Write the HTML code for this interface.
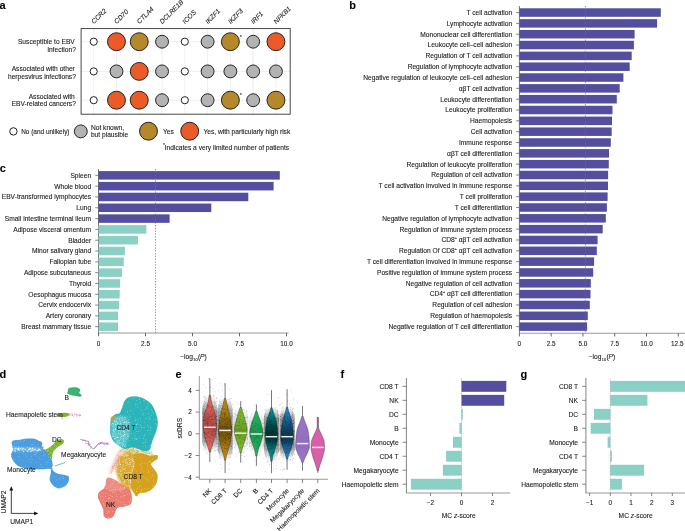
<!DOCTYPE html>
<html><head><meta charset="utf-8"><style>
html,body{margin:0;padding:0;background:#fff;width:685px;height:531px;overflow:hidden}
svg{display:block;will-change:transform;font-family:"Liberation Sans", sans-serif;fill:#1a1a1a}
text{stroke:#1a1a1a;stroke-width:0.1px}
</style></head><body>
<svg width="685" height="531" viewBox="0 0 685 531">
<g fill="#1a1a1a">
<text x="-0.6" y="9.2" font-size="11" font-weight="bold" fill="#000">a</text>
<text x="349.3" y="9.0" font-size="11" font-weight="bold" fill="#000">b</text>
<text x="-0.3" y="172.0" font-size="11" font-weight="bold" fill="#000">c</text>
<text x="-0.6" y="378.0" font-size="11" font-weight="bold" fill="#000">d</text>
<text x="175.6" y="378.1" font-size="11" font-weight="bold" fill="#000">e</text>
<text x="340.6" y="378.0" font-size="11" font-weight="bold" fill="#000">f</text>
<text x="520.6" y="377.6" font-size="11" font-weight="bold" fill="#000">g</text>
<line x1="93.70" y1="28.6" x2="93.70" y2="114.2" stroke="#e4e4e4" stroke-width="0.6"/>
<line x1="116.48" y1="28.6" x2="116.48" y2="114.2" stroke="#e4e4e4" stroke-width="0.6"/>
<line x1="139.26" y1="28.6" x2="139.26" y2="114.2" stroke="#e4e4e4" stroke-width="0.6"/>
<line x1="162.04" y1="28.6" x2="162.04" y2="114.2" stroke="#e4e4e4" stroke-width="0.6"/>
<line x1="184.82" y1="28.6" x2="184.82" y2="114.2" stroke="#e4e4e4" stroke-width="0.6"/>
<line x1="207.60" y1="28.6" x2="207.60" y2="114.2" stroke="#e4e4e4" stroke-width="0.6"/>
<line x1="230.38" y1="28.6" x2="230.38" y2="114.2" stroke="#e4e4e4" stroke-width="0.6"/>
<line x1="253.16" y1="28.6" x2="253.16" y2="114.2" stroke="#e4e4e4" stroke-width="0.6"/>
<line x1="275.94" y1="28.6" x2="275.94" y2="114.2" stroke="#e4e4e4" stroke-width="0.6"/>
<line x1="81" y1="41.7" x2="290.2" y2="41.7" stroke="#e4e4e4" stroke-width="0.6"/>
<line x1="81" y1="71.4" x2="290.2" y2="71.4" stroke="#e4e4e4" stroke-width="0.6"/>
<line x1="81" y1="100.2" x2="290.2" y2="100.2" stroke="#e4e4e4" stroke-width="0.6"/>
<rect x="81.1" y="28.6" width="209.1" height="85.6" fill="none" stroke="#333" stroke-width="0.9"/>
<text transform="translate(94.00,24.2) rotate(-45)" font-size="6.65" font-style="italic">CCR2</text>
<text transform="translate(116.78,24.2) rotate(-45)" font-size="6.65" font-style="italic">CD70</text>
<text transform="translate(139.56,24.2) rotate(-45)" font-size="6.65" font-style="italic">CTLA4</text>
<text transform="translate(162.34,24.2) rotate(-45)" font-size="6.65" font-style="italic">DCLRE1B</text>
<text transform="translate(185.12,24.2) rotate(-45)" font-size="6.65" font-style="italic">ICOS</text>
<text transform="translate(207.90,24.2) rotate(-45)" font-size="6.65" font-style="italic">IKZF1</text>
<text transform="translate(230.68,24.2) rotate(-45)" font-size="6.65" font-style="italic">IKZF3</text>
<text transform="translate(253.46,24.2) rotate(-45)" font-size="6.65" font-style="italic">IRF1</text>
<text transform="translate(276.24,24.2) rotate(-45)" font-size="6.65" font-style="italic">NFKB1</text>
<circle cx="93.70" cy="41.70" r="3.6" fill="#fff" stroke="#222" stroke-width="1.0"/>
<circle cx="116.48" cy="41.70" r="8.95" fill="#ea5b28" stroke="#222" stroke-width="1.0"/>
<circle cx="139.26" cy="41.70" r="8.95" fill="#b5892b" stroke="#222" stroke-width="1.0"/>
<circle cx="162.04" cy="41.70" r="6.45" fill="#b3b3b3" stroke="#222" stroke-width="1.0"/>
<circle cx="184.82" cy="41.70" r="3.6" fill="#fff" stroke="#222" stroke-width="1.0"/>
<circle cx="207.60" cy="41.70" r="6.45" fill="#b3b3b3" stroke="#222" stroke-width="1.0"/>
<circle cx="230.38" cy="41.70" r="8.95" fill="#b5892b" stroke="#222" stroke-width="1.0"/>
<circle cx="253.16" cy="41.70" r="6.45" fill="#b3b3b3" stroke="#222" stroke-width="1.0"/>
<circle cx="275.94" cy="41.70" r="8.95" fill="#ea5b28" stroke="#222" stroke-width="1.0"/>
<circle cx="93.70" cy="71.40" r="3.6" fill="#fff" stroke="#222" stroke-width="1.0"/>
<circle cx="116.48" cy="71.40" r="6.45" fill="#b3b3b3" stroke="#222" stroke-width="1.0"/>
<circle cx="139.26" cy="71.40" r="8.95" fill="#ea5b28" stroke="#222" stroke-width="1.0"/>
<circle cx="162.04" cy="71.40" r="6.45" fill="#b3b3b3" stroke="#222" stroke-width="1.0"/>
<circle cx="184.82" cy="71.40" r="3.6" fill="#fff" stroke="#222" stroke-width="1.0"/>
<circle cx="207.60" cy="71.40" r="6.45" fill="#b3b3b3" stroke="#222" stroke-width="1.0"/>
<circle cx="230.38" cy="71.40" r="6.45" fill="#b3b3b3" stroke="#222" stroke-width="1.0"/>
<circle cx="253.16" cy="71.40" r="6.45" fill="#b3b3b3" stroke="#222" stroke-width="1.0"/>
<circle cx="275.94" cy="71.40" r="6.45" fill="#b3b3b3" stroke="#222" stroke-width="1.0"/>
<circle cx="93.70" cy="100.20" r="3.6" fill="#fff" stroke="#222" stroke-width="1.0"/>
<circle cx="116.48" cy="100.20" r="8.95" fill="#ea5b28" stroke="#222" stroke-width="1.0"/>
<circle cx="139.26" cy="100.20" r="8.95" fill="#ea5b28" stroke="#222" stroke-width="1.0"/>
<circle cx="162.04" cy="100.20" r="6.45" fill="#b3b3b3" stroke="#222" stroke-width="1.0"/>
<circle cx="184.82" cy="100.20" r="3.6" fill="#fff" stroke="#222" stroke-width="1.0"/>
<circle cx="207.60" cy="100.20" r="6.45" fill="#b3b3b3" stroke="#222" stroke-width="1.0"/>
<circle cx="230.38" cy="100.20" r="8.95" fill="#b5892b" stroke="#222" stroke-width="1.0"/>
<circle cx="253.16" cy="100.20" r="6.45" fill="#b3b3b3" stroke="#222" stroke-width="1.0"/>
<circle cx="275.94" cy="100.20" r="8.95" fill="#b5892b" stroke="#222" stroke-width="1.0"/>
<text x="239.98" y="38.50" text-anchor="start" font-size="4.5" >*</text>
<text x="239.98" y="97.00" text-anchor="start" font-size="4.5" >*</text>
<text x="74.80" y="44.30" text-anchor="end" font-size="6.65" >Susceptible to EBV</text>
<text x="75.90" y="51.90" text-anchor="end" font-size="6.65" >infection?</text>
<text x="74.80" y="71.40" text-anchor="end" font-size="6.65" >Associated with other</text>
<text x="75.90" y="79.00" text-anchor="end" font-size="6.65" >herpesvirus infections?</text>
<text x="74.80" y="98.60" text-anchor="end" font-size="6.65" >Associated with</text>
<text x="75.90" y="106.10" text-anchor="end" font-size="6.65" >EBV-related cancers?</text>
<circle cx="13.4" cy="131.4" r="3.7" fill="#fff" stroke="#222" stroke-width="1.0"/>
<text x="21.20" y="133.70" text-anchor="start" font-size="6.45" >No (and unlikely)</text>
<circle cx="80.8" cy="131.4" r="6.45" fill="#b3b3b3" stroke="#222" stroke-width="1.0"/>
<text x="90.90" y="129.90" text-anchor="start" font-size="6.65" >Not known,</text>
<text x="90.90" y="137.40" text-anchor="start" font-size="6.65" >but plausible</text>
<circle cx="148.5" cy="131.2" r="8.95" fill="#b5892b" stroke="#222" stroke-width="1.0"/>
<text x="163.00" y="133.60" text-anchor="start" font-size="6.65" >Yes</text>
<circle cx="189.7" cy="131.2" r="8.95" fill="#ea5b28" stroke="#222" stroke-width="1.0"/>
<text x="203.40" y="133.60" text-anchor="start" font-size="6.65" >Yes, with particularly high risk</text>
<text x="163.00" y="147.00" text-anchor="start" font-size="4.5" >*</text>
<text x="164.70" y="149.60" text-anchor="start" font-size="6.65" >Indicates a very limited number of patients</text>
<line x1="519.40" y1="6.0" x2="519.40" y2="333.2" stroke="#666" stroke-width="0.9"/>
<rect x="519.40" y="8.30" width="141.40" height="8.5" fill="#534f9e"/>
<line x1="516.10" y1="12.55" x2="519.40" y2="12.55" stroke="#555" stroke-width="0.7"/>
<text x="512.10" y="14.90" text-anchor="end" font-size="6.65" >T cell activation</text>
<rect x="519.40" y="19.13" width="137.70" height="8.5" fill="#534f9e"/>
<line x1="516.10" y1="23.38" x2="519.40" y2="23.38" stroke="#555" stroke-width="0.7"/>
<text x="512.10" y="25.73" text-anchor="end" font-size="6.65" >Lymphocyte activation</text>
<rect x="519.40" y="29.96" width="115.20" height="8.5" fill="#534f9e"/>
<line x1="516.10" y1="34.21" x2="519.40" y2="34.21" stroke="#555" stroke-width="0.7"/>
<text x="512.10" y="36.56" text-anchor="end" font-size="6.65" >Mononuclear cell differentiation</text>
<rect x="519.40" y="40.79" width="114.50" height="8.5" fill="#534f9e"/>
<line x1="516.10" y1="45.04" x2="519.40" y2="45.04" stroke="#555" stroke-width="0.7"/>
<text x="512.10" y="47.39" text-anchor="end" font-size="6.65" >Leukocyte cell–cell adhesion</text>
<rect x="519.40" y="51.62" width="112.30" height="8.5" fill="#534f9e"/>
<line x1="516.10" y1="55.87" x2="519.40" y2="55.87" stroke="#555" stroke-width="0.7"/>
<text x="512.10" y="58.22" text-anchor="end" font-size="6.65" >Regulation of T cell activation</text>
<rect x="519.40" y="62.45" width="110.30" height="8.5" fill="#534f9e"/>
<line x1="516.10" y1="66.70" x2="519.40" y2="66.70" stroke="#555" stroke-width="0.7"/>
<text x="512.10" y="69.05" text-anchor="end" font-size="6.65" >Regulation of lymphocyte activation</text>
<rect x="519.40" y="73.28" width="104.00" height="8.5" fill="#534f9e"/>
<line x1="516.10" y1="77.53" x2="519.40" y2="77.53" stroke="#555" stroke-width="0.7"/>
<text x="512.10" y="79.88" text-anchor="end" font-size="6.65" >Negative regulation of leukocyte cell–cell adhesion</text>
<rect x="519.40" y="84.11" width="100.30" height="8.5" fill="#534f9e"/>
<line x1="516.10" y1="88.36" x2="519.40" y2="88.36" stroke="#555" stroke-width="0.7"/>
<text x="512.10" y="90.71" text-anchor="end" font-size="6.65" >αβT cell activation</text>
<rect x="519.40" y="94.94" width="97.40" height="8.5" fill="#534f9e"/>
<line x1="516.10" y1="99.19" x2="519.40" y2="99.19" stroke="#555" stroke-width="0.7"/>
<text x="512.10" y="101.54" text-anchor="end" font-size="6.65" >Leukocyte differentiation</text>
<rect x="519.40" y="105.77" width="93.10" height="8.5" fill="#534f9e"/>
<line x1="516.10" y1="110.02" x2="519.40" y2="110.02" stroke="#555" stroke-width="0.7"/>
<text x="512.10" y="112.37" text-anchor="end" font-size="6.65" >Leukocyte proliferation</text>
<rect x="519.40" y="116.60" width="92.60" height="8.5" fill="#534f9e"/>
<line x1="516.10" y1="120.85" x2="519.40" y2="120.85" stroke="#555" stroke-width="0.7"/>
<text x="512.10" y="123.20" text-anchor="end" font-size="6.65" >Haemopoiesis</text>
<rect x="519.40" y="127.43" width="92.30" height="8.5" fill="#534f9e"/>
<line x1="516.10" y1="131.68" x2="519.40" y2="131.68" stroke="#555" stroke-width="0.7"/>
<text x="512.10" y="134.03" text-anchor="end" font-size="6.65" >Cell activation</text>
<rect x="519.40" y="138.26" width="91.40" height="8.5" fill="#534f9e"/>
<line x1="516.10" y1="142.51" x2="519.40" y2="142.51" stroke="#555" stroke-width="0.7"/>
<text x="512.10" y="144.86" text-anchor="end" font-size="6.65" >Immune response</text>
<rect x="519.40" y="149.09" width="89.60" height="8.5" fill="#534f9e"/>
<line x1="516.10" y1="153.34" x2="519.40" y2="153.34" stroke="#555" stroke-width="0.7"/>
<text x="512.10" y="155.69" text-anchor="end" font-size="6.65" >αβT cell differentiation</text>
<rect x="519.40" y="159.92" width="89.40" height="8.5" fill="#534f9e"/>
<line x1="516.10" y1="164.17" x2="519.40" y2="164.17" stroke="#555" stroke-width="0.7"/>
<text x="512.10" y="166.52" text-anchor="end" font-size="6.65" >Regulation of leukocyte proliferation</text>
<rect x="519.40" y="170.75" width="88.70" height="8.5" fill="#534f9e"/>
<line x1="516.10" y1="175.00" x2="519.40" y2="175.00" stroke="#555" stroke-width="0.7"/>
<text x="512.10" y="177.35" text-anchor="end" font-size="6.65" >Regulation of cell activation</text>
<rect x="519.40" y="181.58" width="88.60" height="8.5" fill="#534f9e"/>
<line x1="516.10" y1="185.83" x2="519.40" y2="185.83" stroke="#555" stroke-width="0.7"/>
<text x="512.10" y="188.18" text-anchor="end" font-size="6.65" >T cell activation involved in immune response</text>
<rect x="519.40" y="192.41" width="88.20" height="8.5" fill="#534f9e"/>
<line x1="516.10" y1="196.66" x2="519.40" y2="196.66" stroke="#555" stroke-width="0.7"/>
<text x="512.10" y="199.01" text-anchor="end" font-size="6.65" >T cell proliferation</text>
<rect x="519.40" y="203.24" width="87.50" height="8.5" fill="#534f9e"/>
<line x1="516.10" y1="207.49" x2="519.40" y2="207.49" stroke="#555" stroke-width="0.7"/>
<text x="512.10" y="209.84" text-anchor="end" font-size="6.65" >T cell differentiation</text>
<rect x="519.40" y="214.07" width="86.40" height="8.5" fill="#534f9e"/>
<line x1="516.10" y1="218.32" x2="519.40" y2="218.32" stroke="#555" stroke-width="0.7"/>
<text x="512.10" y="220.67" text-anchor="end" font-size="6.65" >Negative regulation of lymphocyte activation</text>
<rect x="519.40" y="224.90" width="83.30" height="8.5" fill="#534f9e"/>
<line x1="516.10" y1="229.15" x2="519.40" y2="229.15" stroke="#555" stroke-width="0.7"/>
<text x="512.10" y="231.50" text-anchor="end" font-size="6.65" >Regulation of immune system process</text>
<rect x="519.40" y="235.73" width="78.20" height="8.5" fill="#534f9e"/>
<line x1="516.10" y1="239.98" x2="519.40" y2="239.98" stroke="#555" stroke-width="0.7"/>
<text x="512.10" y="242.33" text-anchor="end" font-size="6.65" >CD8<tspan font-size="3.8" dy="-3.1">+</tspan><tspan dy="3.1"> αβT cell activation</tspan></text>
<rect x="519.40" y="246.56" width="77.40" height="8.5" fill="#534f9e"/>
<line x1="516.10" y1="250.81" x2="519.40" y2="250.81" stroke="#555" stroke-width="0.7"/>
<text x="512.10" y="253.16" text-anchor="end" font-size="6.65" >Regulation Of CD8<tspan font-size="3.8" dy="-3.1">+</tspan><tspan dy="3.1"> αβT cell activation</tspan></text>
<rect x="519.40" y="257.39" width="74.70" height="8.5" fill="#534f9e"/>
<line x1="516.10" y1="261.64" x2="519.40" y2="261.64" stroke="#555" stroke-width="0.7"/>
<text x="512.10" y="263.99" text-anchor="end" font-size="6.65" >T cell differentiation involved in immune response</text>
<rect x="519.40" y="268.22" width="73.80" height="8.5" fill="#534f9e"/>
<line x1="516.10" y1="272.47" x2="519.40" y2="272.47" stroke="#555" stroke-width="0.7"/>
<text x="512.10" y="274.82" text-anchor="end" font-size="6.65" >Positive regulation of immune system process</text>
<rect x="519.40" y="279.05" width="71.40" height="8.5" fill="#534f9e"/>
<line x1="516.10" y1="283.30" x2="519.40" y2="283.30" stroke="#555" stroke-width="0.7"/>
<text x="512.10" y="285.65" text-anchor="end" font-size="6.65" >Negative regulation of cell activation</text>
<rect x="519.40" y="289.88" width="71.10" height="8.5" fill="#534f9e"/>
<line x1="516.10" y1="294.13" x2="519.40" y2="294.13" stroke="#555" stroke-width="0.7"/>
<text x="512.10" y="296.48" text-anchor="end" font-size="6.65" >CD4<tspan font-size="3.8" dy="-3.1">+</tspan><tspan dy="3.1"> αβT cell differentiation</tspan></text>
<rect x="519.40" y="300.71" width="70.40" height="8.5" fill="#534f9e"/>
<line x1="516.10" y1="304.96" x2="519.40" y2="304.96" stroke="#555" stroke-width="0.7"/>
<text x="512.10" y="307.31" text-anchor="end" font-size="6.65" >Regulation of cell adhesion</text>
<rect x="519.40" y="311.54" width="68.40" height="8.5" fill="#534f9e"/>
<line x1="516.10" y1="315.79" x2="519.40" y2="315.79" stroke="#555" stroke-width="0.7"/>
<text x="512.10" y="318.14" text-anchor="end" font-size="6.65" >Regulation of haemopoiesis</text>
<rect x="519.40" y="322.37" width="67.70" height="8.5" fill="#534f9e"/>
<line x1="516.10" y1="326.62" x2="519.40" y2="326.62" stroke="#555" stroke-width="0.7"/>
<text x="512.10" y="328.97" text-anchor="end" font-size="6.65" >Negative regulation of T cell differentiation</text>
<line x1="519.00" y1="333.2" x2="685" y2="333.2" stroke="#9a9a9a" stroke-width="1.1"/>
<line x1="519.40" y1="333.2" x2="519.40" y2="336.5" stroke="#444" stroke-width="0.8"/>
<text x="519.40" y="345.80" text-anchor="middle" font-size="6.4" >0</text>
<line x1="551.17" y1="333.2" x2="551.17" y2="336.5" stroke="#444" stroke-width="0.8"/>
<text x="551.17" y="345.80" text-anchor="middle" font-size="6.4" >2.5</text>
<line x1="582.95" y1="333.2" x2="582.95" y2="336.5" stroke="#444" stroke-width="0.8"/>
<text x="582.95" y="345.80" text-anchor="middle" font-size="6.4" >5.0</text>
<line x1="614.73" y1="333.2" x2="614.73" y2="336.5" stroke="#444" stroke-width="0.8"/>
<text x="614.73" y="345.80" text-anchor="middle" font-size="6.4" >7.5</text>
<line x1="646.50" y1="333.2" x2="646.50" y2="336.5" stroke="#444" stroke-width="0.8"/>
<text x="646.50" y="345.80" text-anchor="middle" font-size="6.4" >10.0</text>
<line x1="678.27" y1="333.2" x2="678.27" y2="336.5" stroke="#444" stroke-width="0.8"/>
<text x="677.27" y="345.80" text-anchor="middle" font-size="6.4" >12.5</text>
<line x1="585.40" y1="6.0" x2="585.40" y2="333.2" stroke="#c4503c" stroke-width="0.7" stroke-dasharray="1.4,1.4"/>
<text x="602" y="359.2" font-size="6.65" text-anchor="middle">−log<tspan font-size="3.8" dx="0.3" dy="1.8">10</tspan><tspan dx="0.4" dy="-1.8">(</tspan><tspan font-style="italic">P</tspan>)</text>
<line x1="98.50" y1="169.0" x2="98.50" y2="333.0" stroke="#666" stroke-width="0.9"/>
<rect x="98.50" y="171.10" width="181.30" height="8.5" fill="#534f9e"/>
<line x1="95.20" y1="175.35" x2="98.50" y2="175.35" stroke="#555" stroke-width="0.7"/>
<text x="91.10" y="177.70" text-anchor="end" font-size="6.65" >Spleen</text>
<rect x="98.50" y="181.91" width="175.10" height="8.5" fill="#534f9e"/>
<line x1="95.20" y1="186.16" x2="98.50" y2="186.16" stroke="#555" stroke-width="0.7"/>
<text x="91.10" y="188.51" text-anchor="end" font-size="6.65" >Whole blood</text>
<rect x="98.50" y="192.72" width="149.80" height="8.5" fill="#534f9e"/>
<line x1="95.20" y1="196.97" x2="98.50" y2="196.97" stroke="#555" stroke-width="0.7"/>
<text x="91.10" y="199.32" text-anchor="end" font-size="6.65" >EBV-transformed lymphocytes</text>
<rect x="98.50" y="203.53" width="112.80" height="8.5" fill="#534f9e"/>
<line x1="95.20" y1="207.78" x2="98.50" y2="207.78" stroke="#555" stroke-width="0.7"/>
<text x="91.10" y="210.13" text-anchor="end" font-size="6.65" >Lung</text>
<rect x="98.50" y="214.34" width="71.10" height="8.5" fill="#534f9e"/>
<line x1="95.20" y1="218.59" x2="98.50" y2="218.59" stroke="#555" stroke-width="0.7"/>
<text x="91.10" y="220.94" text-anchor="end" font-size="6.65" >Small intestine terminal ileum</text>
<rect x="98.50" y="225.15" width="47.90" height="8.5" fill="#8bd0c5"/>
<line x1="95.20" y1="229.40" x2="98.50" y2="229.40" stroke="#555" stroke-width="0.7"/>
<text x="91.10" y="231.75" text-anchor="end" font-size="6.65" >Adipose visceral omentum</text>
<rect x="98.50" y="235.96" width="39.40" height="8.5" fill="#8bd0c5"/>
<line x1="95.20" y1="240.21" x2="98.50" y2="240.21" stroke="#555" stroke-width="0.7"/>
<text x="91.10" y="242.56" text-anchor="end" font-size="6.65" >Bladder</text>
<rect x="98.50" y="246.77" width="26.40" height="8.5" fill="#8bd0c5"/>
<line x1="95.20" y1="251.02" x2="98.50" y2="251.02" stroke="#555" stroke-width="0.7"/>
<text x="91.10" y="253.37" text-anchor="end" font-size="6.65" >Minor salivary gland</text>
<rect x="98.50" y="257.58" width="25.30" height="8.5" fill="#8bd0c5"/>
<line x1="95.20" y1="261.83" x2="98.50" y2="261.83" stroke="#555" stroke-width="0.7"/>
<text x="91.10" y="264.18" text-anchor="end" font-size="6.65" >Fallopian tube</text>
<rect x="98.50" y="268.39" width="23.60" height="8.5" fill="#8bd0c5"/>
<line x1="95.20" y1="272.64" x2="98.50" y2="272.64" stroke="#555" stroke-width="0.7"/>
<text x="91.10" y="274.99" text-anchor="end" font-size="6.65" >Adipose subcutaneous</text>
<rect x="98.50" y="279.20" width="21.60" height="8.5" fill="#8bd0c5"/>
<line x1="95.20" y1="283.45" x2="98.50" y2="283.45" stroke="#555" stroke-width="0.7"/>
<text x="91.10" y="285.80" text-anchor="end" font-size="6.65" >Thyroid</text>
<rect x="98.50" y="290.01" width="21.20" height="8.5" fill="#8bd0c5"/>
<line x1="95.20" y1="294.26" x2="98.50" y2="294.26" stroke="#555" stroke-width="0.7"/>
<text x="91.10" y="296.61" text-anchor="end" font-size="6.65" >Oesophagus mucosa</text>
<rect x="98.50" y="300.82" width="20.60" height="8.5" fill="#8bd0c5"/>
<line x1="95.20" y1="305.07" x2="98.50" y2="305.07" stroke="#555" stroke-width="0.7"/>
<text x="91.10" y="307.42" text-anchor="end" font-size="6.65" >Cervix endocervix</text>
<rect x="98.50" y="311.63" width="19.50" height="8.5" fill="#8bd0c5"/>
<line x1="95.20" y1="315.88" x2="98.50" y2="315.88" stroke="#555" stroke-width="0.7"/>
<text x="91.10" y="318.23" text-anchor="end" font-size="6.65" >Artery coronary</text>
<rect x="98.50" y="322.44" width="19.50" height="8.5" fill="#8bd0c5"/>
<line x1="95.20" y1="326.69" x2="98.50" y2="326.69" stroke="#555" stroke-width="0.7"/>
<text x="91.10" y="329.04" text-anchor="end" font-size="6.65" >Breast mammary tissue</text>
<line x1="98.10" y1="333.0" x2="288.6" y2="333.0" stroke="#9a9a9a" stroke-width="1.1"/>
<line x1="98.50" y1="333.0" x2="98.50" y2="336.3" stroke="#444" stroke-width="0.8"/>
<text x="98.50" y="345.60" text-anchor="middle" font-size="6.4" >0</text>
<line x1="145.50" y1="333.0" x2="145.50" y2="336.3" stroke="#444" stroke-width="0.8"/>
<text x="145.50" y="345.60" text-anchor="middle" font-size="6.4" >2.5</text>
<line x1="192.50" y1="333.0" x2="192.50" y2="336.3" stroke="#444" stroke-width="0.8"/>
<text x="192.50" y="345.60" text-anchor="middle" font-size="6.4" >5.0</text>
<line x1="239.50" y1="333.0" x2="239.50" y2="336.3" stroke="#444" stroke-width="0.8"/>
<text x="239.50" y="345.60" text-anchor="middle" font-size="6.4" >7.5</text>
<line x1="286.50" y1="333.0" x2="286.50" y2="336.3" stroke="#444" stroke-width="0.8"/>
<text x="286.50" y="345.60" text-anchor="middle" font-size="6.4" >10.0</text>
<line x1="155.50" y1="169.0" x2="155.50" y2="333.0" stroke="#c4503c" stroke-width="0.7" stroke-dasharray="1.4,1.4"/>
<text x="193.5" y="359.0" font-size="6.65" text-anchor="middle">−log<tspan font-size="3.8" dx="0.3" dy="1.8">10</tspan><tspan dx="0.4" dy="-1.8">(</tspan><tspan font-style="italic">P</tspan>)</text>
<rect x="461.50" y="380.90" width="44.80" height="10.9" fill="#534f9e"/>
<line x1="402.60" y1="386.35" x2="406.40" y2="386.35" stroke="#555" stroke-width="0.7"/>
<text x="398.60" y="388.70" text-anchor="end" font-size="6.65" >CD8 T</text>
<rect x="461.50" y="394.88" width="42.70" height="10.9" fill="#534f9e"/>
<line x1="402.60" y1="400.33" x2="406.40" y2="400.33" stroke="#555" stroke-width="0.7"/>
<text x="398.60" y="402.68" text-anchor="end" font-size="6.65" >NK</text>
<rect x="461.50" y="408.86" width="1.30" height="10.9" fill="#8bd0c5"/>
<line x1="402.60" y1="414.31" x2="406.40" y2="414.31" stroke="#555" stroke-width="0.7"/>
<text x="398.60" y="416.66" text-anchor="end" font-size="6.65" >DC</text>
<rect x="459.40" y="422.84" width="2.10" height="10.9" fill="#8bd0c5"/>
<line x1="402.60" y1="428.29" x2="406.40" y2="428.29" stroke="#555" stroke-width="0.7"/>
<text x="398.60" y="430.64" text-anchor="end" font-size="6.65" >B</text>
<rect x="453.00" y="436.82" width="8.50" height="10.9" fill="#8bd0c5"/>
<line x1="402.60" y1="442.27" x2="406.40" y2="442.27" stroke="#555" stroke-width="0.7"/>
<text x="398.60" y="444.62" text-anchor="end" font-size="6.65" >Monocyte</text>
<rect x="446.10" y="450.80" width="15.40" height="10.9" fill="#8bd0c5"/>
<line x1="402.60" y1="456.25" x2="406.40" y2="456.25" stroke="#555" stroke-width="0.7"/>
<text x="398.60" y="458.60" text-anchor="end" font-size="6.65" >CD4 T</text>
<rect x="442.90" y="464.78" width="18.60" height="10.9" fill="#8bd0c5"/>
<line x1="402.60" y1="470.23" x2="406.40" y2="470.23" stroke="#555" stroke-width="0.7"/>
<text x="398.60" y="472.58" text-anchor="end" font-size="6.65" >Megakaryocyte</text>
<rect x="410.90" y="478.76" width="50.60" height="10.9" fill="#8bd0c5"/>
<line x1="402.60" y1="484.21" x2="406.40" y2="484.21" stroke="#555" stroke-width="0.7"/>
<text x="398.60" y="486.56" text-anchor="end" font-size="6.65" >Haemopoietic stem</text>
<line x1="461.50" y1="378.5" x2="461.50" y2="493" stroke="#888" stroke-width="0.6" stroke-dasharray="0.8,0.8"/>
<line x1="406.40" y1="378" x2="406.40" y2="493" stroke="#666" stroke-width="0.8"/>
<line x1="406.00" y1="493" x2="510" y2="493" stroke="#9a9a9a" stroke-width="1.1"/>
<line x1="430.50" y1="493" x2="430.50" y2="496" stroke="#555" stroke-width="0.7"/>
<text x="430.50" y="505.20" text-anchor="middle" font-size="6.4" >−2</text>
<line x1="461.50" y1="493" x2="461.50" y2="496" stroke="#555" stroke-width="0.7"/>
<text x="461.50" y="505.20" text-anchor="middle" font-size="6.4" >0</text>
<line x1="492.50" y1="493" x2="492.50" y2="496" stroke="#555" stroke-width="0.7"/>
<text x="492.50" y="505.20" text-anchor="middle" font-size="6.4" >2</text>
<text x="458.7" y="518.4" font-size="6.65" text-anchor="middle">MC <tspan font-style="italic">z</tspan>-score</text>
<rect x="610.30" y="380.90" width="79.70" height="10.9" fill="#8bd0c5"/>
<line x1="582.10" y1="386.35" x2="585.90" y2="386.35" stroke="#555" stroke-width="0.7"/>
<text x="578.00" y="388.70" text-anchor="end" font-size="6.65" >CD8 T</text>
<rect x="610.30" y="394.88" width="37.10" height="10.9" fill="#8bd0c5"/>
<line x1="582.10" y1="400.33" x2="585.90" y2="400.33" stroke="#555" stroke-width="0.7"/>
<text x="578.00" y="402.68" text-anchor="end" font-size="6.65" >NK</text>
<rect x="594.00" y="408.86" width="16.30" height="10.9" fill="#8bd0c5"/>
<line x1="582.10" y1="414.31" x2="585.90" y2="414.31" stroke="#555" stroke-width="0.7"/>
<text x="578.00" y="416.66" text-anchor="end" font-size="6.65" >DC</text>
<rect x="590.70" y="422.84" width="19.60" height="10.9" fill="#8bd0c5"/>
<line x1="582.10" y1="428.29" x2="585.90" y2="428.29" stroke="#555" stroke-width="0.7"/>
<text x="578.00" y="430.64" text-anchor="end" font-size="6.65" >B</text>
<rect x="607.60" y="436.82" width="2.70" height="10.9" fill="#8bd0c5"/>
<line x1="582.10" y1="442.27" x2="585.90" y2="442.27" stroke="#555" stroke-width="0.7"/>
<text x="578.00" y="444.62" text-anchor="end" font-size="6.65" >Monocyte</text>
<rect x="610.30" y="450.80" width="1.60" height="10.9" fill="#8bd0c5"/>
<line x1="582.10" y1="456.25" x2="585.90" y2="456.25" stroke="#555" stroke-width="0.7"/>
<text x="578.00" y="458.60" text-anchor="end" font-size="6.65" >CD4 T</text>
<rect x="610.30" y="464.78" width="33.70" height="10.9" fill="#8bd0c5"/>
<line x1="582.10" y1="470.23" x2="585.90" y2="470.23" stroke="#555" stroke-width="0.7"/>
<text x="578.00" y="472.58" text-anchor="end" font-size="6.65" >Megakaryocyte</text>
<rect x="610.30" y="478.76" width="11.60" height="10.9" fill="#8bd0c5"/>
<line x1="582.10" y1="484.21" x2="585.90" y2="484.21" stroke="#555" stroke-width="0.7"/>
<text x="578.00" y="486.56" text-anchor="end" font-size="6.65" >Haemopoietic stem</text>
<line x1="610.30" y1="378.5" x2="610.30" y2="493" stroke="#888" stroke-width="0.6" stroke-dasharray="0.8,0.8"/>
<line x1="585.90" y1="378" x2="585.90" y2="493" stroke="#666" stroke-width="0.8"/>
<line x1="585.50" y1="493" x2="685" y2="493" stroke="#9a9a9a" stroke-width="1.1"/>
<line x1="589.62" y1="493" x2="589.62" y2="496" stroke="#555" stroke-width="0.7"/>
<text x="589.62" y="505.20" text-anchor="middle" font-size="6.4" >−1</text>
<line x1="610.30" y1="493" x2="610.30" y2="496" stroke="#555" stroke-width="0.7"/>
<text x="610.30" y="505.20" text-anchor="middle" font-size="6.4" >0</text>
<line x1="630.98" y1="493" x2="630.98" y2="496" stroke="#555" stroke-width="0.7"/>
<text x="630.98" y="505.20" text-anchor="middle" font-size="6.4" >1</text>
<line x1="651.66" y1="493" x2="651.66" y2="496" stroke="#555" stroke-width="0.7"/>
<text x="651.66" y="505.20" text-anchor="middle" font-size="6.4" >2</text>
<line x1="672.34" y1="493" x2="672.34" y2="496" stroke="#555" stroke-width="0.7"/>
<text x="672.34" y="505.20" text-anchor="middle" font-size="6.4" >3</text>
<text x="635.6" y="518.4" font-size="6.65" text-anchor="middle">MC <tspan font-style="italic">z</tspan>-score</text>
<defs><filter id="bl" x="-20%" y="-20%" width="140%" height="140%"><feGaussianBlur stdDeviation="1.3"/></filter><filter id="bl2" x="-20%" y="-20%" width="140%" height="140%"><feGaussianBlur stdDeviation="0.6"/></filter></defs>
<path d="M120.0,456.0C121.5,454.5 123.7,453.4 126.0,453.0C128.3,452.6 132.9,452.6 134.0,453.6C135.1,454.6 132.5,457.2 132.6,458.8C132.7,460.4 134.3,461.9 134.5,463.5C134.7,465.1 134.0,466.5 133.5,468.2C133.0,469.9 132.2,471.7 131.7,473.9C131.2,476.1 130.7,478.9 130.7,481.4C130.7,483.9 132.1,487.6 131.5,489.0C130.9,490.4 128.6,490.5 127.0,490.0C125.4,489.5 123.5,488.0 122.0,486.0C120.5,484.0 119.0,480.7 118.0,478.0C117.0,475.3 116.2,472.7 116.0,470.0C115.8,467.3 116.3,464.3 117.0,462.0C117.7,459.7 118.5,457.5 120.0,456.0Z" fill="#d6a11e" fill-opacity="0.9" filter="url(#bl)"/>
<path d="M121.0,449.0C122.3,447.9 128.8,447.3 132.0,447.5C135.2,447.7 137.0,449.4 140.0,450.0C143.0,450.6 147.8,450.2 150.0,451.0C152.2,451.8 154.5,454.6 153.0,455.0C151.5,455.4 144.3,453.6 141.0,453.5C137.7,453.4 135.8,454.4 133.0,454.5C130.2,454.6 126.0,454.9 124.0,454.0C122.0,453.1 119.7,450.1 121.0,449.0Z" fill="#d6a11e" fill-opacity="0.4" filter="url(#bl)"/>
<path d="M119.0,450.0C120.5,448.2 122.5,448.3 122.0,451.0C121.5,453.7 117.7,462.3 116.0,466.0C114.3,469.7 113.2,471.8 112.0,473.0C110.8,474.2 108.8,474.8 109.0,473.0C109.2,471.2 111.3,465.8 113.0,462.0C114.7,458.2 117.5,451.8 119.0,450.0Z" fill="#ec7b70" fill-opacity="0.35" filter="url(#bl)"/>
<path d="M108.5,477.6C109.9,477.5 112.5,478.4 114.6,479.5C116.7,480.6 118.9,482.8 121.0,484.0C123.1,485.2 125.6,486.1 127.0,487.0C128.4,487.9 128.8,488.4 129.6,489.7C130.3,491.0 131.2,492.8 131.5,495.0C131.8,497.2 132.2,501.3 131.1,503.2C130.0,505.1 127.3,505.5 125.1,506.2C122.9,506.9 119.6,506.7 118.0,507.5C116.4,508.3 116.3,509.4 115.5,511.0C114.7,512.5 114.3,515.5 113.1,516.8C111.8,518.0 109.5,518.6 108.0,518.5C106.5,518.4 104.8,517.5 104.0,516.0C103.2,514.5 104.0,511.5 103.3,509.2C102.6,506.9 100.9,504.0 100.0,502.0C99.1,500.0 98.2,498.6 98.0,497.0C97.8,495.4 98.2,493.8 99.0,492.5C99.8,491.2 101.9,490.8 103.0,489.5C104.1,488.2 105.0,486.6 105.5,485.0C106.0,483.4 105.5,481.2 106.0,480.0C106.5,478.8 107.1,477.7 108.5,477.6Z" fill="#ec7b70" fill-opacity="0.85" filter="url(#bl2)"/>
<path d="M124.5,400.9C125.4,399.5 126.6,398.2 128.0,397.5C129.4,396.8 131.0,396.5 133.0,396.4C135.0,396.3 137.7,396.3 140.0,397.0C142.3,397.7 145.0,399.2 147.0,400.5C149.0,401.8 150.7,403.2 152.0,405.0C153.3,406.8 154.1,408.8 155.0,411.0C155.9,413.2 156.8,415.7 157.3,418.0C157.8,420.3 158.0,422.7 157.8,425.0C157.6,427.3 156.7,429.8 156.0,432.0C155.3,434.2 154.2,436.0 153.5,438.0C152.8,440.0 152.2,442.0 151.5,444.0C150.8,446.0 150.8,448.8 149.5,450.0C148.2,451.2 145.9,451.2 144.0,451.0C142.1,450.8 140.0,449.6 138.0,449.0C136.0,448.4 134.2,447.5 132.0,447.5C129.8,447.5 127.1,449.2 125.0,449.0C122.9,448.8 121.5,447.5 119.6,446.2C117.7,444.9 115.0,443.3 113.5,441.3C112.0,439.3 111.0,436.4 110.4,434.0C109.9,431.6 110.2,429.2 110.2,427.0C110.2,424.8 110.3,422.7 110.6,421.0C110.9,419.3 111.3,418.0 112.2,416.8C113.1,415.6 114.8,414.6 116.0,414.0C117.2,413.4 118.7,414.0 119.6,413.2C120.5,412.4 121.0,410.2 121.5,409.0C122.0,407.8 122.1,407.2 122.6,405.8C123.1,404.4 123.6,402.3 124.5,400.9Z" fill="#2cb5bd" filter="url(#bl2)"/>
<path d="M133.5,454.1C134.9,453.2 138.4,453.0 141.1,453.2C143.8,453.4 146.8,455.2 149.5,455.5C152.2,455.8 155.8,454.6 157.1,455.1C158.4,455.7 158.2,457.7 157.6,458.8C157.0,459.9 154.4,460.8 153.3,461.7C152.2,462.6 150.8,463.2 151.0,464.5C151.2,465.8 153.2,467.6 154.3,469.2C155.4,470.8 156.8,472.3 157.3,474.0C157.8,475.7 157.7,477.6 157.4,479.5C157.1,481.4 156.5,483.5 155.5,485.2C154.5,486.9 153.1,488.3 151.5,489.5C149.9,490.7 147.9,491.9 146.0,492.5C144.1,493.1 141.6,492.3 140.0,493.0C138.4,493.7 137.5,496.5 136.5,496.5C135.5,496.5 134.8,494.2 134.0,493.0C133.2,491.8 132.1,490.9 131.5,489.0C130.9,487.1 130.7,483.9 130.7,481.4C130.7,478.9 131.2,476.1 131.7,473.9C132.2,471.7 133.0,469.9 133.5,468.2C134.0,466.5 134.7,465.1 134.5,463.5C134.3,461.9 132.8,460.4 132.6,458.8C132.4,457.2 132.1,455.0 133.5,454.1Z" fill="#d6a11e" filter="url(#bl2)"/>
<path d="M11.7,442.2C11.9,441.3 12.3,440.8 13.6,440.4C14.9,440.0 17.5,440.1 19.7,439.8C21.9,439.5 24.6,438.8 27.0,438.6C29.4,438.4 32.4,438.4 34.4,438.8C36.4,439.2 38.1,440.4 39.3,441.0C40.5,441.6 41.1,441.0 41.7,442.2C42.3,443.4 42.1,447.1 42.9,448.4C43.7,449.7 45.2,449.2 46.6,450.2C48.0,451.2 50.6,452.8 51.5,454.5C52.4,456.2 51.9,458.8 52.1,460.6C52.3,462.4 52.7,464.3 52.7,465.5C52.7,466.7 51.9,467.0 52.1,468.0C52.3,469.0 52.9,470.6 54.0,471.6C55.1,472.6 57.2,473.5 58.8,474.0C60.4,474.5 62.1,474.3 63.7,474.7C65.3,475.1 67.8,475.4 68.6,476.5C69.4,477.6 69.2,479.8 68.6,481.4C68.0,483.0 66.6,485.1 65.0,486.3C63.4,487.5 60.6,488.5 58.8,488.5C57.0,488.5 55.4,487.5 54.0,486.3C52.6,485.1 51.0,482.8 50.3,481.4C49.6,480.0 49.6,479.2 49.7,477.7C49.8,476.2 50.8,473.7 50.9,472.2C51.0,470.7 51.8,469.4 50.3,468.9C48.8,468.4 45.2,469.2 41.7,469.2C38.2,469.2 33.2,469.3 29.5,468.9C25.8,468.5 22.1,467.7 19.7,466.7C17.2,465.7 16.1,464.4 14.8,463.0C13.5,461.6 12.3,459.5 11.7,458.1C11.1,456.7 11.0,455.6 11.1,454.5C11.2,453.4 12.0,452.2 12.3,451.4C12.6,450.6 13.0,450.5 13.0,449.6C13.0,448.7 12.5,447.1 12.3,445.9C12.1,444.7 11.5,443.1 11.7,442.2Z" fill="#4a9ee0"/>
<path d="M44.5,451.0C44.5,450.2 46.5,449.2 47.5,448.5C48.5,447.8 49.6,447.2 50.5,446.5C51.4,445.8 52.2,445.3 53.0,444.5C53.8,443.7 54.6,442.3 55.5,441.5C56.4,440.7 57.5,439.9 58.5,439.5C59.5,439.1 60.6,438.8 61.5,439.0C62.4,439.2 63.5,439.8 63.8,440.5C64.1,441.2 64.0,442.2 63.5,443.0C63.0,443.8 61.9,444.3 61.0,445.0C60.1,445.7 58.9,446.3 58.0,447.0C57.1,447.7 56.2,448.2 55.5,449.0C54.8,449.8 54.0,450.5 53.5,451.5C53.0,452.5 52.5,453.7 52.2,455.0C51.9,456.3 51.9,458.8 51.6,459.5C51.3,460.2 50.9,459.7 50.5,459.0C50.1,458.3 50.0,456.5 49.5,455.5C49.0,454.5 48.3,453.8 47.5,453.0C46.7,452.2 44.5,451.8 44.5,451.0Z" fill="#7cb52c"/>
<path d="M68.6,388.3C69.2,387.7 70.2,387.6 71.6,387.5C73.0,387.4 75.4,387.1 76.8,387.4C78.2,387.6 79.3,388.4 79.9,389.0C80.5,389.6 80.3,390.7 80.2,391.3C80.1,391.9 78.9,391.8 79.1,392.4C79.3,393.0 81.0,394.1 81.4,394.7C81.8,395.3 81.8,395.9 81.4,396.2C81.0,396.5 80.1,396.8 79.1,396.7C78.1,396.6 76.4,396.0 75.3,395.8C74.2,395.6 73.2,395.6 72.3,395.4C71.4,395.2 70.9,395.0 70.1,394.7C69.3,394.4 67.8,394.2 67.4,393.6C67.0,393.0 67.6,391.8 67.8,390.9C68.0,390.0 68.0,388.9 68.6,388.3Z" fill="#3cb46e"/>
<path d="M57.5,414.5C58.2,414.0 60.6,413.5 62.0,413.2C63.4,412.9 64.7,412.7 66.0,412.8C67.3,412.9 69.5,413.4 69.7,414.0C69.9,414.6 68.3,415.9 67.0,416.4C65.7,416.9 63.5,417.0 62.0,417.0C60.5,417.0 58.8,416.6 58.0,416.2C57.2,415.8 56.8,415.0 57.5,414.5Z" fill="#7cb52c"/>
<path d="M104.0,489.0C106.2,488.6 109.3,489.6 112.0,490.0C114.7,490.4 117.5,491.7 120.0,491.5C122.5,491.3 125.4,489.3 127.0,489.0C128.6,488.7 128.8,488.7 129.6,489.7C130.3,490.7 131.2,492.8 131.5,495.0C131.8,497.2 132.2,501.3 131.1,503.2C130.0,505.1 127.3,505.5 125.1,506.2C122.9,506.9 119.6,506.7 118.0,507.5C116.4,508.3 116.3,509.4 115.5,511.0C114.7,512.5 114.3,515.5 113.1,516.8C111.8,518.0 109.5,518.6 108.0,518.5C106.5,518.4 104.8,517.5 104.0,516.0C103.2,514.5 104.0,511.5 103.3,509.2C102.6,506.9 100.9,504.0 100.0,502.0C99.1,500.0 98.2,498.6 98.0,497.0C97.8,495.4 98.0,493.8 99.0,492.5C100.0,491.2 101.8,489.4 104.0,489.0Z" fill="#ec7b70" filter="url(#bl2)"/>
<path d="M113.0,418.0C114.5,416.3 117.7,416.0 120.0,416.0C122.3,416.0 125.3,416.5 127.0,418.0C128.7,419.5 129.8,421.7 130.0,425.0C130.2,428.3 129.0,434.3 128.0,438.0C127.0,441.7 125.8,446.0 124.0,447.0C122.2,448.0 119.0,445.8 117.0,444.0C115.0,442.2 113.0,439.0 112.0,436.0C111.0,433.0 110.8,429.0 111.0,426.0C111.2,423.0 111.5,419.7 113.0,418.0Z" fill="#fff" fill-opacity="0.22" filter="url(#bl)"/>
<path d="M13.0,447.5C15.3,446.8 22.8,447.0 27.0,447.0C31.2,447.0 35.3,447.2 38.0,447.5C40.7,447.8 43.2,448.3 43.0,449.0C42.8,449.7 40.0,451.1 37.0,451.5C34.0,451.9 29.0,451.6 25.0,451.5C21.0,451.4 15.0,451.7 13.0,451.0C11.0,450.3 10.7,448.2 13.0,447.5Z" fill="#fff" fill-opacity="0.18" filter="url(#bl)"/>
<path d="M119.6,433.4h0.7v0.7h-0.7zM128.6,430.4h0.7v0.7h-0.7zM120.6,434.2h0.7v0.7h-0.7zM114.5,431.9h0.7v0.7h-0.7zM123.0,440.6h0.7v0.7h-0.7zM112.8,425.4h0.7v0.7h-0.7zM124.2,417.3h0.7v0.7h-0.7zM123.4,435.1h0.7v0.7h-0.7zM121.0,417.8h0.7v0.7h-0.7zM114.6,423.5h0.7v0.7h-0.7zM111.6,430.4h0.7v0.7h-0.7zM119.4,442.1h0.7v0.7h-0.7zM120.9,435.8h0.7v0.7h-0.7zM120.5,436.5h0.7v0.7h-0.7zM119.7,424.6h0.7v0.7h-0.7zM127.0,437.9h0.7v0.7h-0.7zM117.0,423.1h0.7v0.7h-0.7zM116.5,418.2h0.7v0.7h-0.7zM125.6,428.4h0.7v0.7h-0.7zM127.1,428.0h0.7v0.7h-0.7zM128.3,430.6h0.7v0.7h-0.7zM112.4,435.5h0.7v0.7h-0.7zM125.8,424.4h0.7v0.7h-0.7zM112.7,426.3h0.7v0.7h-0.7zM113.2,423.6h0.7v0.7h-0.7zM126.1,421.5h0.7v0.7h-0.7zM121.6,429.9h0.7v0.7h-0.7zM114.6,438.7h0.7v0.7h-0.7zM113.5,436.0h0.7v0.7h-0.7zM113.2,429.0h0.7v0.7h-0.7zM115.0,424.4h0.7v0.7h-0.7zM116.8,443.4h0.7v0.7h-0.7zM115.0,428.2h0.7v0.7h-0.7zM127.2,435.9h0.7v0.7h-0.7zM115.1,424.0h0.7v0.7h-0.7zM125.7,426.2h0.7v0.7h-0.7zM116.6,418.3h0.7v0.7h-0.7zM112.7,434.1h0.7v0.7h-0.7zM115.6,434.6h0.7v0.7h-0.7zM118.1,430.0h0.7v0.7h-0.7zM121.9,442.9h0.7v0.7h-0.7zM114.5,420.8h0.7v0.7h-0.7zM115.7,421.9h0.7v0.7h-0.7zM127.8,434.7h0.7v0.7h-0.7zM119.0,419.2h0.7v0.7h-0.7zM115.5,437.8h0.7v0.7h-0.7zM115.9,441.5h0.7v0.7h-0.7zM122.3,425.1h0.7v0.7h-0.7zM114.3,438.3h0.7v0.7h-0.7zM112.3,423.1h0.7v0.7h-0.7zM121.6,442.4h0.7v0.7h-0.7zM122.7,424.7h0.7v0.7h-0.7zM128.4,422.3h0.7v0.7h-0.7zM119.5,417.9h0.7v0.7h-0.7zM114.3,427.4h0.7v0.7h-0.7zM121.9,420.1h0.7v0.7h-0.7zM117.9,443.6h0.7v0.7h-0.7zM124.1,434.1h0.7v0.7h-0.7zM124.3,445.8h0.7v0.7h-0.7zM120.2,438.6h0.7v0.7h-0.7zM112.4,432.9h0.7v0.7h-0.7zM125.0,443.9h0.7v0.7h-0.7zM125.0,437.8h0.7v0.7h-0.7zM117.7,437.2h0.7v0.7h-0.7zM118.9,440.5h0.7v0.7h-0.7zM127.4,433.8h0.7v0.7h-0.7zM122.9,427.9h0.7v0.7h-0.7zM122.1,434.9h0.7v0.7h-0.7zM112.5,435.8h0.7v0.7h-0.7zM124.8,428.0h0.7v0.7h-0.7zM125.0,434.0h0.7v0.7h-0.7zM119.4,442.0h0.7v0.7h-0.7zM120.1,423.1h0.7v0.7h-0.7zM124.3,431.4h0.7v0.7h-0.7zM122.7,444.5h0.7v0.7h-0.7zM116.7,437.0h0.7v0.7h-0.7zM114.8,421.3h0.7v0.7h-0.7zM128.2,436.5h0.7v0.7h-0.7zM119.4,443.6h0.7v0.7h-0.7zM117.2,436.6h0.7v0.7h-0.7zM114.8,429.4h0.7v0.7h-0.7zM127.7,427.9h0.7v0.7h-0.7zM122.1,425.8h0.7v0.7h-0.7zM113.6,431.4h0.7v0.7h-0.7zM124.5,445.5h0.7v0.7h-0.7zM116.3,421.2h0.7v0.7h-0.7zM119.6,424.5h0.7v0.7h-0.7zM115.1,428.8h0.7v0.7h-0.7zM122.9,431.3h0.7v0.7h-0.7zM117.0,442.0h0.7v0.7h-0.7zM124.5,433.7h0.7v0.7h-0.7zM116.9,440.5h0.7v0.7h-0.7zM119.6,416.8h0.7v0.7h-0.7zM126.8,423.4h0.7v0.7h-0.7zM123.0,429.8h0.7v0.7h-0.7zM123.0,436.3h0.7v0.7h-0.7zM124.0,422.2h0.7v0.7h-0.7zM120.0,421.5h0.7v0.7h-0.7zM124.6,421.6h0.7v0.7h-0.7zM116.2,426.7h0.7v0.7h-0.7zM124.2,432.1h0.7v0.7h-0.7zM122.7,439.4h0.7v0.7h-0.7zM118.5,440.5h0.7v0.7h-0.7zM113.5,430.1h0.7v0.7h-0.7zM122.9,444.2h0.7v0.7h-0.7zM118.2,433.6h0.7v0.7h-0.7zM128.9,430.4h0.7v0.7h-0.7zM123.4,422.4h0.7v0.7h-0.7zM124.7,441.4h0.7v0.7h-0.7zM123.2,438.2h0.7v0.7h-0.7z" fill="#fff"/>
<path d="M120.4,445.5h0.5v0.5h-0.5zM135.8,439.6h0.5v0.5h-0.5zM125.5,446.1h0.5v0.5h-0.5zM150.9,415.4h0.5v0.5h-0.5zM114.1,420.5h0.5v0.5h-0.5zM136.4,438.3h0.5v0.5h-0.5zM133.4,398.0h0.5v0.5h-0.5zM148.3,405.8h0.5v0.5h-0.5zM126.1,439.4h0.5v0.5h-0.5zM134.8,435.9h0.5v0.5h-0.5zM150.2,434.0h0.5v0.5h-0.5zM155.2,423.3h0.5v0.5h-0.5zM120.7,425.2h0.5v0.5h-0.5zM124.0,436.2h0.5v0.5h-0.5zM140.6,424.9h0.5v0.5h-0.5zM150.4,427.0h0.5v0.5h-0.5zM125.0,417.2h0.5v0.5h-0.5zM150.4,445.6h0.5v0.5h-0.5zM120.1,442.9h0.5v0.5h-0.5zM156.3,425.0h0.5v0.5h-0.5zM137.5,407.4h0.5v0.5h-0.5zM135.7,423.9h0.5v0.5h-0.5zM139.0,397.9h0.5v0.5h-0.5zM156.3,424.6h0.5v0.5h-0.5zM129.3,440.1h0.5v0.5h-0.5zM137.0,423.2h0.5v0.5h-0.5zM143.1,400.0h0.5v0.5h-0.5zM135.8,419.0h0.5v0.5h-0.5zM123.0,422.2h0.5v0.5h-0.5zM116.2,420.1h0.5v0.5h-0.5zM149.0,445.6h0.5v0.5h-0.5zM132.9,413.7h0.5v0.5h-0.5zM119.3,430.1h0.5v0.5h-0.5zM142.9,414.0h0.5v0.5h-0.5zM127.1,430.2h0.5v0.5h-0.5zM115.2,436.3h0.5v0.5h-0.5zM116.0,424.3h0.5v0.5h-0.5zM122.1,407.2h0.5v0.5h-0.5zM135.4,420.2h0.5v0.5h-0.5zM128.1,419.0h0.5v0.5h-0.5zM135.4,405.1h0.5v0.5h-0.5zM119.9,430.9h0.5v0.5h-0.5zM140.6,425.3h0.5v0.5h-0.5zM150.7,429.8h0.5v0.5h-0.5zM151.0,409.1h0.5v0.5h-0.5zM145.5,440.7h0.5v0.5h-0.5zM153.2,413.6h0.5v0.5h-0.5zM125.2,446.8h0.5v0.5h-0.5zM121.6,436.1h0.5v0.5h-0.5zM149.8,419.4h0.5v0.5h-0.5zM147.8,403.3h0.5v0.5h-0.5zM129.4,433.8h0.5v0.5h-0.5zM142.7,446.2h0.5v0.5h-0.5zM134.3,437.8h0.5v0.5h-0.5zM134.1,433.8h0.5v0.5h-0.5zM136.5,424.5h0.5v0.5h-0.5zM137.3,404.4h0.5v0.5h-0.5zM132.2,438.2h0.5v0.5h-0.5zM125.8,421.9h0.5v0.5h-0.5zM134.7,419.9h0.5v0.5h-0.5zM138.8,397.1h0.5v0.5h-0.5zM143.6,442.5h0.5v0.5h-0.5zM118.8,421.2h0.5v0.5h-0.5zM145.4,418.5h0.5v0.5h-0.5zM134.6,397.2h0.5v0.5h-0.5zM152.7,440.2h0.5v0.5h-0.5zM143.7,443.4h0.5v0.5h-0.5zM140.2,418.5h0.5v0.5h-0.5zM138.7,423.9h0.5v0.5h-0.5zM122.5,446.2h0.5v0.5h-0.5zM145.6,438.9h0.5v0.5h-0.5zM149.0,418.5h0.5v0.5h-0.5zM143.3,438.3h0.5v0.5h-0.5zM146.6,418.6h0.5v0.5h-0.5zM144.6,400.3h0.5v0.5h-0.5zM126.5,422.0h0.5v0.5h-0.5zM140.6,430.5h0.5v0.5h-0.5zM141.9,414.8h0.5v0.5h-0.5zM141.6,427.5h0.5v0.5h-0.5zM135.6,417.7h0.5v0.5h-0.5zM143.6,438.0h0.5v0.5h-0.5zM139.5,436.7h0.5v0.5h-0.5zM122.4,418.3h0.5v0.5h-0.5zM128.1,401.8h0.5v0.5h-0.5zM122.1,445.8h0.5v0.5h-0.5zM136.4,424.1h0.5v0.5h-0.5zM156.2,427.4h0.5v0.5h-0.5zM138.6,437.9h0.5v0.5h-0.5zM117.8,422.2h0.5v0.5h-0.5zM118.3,423.5h0.5v0.5h-0.5zM139.3,399.6h0.5v0.5h-0.5zM155.2,419.4h0.5v0.5h-0.5zM135.3,429.0h0.5v0.5h-0.5zM127.6,412.0h0.5v0.5h-0.5zM141.4,427.0h0.5v0.5h-0.5zM123.7,435.5h0.5v0.5h-0.5zM117.7,437.6h0.5v0.5h-0.5zM128.8,445.4h0.5v0.5h-0.5zM130.6,422.5h0.5v0.5h-0.5zM135.1,447.6h0.5v0.5h-0.5zM144.6,422.0h0.5v0.5h-0.5zM138.9,402.7h0.5v0.5h-0.5zM139.9,421.3h0.5v0.5h-0.5zM135.3,403.2h0.5v0.5h-0.5zM131.3,432.9h0.5v0.5h-0.5zM131.9,410.7h0.5v0.5h-0.5zM137.9,419.3h0.5v0.5h-0.5zM147.2,425.4h0.5v0.5h-0.5zM145.2,409.4h0.5v0.5h-0.5zM147.5,430.5h0.5v0.5h-0.5zM127.3,411.2h0.5v0.5h-0.5zM142.8,427.2h0.5v0.5h-0.5zM138.4,431.0h0.5v0.5h-0.5zM146.1,406.8h0.5v0.5h-0.5zM123.1,419.6h0.5v0.5h-0.5zM139.9,402.0h0.5v0.5h-0.5zM136.0,400.4h0.5v0.5h-0.5zM114.3,433.3h0.5v0.5h-0.5zM136.4,430.9h0.5v0.5h-0.5zM128.0,422.5h0.5v0.5h-0.5zM120.2,415.2h0.5v0.5h-0.5zM145.7,442.2h0.5v0.5h-0.5zM148.7,430.5h0.5v0.5h-0.5zM146.8,408.0h0.5v0.5h-0.5zM130.4,410.5h0.5v0.5h-0.5zM148.8,416.5h0.5v0.5h-0.5zM125.7,426.4h0.5v0.5h-0.5zM145.7,446.7h0.5v0.5h-0.5zM130.6,416.6h0.5v0.5h-0.5zM137.1,422.9h0.5v0.5h-0.5zM142.8,412.7h0.5v0.5h-0.5zM120.4,432.6h0.5v0.5h-0.5zM144.7,434.3h0.5v0.5h-0.5zM123.7,404.2h0.5v0.5h-0.5zM127.2,436.0h0.5v0.5h-0.5zM127.6,402.8h0.5v0.5h-0.5zM144.0,427.5h0.5v0.5h-0.5zM153.7,420.3h0.5v0.5h-0.5zM148.4,413.0h0.5v0.5h-0.5zM125.3,418.2h0.5v0.5h-0.5zM122.0,416.1h0.5v0.5h-0.5zM127.6,416.2h0.5v0.5h-0.5zM129.0,417.6h0.5v0.5h-0.5zM119.5,427.2h0.5v0.5h-0.5zM148.1,425.9h0.5v0.5h-0.5zM150.0,427.1h0.5v0.5h-0.5zM118.6,437.8h0.5v0.5h-0.5zM152.1,411.8h0.5v0.5h-0.5zM111.3,424.6h0.5v0.5h-0.5zM136.1,427.4h0.5v0.5h-0.5zM136.2,439.4h0.5v0.5h-0.5zM145.3,445.5h0.5v0.5h-0.5zM114.2,431.0h0.5v0.5h-0.5zM117.0,437.1h0.5v0.5h-0.5zM141.1,409.8h0.5v0.5h-0.5zM120.7,438.2h0.5v0.5h-0.5zM135.0,438.2h0.5v0.5h-0.5zM129.0,414.8h0.5v0.5h-0.5zM133.7,425.7h0.5v0.5h-0.5zM144.5,435.1h0.5v0.5h-0.5z" fill="#fff"/>
<path d="M153.8,418.8h0.55v0.55h-0.55zM149.5,432.8h0.55v0.55h-0.55zM150.8,440.4h0.55v0.55h-0.55zM149.9,444.9h0.55v0.55h-0.55zM155.8,431.4h0.55v0.55h-0.55zM135.1,435.2h0.55v0.55h-0.55zM148.4,419.4h0.55v0.55h-0.55zM130.2,404.4h0.55v0.55h-0.55zM145.5,450.5h0.55v0.55h-0.55zM128.1,405.6h0.55v0.55h-0.55zM119.9,419.6h0.55v0.55h-0.55zM115.7,431.8h0.55v0.55h-0.55zM147.1,406.2h0.55v0.55h-0.55zM113.2,421.4h0.55v0.55h-0.55zM138.0,446.0h0.55v0.55h-0.55zM121.4,435.6h0.55v0.55h-0.55zM138.5,408.6h0.55v0.55h-0.55zM118.4,437.8h0.55v0.55h-0.55zM125.0,426.3h0.55v0.55h-0.55zM149.1,422.6h0.55v0.55h-0.55zM122.6,444.9h0.55v0.55h-0.55zM153.7,415.1h0.55v0.55h-0.55zM133.2,408.5h0.55v0.55h-0.55zM148.3,417.4h0.55v0.55h-0.55zM135.3,424.6h0.55v0.55h-0.55zM141.5,409.4h0.55v0.55h-0.55zM110.7,422.2h0.55v0.55h-0.55zM127.9,439.9h0.55v0.55h-0.55zM144.2,429.5h0.55v0.55h-0.55zM125.5,410.6h0.55v0.55h-0.55zM151.6,424.6h0.55v0.55h-0.55zM122.9,425.6h0.55v0.55h-0.55zM117.4,438.5h0.55v0.55h-0.55zM150.5,441.3h0.55v0.55h-0.55zM144.3,401.7h0.55v0.55h-0.55zM133.1,422.0h0.55v0.55h-0.55zM155.7,428.4h0.55v0.55h-0.55zM151.0,413.0h0.55v0.55h-0.55zM147.8,419.2h0.55v0.55h-0.55zM149.5,407.8h0.55v0.55h-0.55zM136.1,425.1h0.55v0.55h-0.55zM117.7,441.8h0.55v0.55h-0.55zM125.0,413.4h0.55v0.55h-0.55zM132.4,435.4h0.55v0.55h-0.55zM127.3,433.9h0.55v0.55h-0.55zM115.2,417.9h0.55v0.55h-0.55zM149.7,432.1h0.55v0.55h-0.55zM144.0,409.4h0.55v0.55h-0.55zM137.1,421.4h0.55v0.55h-0.55zM148.3,407.7h0.55v0.55h-0.55zM139.5,412.3h0.55v0.55h-0.55zM128.1,425.9h0.55v0.55h-0.55zM124.4,414.8h0.55v0.55h-0.55zM128.9,432.8h0.55v0.55h-0.55zM122.4,407.3h0.55v0.55h-0.55zM145.0,414.4h0.55v0.55h-0.55zM155.2,427.1h0.55v0.55h-0.55zM144.7,414.5h0.55v0.55h-0.55zM142.5,435.1h0.55v0.55h-0.55zM118.8,418.4h0.55v0.55h-0.55zM150.0,428.8h0.55v0.55h-0.55zM129.6,400.4h0.55v0.55h-0.55zM154.0,419.7h0.55v0.55h-0.55zM134.6,431.7h0.55v0.55h-0.55zM146.7,441.2h0.55v0.55h-0.55zM128.6,414.5h0.55v0.55h-0.55zM129.8,397.2h0.55v0.55h-0.55zM129.3,434.6h0.55v0.55h-0.55zM141.6,429.6h0.55v0.55h-0.55zM126.5,431.9h0.55v0.55h-0.55zM115.3,417.0h0.55v0.55h-0.55zM134.4,439.5h0.55v0.55h-0.55zM149.5,429.8h0.55v0.55h-0.55zM117.7,438.3h0.55v0.55h-0.55zM153.2,426.3h0.55v0.55h-0.55zM127.0,423.7h0.55v0.55h-0.55zM116.9,435.4h0.55v0.55h-0.55zM157.2,424.6h0.55v0.55h-0.55zM144.3,442.0h0.55v0.55h-0.55zM140.1,407.2h0.55v0.55h-0.55zM137.6,434.5h0.55v0.55h-0.55zM125.9,447.1h0.55v0.55h-0.55zM127.4,421.7h0.55v0.55h-0.55zM136.1,427.0h0.55v0.55h-0.55zM136.9,410.8h0.55v0.55h-0.55zM149.1,429.2h0.55v0.55h-0.55zM116.0,441.4h0.55v0.55h-0.55zM123.9,445.4h0.55v0.55h-0.55zM121.7,427.7h0.55v0.55h-0.55zM149.7,406.5h0.55v0.55h-0.55z" fill="#d6a11e"/>
<path d="M126.1,455.8h0.65v0.65h-0.65zM128.2,464.4h0.65v0.65h-0.65zM128.4,480.3h0.65v0.65h-0.65zM123.1,474.9h0.65v0.65h-0.65zM130.9,453.6h0.65v0.65h-0.65zM119.7,470.3h0.65v0.65h-0.65zM118.6,467.3h0.65v0.65h-0.65zM126.5,459.4h0.65v0.65h-0.65zM125.6,462.8h0.65v0.65h-0.65zM126.5,465.3h0.65v0.65h-0.65zM127.9,454.4h0.65v0.65h-0.65zM128.4,458.4h0.65v0.65h-0.65zM124.7,468.2h0.65v0.65h-0.65zM127.5,478.5h0.65v0.65h-0.65zM130.0,480.8h0.65v0.65h-0.65zM123.6,469.1h0.65v0.65h-0.65zM126.5,486.5h0.65v0.65h-0.65zM125.7,472.4h0.65v0.65h-0.65zM124.0,486.5h0.65v0.65h-0.65zM129.4,486.3h0.65v0.65h-0.65zM129.5,475.1h0.65v0.65h-0.65zM129.9,464.3h0.65v0.65h-0.65zM127.0,455.6h0.65v0.65h-0.65zM118.3,469.5h0.65v0.65h-0.65zM125.3,467.7h0.65v0.65h-0.65zM125.7,461.8h0.65v0.65h-0.65zM121.7,467.6h0.65v0.65h-0.65zM128.3,485.1h0.65v0.65h-0.65zM123.8,482.8h0.65v0.65h-0.65zM120.1,480.6h0.65v0.65h-0.65zM126.5,486.4h0.65v0.65h-0.65zM118.3,472.9h0.65v0.65h-0.65zM120.5,464.1h0.65v0.65h-0.65zM122.0,455.3h0.65v0.65h-0.65zM123.3,466.2h0.65v0.65h-0.65zM126.8,454.7h0.65v0.65h-0.65zM121.7,471.4h0.65v0.65h-0.65zM124.7,460.6h0.65v0.65h-0.65zM132.6,460.2h0.65v0.65h-0.65zM131.5,466.1h0.65v0.65h-0.65zM124.7,459.4h0.65v0.65h-0.65zM119.7,476.4h0.65v0.65h-0.65zM129.4,464.6h0.65v0.65h-0.65zM129.2,458.0h0.65v0.65h-0.65zM128.9,487.7h0.65v0.65h-0.65zM124.2,455.9h0.65v0.65h-0.65zM120.1,464.4h0.65v0.65h-0.65zM129.1,460.3h0.65v0.65h-0.65zM119.3,461.7h0.65v0.65h-0.65zM128.3,482.2h0.65v0.65h-0.65zM122.9,477.5h0.65v0.65h-0.65zM120.2,464.1h0.65v0.65h-0.65zM121.1,476.7h0.65v0.65h-0.65zM124.1,472.5h0.65v0.65h-0.65zM125.8,454.7h0.65v0.65h-0.65zM127.1,463.5h0.65v0.65h-0.65zM120.6,482.7h0.65v0.65h-0.65zM117.6,463.6h0.65v0.65h-0.65zM130.0,462.1h0.65v0.65h-0.65zM121.2,473.3h0.65v0.65h-0.65zM124.5,480.8h0.65v0.65h-0.65zM125.2,459.7h0.65v0.65h-0.65zM126.3,476.9h0.65v0.65h-0.65zM122.7,477.4h0.65v0.65h-0.65zM130.5,472.1h0.65v0.65h-0.65zM125.4,484.3h0.65v0.65h-0.65zM128.7,472.3h0.65v0.65h-0.65zM130.4,459.1h0.65v0.65h-0.65zM127.2,461.7h0.65v0.65h-0.65zM124.1,481.6h0.65v0.65h-0.65zM130.6,482.3h0.65v0.65h-0.65zM120.4,471.1h0.65v0.65h-0.65zM120.1,474.5h0.65v0.65h-0.65zM125.2,454.3h0.65v0.65h-0.65zM127.0,479.4h0.65v0.65h-0.65zM126.6,485.3h0.65v0.65h-0.65zM119.3,458.6h0.65v0.65h-0.65zM124.0,469.3h0.65v0.65h-0.65zM120.9,482.5h0.65v0.65h-0.65zM126.5,473.1h0.65v0.65h-0.65zM130.6,461.8h0.65v0.65h-0.65zM118.7,464.5h0.65v0.65h-0.65zM116.8,464.6h0.65v0.65h-0.65zM127.5,472.4h0.65v0.65h-0.65zM120.9,474.8h0.65v0.65h-0.65zM119.2,462.4h0.65v0.65h-0.65zM119.0,478.6h0.65v0.65h-0.65zM117.1,468.2h0.65v0.65h-0.65zM122.7,461.0h0.65v0.65h-0.65zM125.1,481.2h0.65v0.65h-0.65zM124.4,480.6h0.65v0.65h-0.65zM132.5,458.2h0.65v0.65h-0.65zM123.3,464.0h0.65v0.65h-0.65zM123.9,455.8h0.65v0.65h-0.65zM130.1,480.2h0.65v0.65h-0.65zM120.3,462.4h0.65v0.65h-0.65zM126.2,461.9h0.65v0.65h-0.65zM124.5,487.5h0.65v0.65h-0.65zM122.7,465.5h0.65v0.65h-0.65zM116.7,467.9h0.65v0.65h-0.65zM128.0,455.2h0.65v0.65h-0.65zM122.3,478.7h0.65v0.65h-0.65zM132.4,470.1h0.65v0.65h-0.65zM123.3,484.2h0.65v0.65h-0.65zM123.1,481.9h0.65v0.65h-0.65zM120.0,465.9h0.65v0.65h-0.65zM119.4,473.3h0.65v0.65h-0.65zM119.0,460.5h0.65v0.65h-0.65zM120.0,470.3h0.65v0.65h-0.65zM121.7,469.5h0.65v0.65h-0.65zM132.0,460.6h0.65v0.65h-0.65zM123.1,455.7h0.65v0.65h-0.65zM128.8,466.4h0.65v0.65h-0.65zM119.4,462.7h0.65v0.65h-0.65zM129.2,462.9h0.65v0.65h-0.65zM122.7,458.7h0.65v0.65h-0.65zM133.3,466.3h0.65v0.65h-0.65zM130.2,479.8h0.65v0.65h-0.65zM132.8,453.8h0.65v0.65h-0.65zM122.0,467.2h0.65v0.65h-0.65zM122.0,481.5h0.65v0.65h-0.65zM125.6,455.0h0.65v0.65h-0.65zM123.3,461.8h0.65v0.65h-0.65zM127.0,454.2h0.65v0.65h-0.65zM121.8,468.7h0.65v0.65h-0.65zM126.1,458.0h0.65v0.65h-0.65zM129.1,462.6h0.65v0.65h-0.65zM129.4,477.6h0.65v0.65h-0.65zM118.7,460.6h0.65v0.65h-0.65zM121.2,479.4h0.65v0.65h-0.65z" fill="#fff"/>
<path d="M123.5,467.3h0.6v0.6h-0.6zM132.0,461.4h0.6v0.6h-0.6zM121.4,465.8h0.6v0.6h-0.6zM126.5,482.9h0.6v0.6h-0.6zM134.0,464.0h0.6v0.6h-0.6zM128.4,487.0h0.6v0.6h-0.6zM120.0,478.5h0.6v0.6h-0.6zM128.3,488.3h0.6v0.6h-0.6zM132.1,461.7h0.6v0.6h-0.6zM127.7,456.3h0.6v0.6h-0.6zM123.9,467.5h0.6v0.6h-0.6zM117.1,467.2h0.6v0.6h-0.6zM122.1,471.4h0.6v0.6h-0.6zM121.2,458.9h0.6v0.6h-0.6zM123.4,470.6h0.6v0.6h-0.6zM119.1,477.6h0.6v0.6h-0.6zM120.4,456.4h0.6v0.6h-0.6zM122.3,468.6h0.6v0.6h-0.6zM118.8,474.6h0.6v0.6h-0.6zM129.0,473.5h0.6v0.6h-0.6zM129.0,453.9h0.6v0.6h-0.6zM123.2,466.5h0.6v0.6h-0.6zM117.2,468.0h0.6v0.6h-0.6zM117.0,471.3h0.6v0.6h-0.6zM126.8,470.4h0.6v0.6h-0.6zM122.0,462.4h0.6v0.6h-0.6zM120.8,477.7h0.6v0.6h-0.6zM119.4,470.4h0.6v0.6h-0.6zM127.4,488.3h0.6v0.6h-0.6zM122.7,474.3h0.6v0.6h-0.6zM127.6,476.0h0.6v0.6h-0.6zM123.6,468.4h0.6v0.6h-0.6zM121.1,483.7h0.6v0.6h-0.6zM132.3,467.1h0.6v0.6h-0.6zM132.8,454.4h0.6v0.6h-0.6zM118.5,471.8h0.6v0.6h-0.6zM121.7,466.3h0.6v0.6h-0.6zM119.6,461.5h0.6v0.6h-0.6zM128.6,461.7h0.6v0.6h-0.6zM123.3,461.9h0.6v0.6h-0.6zM125.1,477.1h0.6v0.6h-0.6zM126.1,476.1h0.6v0.6h-0.6zM126.4,483.8h0.6v0.6h-0.6zM133.9,465.3h0.6v0.6h-0.6zM122.4,485.8h0.6v0.6h-0.6zM121.8,479.5h0.6v0.6h-0.6zM128.9,478.4h0.6v0.6h-0.6zM119.0,476.0h0.6v0.6h-0.6zM125.1,473.9h0.6v0.6h-0.6zM122.8,463.6h0.6v0.6h-0.6zM129.9,472.8h0.6v0.6h-0.6zM120.4,462.2h0.6v0.6h-0.6zM122.0,459.6h0.6v0.6h-0.6zM125.5,457.7h0.6v0.6h-0.6zM118.1,469.7h0.6v0.6h-0.6zM130.3,470.8h0.6v0.6h-0.6zM132.1,455.0h0.6v0.6h-0.6zM120.7,471.8h0.6v0.6h-0.6zM130.7,467.5h0.6v0.6h-0.6zM129.2,462.3h0.6v0.6h-0.6zM129.2,465.1h0.6v0.6h-0.6zM122.2,481.1h0.6v0.6h-0.6zM126.5,468.6h0.6v0.6h-0.6zM129.1,476.1h0.6v0.6h-0.6zM118.3,466.9h0.6v0.6h-0.6zM128.4,461.5h0.6v0.6h-0.6zM126.8,487.8h0.6v0.6h-0.6zM128.7,468.5h0.6v0.6h-0.6zM127.7,467.7h0.6v0.6h-0.6zM121.3,480.1h0.6v0.6h-0.6zM126.0,470.9h0.6v0.6h-0.6zM122.9,464.4h0.6v0.6h-0.6zM130.8,484.0h0.6v0.6h-0.6zM121.2,467.5h0.6v0.6h-0.6zM127.4,481.3h0.6v0.6h-0.6zM128.8,473.2h0.6v0.6h-0.6zM130.8,458.4h0.6v0.6h-0.6zM133.3,462.3h0.6v0.6h-0.6zM125.0,457.5h0.6v0.6h-0.6zM126.5,458.3h0.6v0.6h-0.6z" fill="#d6a11e"/>
<path d="M147.5,465.1h0.5v0.5h-0.5zM136.8,474.1h0.5v0.5h-0.5zM140.5,464.4h0.5v0.5h-0.5zM136.1,490.8h0.5v0.5h-0.5zM143.7,471.2h0.5v0.5h-0.5zM152.4,470.3h0.5v0.5h-0.5zM132.3,477.0h0.5v0.5h-0.5zM148.4,480.2h0.5v0.5h-0.5zM138.2,493.9h0.5v0.5h-0.5zM142.6,489.3h0.5v0.5h-0.5zM150.2,460.8h0.5v0.5h-0.5zM133.9,456.4h0.5v0.5h-0.5zM140.4,485.8h0.5v0.5h-0.5zM139.0,475.5h0.5v0.5h-0.5zM144.9,488.3h0.5v0.5h-0.5zM152.0,485.0h0.5v0.5h-0.5zM141.4,488.0h0.5v0.5h-0.5zM153.0,486.4h0.5v0.5h-0.5zM157.2,457.6h0.5v0.5h-0.5zM149.7,464.0h0.5v0.5h-0.5zM146.2,463.0h0.5v0.5h-0.5zM141.1,469.2h0.5v0.5h-0.5zM148.4,488.3h0.5v0.5h-0.5zM140.5,480.8h0.5v0.5h-0.5zM140.2,465.3h0.5v0.5h-0.5zM150.6,462.4h0.5v0.5h-0.5zM150.7,476.9h0.5v0.5h-0.5zM149.0,460.9h0.5v0.5h-0.5zM133.5,459.4h0.5v0.5h-0.5zM140.1,471.9h0.5v0.5h-0.5zM141.6,467.1h0.5v0.5h-0.5zM136.2,491.3h0.5v0.5h-0.5zM139.3,485.9h0.5v0.5h-0.5zM136.6,470.9h0.5v0.5h-0.5zM149.7,460.9h0.5v0.5h-0.5zM138.1,482.5h0.5v0.5h-0.5zM135.6,468.7h0.5v0.5h-0.5zM147.8,469.6h0.5v0.5h-0.5zM148.0,462.4h0.5v0.5h-0.5zM147.3,491.6h0.5v0.5h-0.5zM153.7,480.4h0.5v0.5h-0.5zM144.3,477.8h0.5v0.5h-0.5zM133.8,489.5h0.5v0.5h-0.5zM149.3,472.8h0.5v0.5h-0.5zM148.6,471.4h0.5v0.5h-0.5zM141.0,463.2h0.5v0.5h-0.5zM146.9,478.0h0.5v0.5h-0.5zM144.6,454.6h0.5v0.5h-0.5zM147.6,472.5h0.5v0.5h-0.5zM146.7,478.9h0.5v0.5h-0.5zM155.8,459.8h0.5v0.5h-0.5zM150.6,466.8h0.5v0.5h-0.5zM141.5,490.8h0.5v0.5h-0.5zM143.9,463.3h0.5v0.5h-0.5zM153.3,481.3h0.5v0.5h-0.5zM152.2,475.4h0.5v0.5h-0.5zM154.1,484.0h0.5v0.5h-0.5zM137.4,488.2h0.5v0.5h-0.5zM142.9,476.4h0.5v0.5h-0.5zM138.2,481.1h0.5v0.5h-0.5zM132.7,477.2h0.5v0.5h-0.5zM151.9,474.4h0.5v0.5h-0.5zM137.2,487.8h0.5v0.5h-0.5zM153.7,486.6h0.5v0.5h-0.5zM145.5,492.4h0.5v0.5h-0.5zM152.1,459.8h0.5v0.5h-0.5zM140.5,457.5h0.5v0.5h-0.5zM133.9,461.1h0.5v0.5h-0.5zM141.2,490.0h0.5v0.5h-0.5zM136.3,480.4h0.5v0.5h-0.5z" fill="#fff"/>
<path d="M104.6,504.9h0.55v0.55h-0.55zM109.4,490.5h0.55v0.55h-0.55zM119.1,489.0h0.55v0.55h-0.55zM118.2,506.0h0.55v0.55h-0.55zM121.2,496.7h0.55v0.55h-0.55zM129.5,502.5h0.55v0.55h-0.55zM110.0,485.6h0.55v0.55h-0.55zM122.7,492.3h0.55v0.55h-0.55zM108.4,494.3h0.55v0.55h-0.55zM102.9,503.4h0.55v0.55h-0.55zM112.2,511.1h0.55v0.55h-0.55zM111.7,496.3h0.55v0.55h-0.55zM109.6,506.4h0.55v0.55h-0.55zM105.9,501.3h0.55v0.55h-0.55zM107.5,513.3h0.55v0.55h-0.55zM107.6,512.5h0.55v0.55h-0.55zM120.7,496.2h0.55v0.55h-0.55zM129.3,493.5h0.55v0.55h-0.55zM122.9,502.2h0.55v0.55h-0.55zM113.0,480.2h0.55v0.55h-0.55zM112.0,489.1h0.55v0.55h-0.55zM112.8,516.6h0.55v0.55h-0.55zM107.8,506.0h0.55v0.55h-0.55zM120.5,487.6h0.55v0.55h-0.55zM111.8,483.0h0.55v0.55h-0.55zM112.1,491.6h0.55v0.55h-0.55zM117.8,499.9h0.55v0.55h-0.55zM101.0,492.5h0.55v0.55h-0.55zM110.5,507.2h0.55v0.55h-0.55zM120.4,491.7h0.55v0.55h-0.55zM113.7,492.4h0.55v0.55h-0.55zM113.6,490.5h0.55v0.55h-0.55zM120.5,502.4h0.55v0.55h-0.55zM125.8,504.2h0.55v0.55h-0.55zM100.2,496.5h0.55v0.55h-0.55zM111.4,504.4h0.55v0.55h-0.55zM105.0,492.7h0.55v0.55h-0.55zM102.8,493.7h0.55v0.55h-0.55zM103.6,504.1h0.55v0.55h-0.55zM106.5,510.8h0.55v0.55h-0.55zM102.0,496.8h0.55v0.55h-0.55zM116.0,499.4h0.55v0.55h-0.55zM108.1,498.3h0.55v0.55h-0.55zM102.2,500.8h0.55v0.55h-0.55zM115.2,489.6h0.55v0.55h-0.55zM124.0,487.7h0.55v0.55h-0.55zM111.9,479.8h0.55v0.55h-0.55zM105.3,496.1h0.55v0.55h-0.55zM116.7,496.4h0.55v0.55h-0.55zM130.5,499.1h0.55v0.55h-0.55zM111.6,502.6h0.55v0.55h-0.55zM103.2,499.3h0.55v0.55h-0.55zM108.1,517.1h0.55v0.55h-0.55zM99.5,494.6h0.55v0.55h-0.55zM109.0,497.6h0.55v0.55h-0.55zM129.7,500.8h0.55v0.55h-0.55zM111.2,489.8h0.55v0.55h-0.55zM122.8,488.2h0.55v0.55h-0.55zM110.3,495.2h0.55v0.55h-0.55zM114.0,492.3h0.55v0.55h-0.55zM112.4,496.0h0.55v0.55h-0.55zM100.1,499.2h0.55v0.55h-0.55zM116.3,493.9h0.55v0.55h-0.55zM110.5,490.5h0.55v0.55h-0.55zM114.2,487.0h0.55v0.55h-0.55zM123.1,497.5h0.55v0.55h-0.55zM110.2,502.1h0.55v0.55h-0.55zM110.4,489.9h0.55v0.55h-0.55zM118.4,501.7h0.55v0.55h-0.55zM108.6,498.0h0.55v0.55h-0.55zM115.3,508.4h0.55v0.55h-0.55zM106.4,488.6h0.55v0.55h-0.55zM124.7,495.0h0.55v0.55h-0.55zM126.8,494.1h0.55v0.55h-0.55zM107.6,505.4h0.55v0.55h-0.55zM125.9,491.0h0.55v0.55h-0.55zM108.6,511.1h0.55v0.55h-0.55zM124.4,503.9h0.55v0.55h-0.55zM122.7,494.7h0.55v0.55h-0.55zM124.2,495.6h0.55v0.55h-0.55z" fill="#fff"/>
<path d="M114.3,483.9h0.6v0.6h-0.6zM106.7,482.3h0.6v0.6h-0.6zM119.3,485.4h0.6v0.6h-0.6zM106.6,479.6h0.6v0.6h-0.6zM116.9,490.5h0.6v0.6h-0.6zM108.9,483.6h0.6v0.6h-0.6zM116.3,489.3h0.6v0.6h-0.6zM113.9,483.1h0.6v0.6h-0.6zM119.5,490.5h0.6v0.6h-0.6zM115.4,487.3h0.6v0.6h-0.6zM112.9,488.5h0.6v0.6h-0.6zM106.4,488.0h0.6v0.6h-0.6zM107.8,485.9h0.6v0.6h-0.6zM108.6,482.7h0.6v0.6h-0.6zM107.8,482.7h0.6v0.6h-0.6zM117.6,485.0h0.6v0.6h-0.6zM112.9,485.8h0.6v0.6h-0.6zM117.4,484.5h0.6v0.6h-0.6zM110.0,487.9h0.6v0.6h-0.6zM117.2,481.5h0.6v0.6h-0.6zM112.7,487.7h0.6v0.6h-0.6zM114.0,486.3h0.6v0.6h-0.6zM116.9,491.2h0.6v0.6h-0.6zM115.2,481.1h0.6v0.6h-0.6zM111.1,489.4h0.6v0.6h-0.6zM104.8,487.4h0.6v0.6h-0.6zM117.1,485.4h0.6v0.6h-0.6zM111.7,480.0h0.6v0.6h-0.6zM125.9,488.3h0.6v0.6h-0.6zM108.6,485.2h0.6v0.6h-0.6zM121.6,485.9h0.6v0.6h-0.6zM124.7,490.5h0.6v0.6h-0.6zM125.9,487.7h0.6v0.6h-0.6zM110.7,489.6h0.6v0.6h-0.6zM116.4,481.4h0.6v0.6h-0.6zM110.7,481.4h0.6v0.6h-0.6zM107.0,484.5h0.6v0.6h-0.6zM110.3,481.8h0.6v0.6h-0.6zM110.4,484.9h0.6v0.6h-0.6zM123.8,489.5h0.6v0.6h-0.6zM118.0,485.3h0.6v0.6h-0.6zM120.9,485.2h0.6v0.6h-0.6zM119.2,490.4h0.6v0.6h-0.6zM112.3,488.6h0.6v0.6h-0.6zM109.4,484.1h0.6v0.6h-0.6zM112.5,487.8h0.6v0.6h-0.6zM117.0,482.7h0.6v0.6h-0.6zM104.7,485.7h0.6v0.6h-0.6zM126.6,487.2h0.6v0.6h-0.6zM123.7,488.6h0.6v0.6h-0.6zM116.1,482.8h0.6v0.6h-0.6zM115.5,480.7h0.6v0.6h-0.6zM120.2,483.6h0.6v0.6h-0.6zM115.2,485.5h0.6v0.6h-0.6zM107.1,482.1h0.6v0.6h-0.6zM111.7,487.5h0.6v0.6h-0.6zM125.8,490.5h0.6v0.6h-0.6zM123.7,490.6h0.6v0.6h-0.6zM117.6,487.3h0.6v0.6h-0.6zM118.1,486.3h0.6v0.6h-0.6z" fill="#ec7b70"/>
<path d="M147.6,452.7h0.6v0.6h-0.6zM137.6,451.9h0.6v0.6h-0.6zM145.2,453.6h0.6v0.6h-0.6zM131.7,450.1h0.6v0.6h-0.6zM129.4,451.9h0.6v0.6h-0.6zM137.8,450.0h0.6v0.6h-0.6zM142.6,450.9h0.6v0.6h-0.6zM128.5,454.1h0.6v0.6h-0.6zM126.6,448.6h0.6v0.6h-0.6zM129.1,451.1h0.6v0.6h-0.6zM128.6,452.4h0.6v0.6h-0.6zM129.3,451.4h0.6v0.6h-0.6zM129.2,454.1h0.6v0.6h-0.6zM126.9,449.2h0.6v0.6h-0.6zM130.6,450.0h0.6v0.6h-0.6zM144.2,452.6h0.6v0.6h-0.6zM146.3,451.6h0.6v0.6h-0.6zM128.8,449.1h0.6v0.6h-0.6zM132.9,450.2h0.6v0.6h-0.6zM133.4,448.5h0.6v0.6h-0.6zM146.3,453.4h0.6v0.6h-0.6zM131.8,453.4h0.6v0.6h-0.6zM133.1,449.7h0.6v0.6h-0.6zM140.0,453.1h0.6v0.6h-0.6zM136.2,453.6h0.6v0.6h-0.6zM133.2,448.0h0.6v0.6h-0.6zM127.6,454.1h0.6v0.6h-0.6zM151.7,454.5h0.6v0.6h-0.6zM125.5,452.9h0.6v0.6h-0.6zM125.3,452.6h0.6v0.6h-0.6zM149.2,452.9h0.6v0.6h-0.6zM132.9,448.4h0.6v0.6h-0.6zM123.3,448.9h0.6v0.6h-0.6zM132.1,447.9h0.6v0.6h-0.6zM130.8,448.9h0.6v0.6h-0.6zM124.9,451.5h0.6v0.6h-0.6zM138.3,451.8h0.6v0.6h-0.6zM145.4,451.5h0.6v0.6h-0.6zM128.1,448.1h0.6v0.6h-0.6zM130.9,453.2h0.6v0.6h-0.6zM126.1,450.0h0.6v0.6h-0.6zM135.7,452.0h0.6v0.6h-0.6zM148.1,451.0h0.6v0.6h-0.6zM126.5,453.0h0.6v0.6h-0.6zM128.0,453.5h0.6v0.6h-0.6zM137.0,452.4h0.6v0.6h-0.6zM135.9,448.9h0.6v0.6h-0.6zM121.5,449.8h0.6v0.6h-0.6zM122.3,449.5h0.6v0.6h-0.6zM140.8,450.3h0.6v0.6h-0.6zM136.1,452.2h0.6v0.6h-0.6zM131.1,450.2h0.6v0.6h-0.6zM149.3,451.9h0.6v0.6h-0.6zM134.3,451.6h0.6v0.6h-0.6zM135.7,450.0h0.6v0.6h-0.6zM150.9,453.9h0.6v0.6h-0.6zM130.2,448.8h0.6v0.6h-0.6zM124.1,452.7h0.6v0.6h-0.6zM132.1,451.7h0.6v0.6h-0.6zM137.5,450.3h0.6v0.6h-0.6z" fill="#d6a11e"/>
<path d="M129.6,451.8h0.6v0.6h-0.6zM141.2,451.0h0.6v0.6h-0.6zM123.9,451.2h0.6v0.6h-0.6zM136.4,452.3h0.6v0.6h-0.6zM147.5,453.5h0.6v0.6h-0.6zM129.1,454.3h0.6v0.6h-0.6zM137.1,450.7h0.6v0.6h-0.6zM136.7,451.1h0.6v0.6h-0.6zM130.3,453.8h0.6v0.6h-0.6zM137.1,450.1h0.6v0.6h-0.6zM127.3,449.1h0.6v0.6h-0.6zM147.7,453.5h0.6v0.6h-0.6zM152.3,454.4h0.6v0.6h-0.6zM142.9,453.5h0.6v0.6h-0.6zM143.8,453.6h0.6v0.6h-0.6zM132.0,453.4h0.6v0.6h-0.6zM150.8,452.3h0.6v0.6h-0.6zM126.9,452.7h0.6v0.6h-0.6zM148.8,453.3h0.6v0.6h-0.6zM146.1,454.1h0.6v0.6h-0.6zM141.5,451.2h0.6v0.6h-0.6zM133.3,450.2h0.6v0.6h-0.6zM141.9,453.3h0.6v0.6h-0.6zM143.2,451.4h0.6v0.6h-0.6zM131.1,449.5h0.6v0.6h-0.6zM127.0,452.4h0.6v0.6h-0.6zM131.7,449.6h0.6v0.6h-0.6zM137.7,451.2h0.6v0.6h-0.6zM138.1,451.0h0.6v0.6h-0.6zM127.4,451.9h0.6v0.6h-0.6zM128.7,450.0h0.6v0.6h-0.6zM132.4,451.5h0.6v0.6h-0.6zM134.3,450.6h0.6v0.6h-0.6zM128.5,451.1h0.6v0.6h-0.6zM134.9,452.6h0.6v0.6h-0.6zM145.4,451.7h0.6v0.6h-0.6zM125.8,451.6h0.6v0.6h-0.6zM129.7,452.9h0.6v0.6h-0.6zM145.5,452.4h0.6v0.6h-0.6zM143.6,450.9h0.6v0.6h-0.6z" fill="#2cb5bd"/>
<path d="M120.5,451.3h0.6v0.6h-0.6zM118.0,460.1h0.6v0.6h-0.6zM114.2,464.9h0.6v0.6h-0.6zM115.3,463.5h0.6v0.6h-0.6zM111.9,469.9h0.6v0.6h-0.6zM115.6,459.4h0.6v0.6h-0.6zM112.3,468.2h0.6v0.6h-0.6zM118.2,460.3h0.6v0.6h-0.6zM117.1,459.5h0.6v0.6h-0.6zM112.9,467.8h0.6v0.6h-0.6zM114.9,460.9h0.6v0.6h-0.6zM114.2,465.4h0.6v0.6h-0.6zM118.6,456.8h0.6v0.6h-0.6zM114.7,465.0h0.6v0.6h-0.6zM111.9,467.7h0.6v0.6h-0.6zM113.4,466.4h0.6v0.6h-0.6zM119.0,456.0h0.6v0.6h-0.6zM117.0,455.1h0.6v0.6h-0.6zM111.6,471.0h0.6v0.6h-0.6zM114.1,463.6h0.6v0.6h-0.6zM112.3,466.2h0.6v0.6h-0.6zM116.3,462.5h0.6v0.6h-0.6zM119.1,457.5h0.6v0.6h-0.6zM115.9,461.4h0.6v0.6h-0.6zM112.8,468.5h0.6v0.6h-0.6zM116.9,460.6h0.6v0.6h-0.6zM113.6,467.5h0.6v0.6h-0.6zM113.9,465.1h0.6v0.6h-0.6zM111.7,466.2h0.6v0.6h-0.6zM118.1,457.8h0.6v0.6h-0.6zM116.4,464.0h0.6v0.6h-0.6zM111.0,472.2h0.6v0.6h-0.6zM118.2,455.0h0.6v0.6h-0.6zM112.0,466.5h0.6v0.6h-0.6zM116.1,463.4h0.6v0.6h-0.6z" fill="#ec7b70"/>
<path d="M23.6,451.4h0.7v0.7h-0.7zM31.0,450.9h0.7v0.7h-0.7zM14.9,447.5h0.7v0.7h-0.7zM13.6,450.1h0.7v0.7h-0.7zM18.3,448.2h0.7v0.7h-0.7zM33.0,450.1h0.7v0.7h-0.7zM22.7,449.1h0.7v0.7h-0.7zM21.7,449.5h0.7v0.7h-0.7zM23.7,448.6h0.7v0.7h-0.7zM20.5,448.3h0.7v0.7h-0.7zM22.3,449.7h0.7v0.7h-0.7zM21.1,447.5h0.7v0.7h-0.7zM38.4,449.1h0.7v0.7h-0.7zM28.4,448.4h0.7v0.7h-0.7zM39.6,450.4h0.7v0.7h-0.7zM31.7,450.0h0.7v0.7h-0.7zM33.8,449.3h0.7v0.7h-0.7zM25.4,448.8h0.7v0.7h-0.7zM28.1,449.1h0.7v0.7h-0.7zM28.9,449.4h0.7v0.7h-0.7zM36.7,451.0h0.7v0.7h-0.7zM36.9,449.8h0.7v0.7h-0.7zM21.6,447.9h0.7v0.7h-0.7zM33.5,450.1h0.7v0.7h-0.7zM35.3,449.0h0.7v0.7h-0.7zM24.9,449.5h0.7v0.7h-0.7zM15.2,448.1h0.7v0.7h-0.7zM28.4,448.4h0.7v0.7h-0.7zM38.9,449.3h0.7v0.7h-0.7zM17.4,448.8h0.7v0.7h-0.7zM32.2,447.5h0.7v0.7h-0.7zM29.9,451.2h0.7v0.7h-0.7zM26.1,450.4h0.7v0.7h-0.7zM30.8,449.6h0.7v0.7h-0.7zM18.2,449.1h0.7v0.7h-0.7zM40.0,450.0h0.7v0.7h-0.7zM19.5,449.0h0.7v0.7h-0.7zM29.3,448.5h0.7v0.7h-0.7zM30.3,449.8h0.7v0.7h-0.7zM13.5,448.0h0.7v0.7h-0.7zM32.7,448.0h0.7v0.7h-0.7zM15.2,450.4h0.7v0.7h-0.7zM23.0,451.3h0.7v0.7h-0.7zM29.8,447.5h0.7v0.7h-0.7zM32.1,448.2h0.7v0.7h-0.7zM37.4,450.3h0.7v0.7h-0.7zM14.0,450.6h0.7v0.7h-0.7zM17.2,447.9h0.7v0.7h-0.7zM13.9,447.7h0.7v0.7h-0.7zM27.2,451.3h0.7v0.7h-0.7zM22.6,448.2h0.7v0.7h-0.7zM37.8,447.8h0.7v0.7h-0.7zM32.1,449.8h0.7v0.7h-0.7zM29.9,448.7h0.7v0.7h-0.7zM37.7,448.1h0.7v0.7h-0.7zM34.4,447.8h0.7v0.7h-0.7zM27.9,451.4h0.7v0.7h-0.7zM20.2,448.3h0.7v0.7h-0.7zM15.0,447.8h0.7v0.7h-0.7zM20.1,448.3h0.7v0.7h-0.7zM38.3,450.2h0.7v0.7h-0.7zM31.8,448.7h0.7v0.7h-0.7zM34.5,449.2h0.7v0.7h-0.7zM14.8,449.2h0.7v0.7h-0.7zM24.5,449.4h0.7v0.7h-0.7zM22.9,447.7h0.7v0.7h-0.7zM30.8,451.1h0.7v0.7h-0.7zM18.4,449.3h0.7v0.7h-0.7zM28.0,450.4h0.7v0.7h-0.7zM30.0,448.1h0.7v0.7h-0.7zM18.7,450.3h0.7v0.7h-0.7zM15.3,450.9h0.7v0.7h-0.7zM14.0,447.9h0.7v0.7h-0.7zM27.0,450.8h0.7v0.7h-0.7zM31.6,450.4h0.7v0.7h-0.7zM35.8,450.3h0.7v0.7h-0.7zM14.5,450.7h0.7v0.7h-0.7zM17.4,447.7h0.7v0.7h-0.7zM39.3,448.7h0.7v0.7h-0.7zM38.4,449.7h0.7v0.7h-0.7zM16.4,448.3h0.7v0.7h-0.7zM18.7,447.5h0.7v0.7h-0.7zM19.0,449.9h0.7v0.7h-0.7zM18.0,447.8h0.7v0.7h-0.7zM29.1,448.7h0.7v0.7h-0.7zM17.5,449.6h0.7v0.7h-0.7zM28.2,448.7h0.7v0.7h-0.7zM27.2,447.2h0.7v0.7h-0.7zM31.5,447.9h0.7v0.7h-0.7zM39.6,449.6h0.7v0.7h-0.7z" fill="#fff"/>
<path d="M39.7,445.7h0.6v0.6h-0.6zM39.7,446.5h0.6v0.6h-0.6zM39.6,446.5h0.6v0.6h-0.6zM39.0,444.5h0.6v0.6h-0.6zM42.3,446.9h0.6v0.6h-0.6zM41.9,447.6h0.6v0.6h-0.6zM38.3,445.0h0.6v0.6h-0.6zM43.0,446.8h0.6v0.6h-0.6zM37.8,447.9h0.6v0.6h-0.6zM42.2,447.3h0.6v0.6h-0.6zM39.5,446.0h0.6v0.6h-0.6zM43.7,447.5h0.6v0.6h-0.6zM41.0,447.4h0.6v0.6h-0.6zM41.6,447.8h0.6v0.6h-0.6zM38.0,445.0h0.6v0.6h-0.6zM40.9,443.7h0.6v0.6h-0.6zM42.5,443.3h0.6v0.6h-0.6zM41.4,444.4h0.6v0.6h-0.6zM39.3,446.0h0.6v0.6h-0.6zM38.3,445.2h0.6v0.6h-0.6z" fill="#a274cc"/>
<path d="M60.4,487.8h0.45v0.45h-0.45zM26.2,456.8h0.45v0.45h-0.45zM43.1,455.5h0.45v0.45h-0.45zM11.2,455.0h0.45v0.45h-0.45zM60.4,485.3h0.45v0.45h-0.45zM35.3,454.5h0.45v0.45h-0.45zM34.0,454.2h0.45v0.45h-0.45zM56.1,486.8h0.45v0.45h-0.45zM20.4,440.4h0.45v0.45h-0.45zM34.9,447.7h0.45v0.45h-0.45zM14.4,443.5h0.45v0.45h-0.45zM32.5,444.2h0.45v0.45h-0.45zM24.3,440.1h0.45v0.45h-0.45zM20.4,441.8h0.45v0.45h-0.45zM41.7,445.0h0.45v0.45h-0.45zM30.9,444.6h0.45v0.45h-0.45zM47.5,462.0h0.45v0.45h-0.45zM40.4,464.1h0.45v0.45h-0.45zM14.5,445.2h0.45v0.45h-0.45zM68.1,478.2h0.45v0.45h-0.45zM27.8,461.3h0.45v0.45h-0.45zM38.9,458.5h0.45v0.45h-0.45zM38.7,456.4h0.45v0.45h-0.45zM34.1,442.6h0.45v0.45h-0.45zM19.7,459.7h0.45v0.45h-0.45zM36.7,453.3h0.45v0.45h-0.45zM18.7,445.4h0.45v0.45h-0.45zM62.3,476.0h0.45v0.45h-0.45zM23.4,460.9h0.45v0.45h-0.45zM17.4,440.5h0.45v0.45h-0.45zM48.6,462.1h0.45v0.45h-0.45zM62.9,478.1h0.45v0.45h-0.45zM23.0,440.9h0.45v0.45h-0.45zM45.8,462.1h0.45v0.45h-0.45zM63.1,478.3h0.45v0.45h-0.45zM19.1,465.9h0.45v0.45h-0.45zM65.7,481.8h0.45v0.45h-0.45zM25.4,466.1h0.45v0.45h-0.45zM29.4,447.0h0.45v0.45h-0.45zM53.9,476.5h0.45v0.45h-0.45zM30.5,459.6h0.45v0.45h-0.45zM51.1,474.9h0.45v0.45h-0.45zM37.8,444.5h0.45v0.45h-0.45zM16.6,447.1h0.45v0.45h-0.45zM48.2,456.8h0.45v0.45h-0.45zM32.3,447.4h0.45v0.45h-0.45zM61.5,487.0h0.45v0.45h-0.45zM32.6,459.1h0.45v0.45h-0.45zM31.4,456.2h0.45v0.45h-0.45zM59.8,478.5h0.45v0.45h-0.45zM25.5,454.3h0.45v0.45h-0.45zM32.9,444.4h0.45v0.45h-0.45zM31.4,462.2h0.45v0.45h-0.45zM22.7,453.1h0.45v0.45h-0.45zM35.5,452.5h0.45v0.45h-0.45zM29.9,448.2h0.45v0.45h-0.45zM18.0,442.5h0.45v0.45h-0.45zM45.5,454.5h0.45v0.45h-0.45zM13.1,459.6h0.45v0.45h-0.45zM16.7,443.2h0.45v0.45h-0.45zM34.7,446.4h0.45v0.45h-0.45zM62.7,486.3h0.45v0.45h-0.45zM41.6,459.2h0.45v0.45h-0.45zM50.7,467.0h0.45v0.45h-0.45zM56.5,479.8h0.45v0.45h-0.45zM16.4,445.8h0.45v0.45h-0.45zM13.8,446.6h0.45v0.45h-0.45zM36.3,461.8h0.45v0.45h-0.45zM43.6,452.5h0.45v0.45h-0.45zM59.7,478.7h0.45v0.45h-0.45zM15.1,451.9h0.45v0.45h-0.45zM49.5,459.2h0.45v0.45h-0.45zM41.0,448.7h0.45v0.45h-0.45zM37.7,451.4h0.45v0.45h-0.45zM19.0,448.5h0.45v0.45h-0.45zM41.7,467.6h0.45v0.45h-0.45zM54.6,479.4h0.45v0.45h-0.45zM18.0,446.8h0.45v0.45h-0.45zM18.4,456.2h0.45v0.45h-0.45zM52.5,477.3h0.45v0.45h-0.45z" fill="#fff"/>
<path d="M36.2,461.4h0.5v0.5h-0.5zM38.0,457.1h0.5v0.5h-0.5zM13.7,457.9h0.5v0.5h-0.5zM31.8,440.2h0.5v0.5h-0.5zM15.7,459.8h0.5v0.5h-0.5zM65.3,480.4h0.5v0.5h-0.5zM12.8,454.4h0.5v0.5h-0.5zM32.3,454.1h0.5v0.5h-0.5zM21.2,443.9h0.5v0.5h-0.5zM22.0,454.3h0.5v0.5h-0.5zM55.3,475.4h0.5v0.5h-0.5zM28.5,461.2h0.5v0.5h-0.5zM31.5,462.1h0.5v0.5h-0.5zM57.7,484.5h0.5v0.5h-0.5zM28.5,460.7h0.5v0.5h-0.5zM14.0,452.9h0.5v0.5h-0.5zM27.9,459.5h0.5v0.5h-0.5zM30.7,450.0h0.5v0.5h-0.5zM14.7,441.1h0.5v0.5h-0.5zM34.8,465.9h0.5v0.5h-0.5zM34.1,466.8h0.5v0.5h-0.5zM27.8,439.4h0.5v0.5h-0.5zM49.9,455.4h0.5v0.5h-0.5zM39.4,457.4h0.5v0.5h-0.5zM26.6,441.2h0.5v0.5h-0.5z" fill="#a274cc"/>
<path d="M53.1,449.8h0.5v0.5h-0.5zM54.0,446.0h0.5v0.5h-0.5zM61.1,440.1h0.5v0.5h-0.5zM47.7,450.5h0.5v0.5h-0.5zM50.4,457.1h0.5v0.5h-0.5zM59.5,444.6h0.5v0.5h-0.5zM58.6,440.2h0.5v0.5h-0.5zM49.8,452.8h0.5v0.5h-0.5zM52.4,448.7h0.5v0.5h-0.5zM52.9,451.2h0.5v0.5h-0.5zM56.2,446.2h0.5v0.5h-0.5zM48.5,454.0h0.5v0.5h-0.5zM60.7,439.9h0.5v0.5h-0.5zM54.3,444.6h0.5v0.5h-0.5zM50.8,452.1h0.5v0.5h-0.5zM60.7,439.9h0.5v0.5h-0.5zM57.9,446.5h0.5v0.5h-0.5zM48.5,448.2h0.5v0.5h-0.5zM52.5,453.3h0.5v0.5h-0.5zM56.3,446.3h0.5v0.5h-0.5zM51.3,459.3h0.5v0.5h-0.5zM57.8,441.0h0.5v0.5h-0.5zM50.4,447.1h0.5v0.5h-0.5zM46.9,451.3h0.5v0.5h-0.5zM51.1,459.0h0.5v0.5h-0.5zM48.3,449.9h0.5v0.5h-0.5zM50.3,457.4h0.5v0.5h-0.5zM50.1,449.0h0.5v0.5h-0.5zM54.6,444.5h0.5v0.5h-0.5zM47.5,450.6h0.5v0.5h-0.5z" fill="#fff"/>
<path d="M80.3,439.5C80.9,439.6 82.7,440.0 84.0,440.3C85.3,440.6 87.4,440.9 88.2,441.5C89.0,442.1 88.3,443.2 88.6,444.0C88.9,444.8 89.2,445.8 90.0,446.5C90.8,447.2 92.5,448.6 93.5,448.5C94.5,448.4 95.0,447.0 96.1,446.0C97.2,445.0 98.8,443.1 100.1,442.6C101.4,442.1 102.7,443.1 104.0,443.2C105.3,443.3 107.3,443.4 108.0,443.5" fill="none" stroke="#a274cc" stroke-width="0.8"/>
<path d="M82.4,439.8h0.6v0.6h-0.6zM83.5,440.2h0.6v0.6h-0.6zM83.8,440.4h0.6v0.6h-0.6zM82.8,440.4h0.6v0.6h-0.6zM81.1,439.5h0.6v0.6h-0.6zM84.0,439.2h0.6v0.6h-0.6zM88.1,441.2h0.6v0.6h-0.6zM88.0,441.6h0.6v0.6h-0.6zM85.3,441.1h0.6v0.6h-0.6zM84.4,439.9h0.6v0.6h-0.6zM84.1,440.1h0.6v0.6h-0.6zM88.0,440.8h0.6v0.6h-0.6zM89.1,442.8h0.6v0.6h-0.6zM87.1,441.4h0.6v0.6h-0.6zM89.1,443.7h0.6v0.6h-0.6zM88.1,444.0h0.6v0.6h-0.6zM87.9,443.3h0.6v0.6h-0.6zM88.1,443.2h0.6v0.6h-0.6zM89.2,444.4h0.6v0.6h-0.6zM90.2,444.5h0.6v0.6h-0.6zM90.3,445.8h0.6v0.6h-0.6zM88.8,444.3h0.6v0.6h-0.6zM88.6,444.7h0.6v0.6h-0.6zM89.1,445.1h0.6v0.6h-0.6zM91.1,446.9h0.6v0.6h-0.6zM90.6,448.2h0.6v0.6h-0.6zM91.4,446.6h0.6v0.6h-0.6zM91.0,446.8h0.6v0.6h-0.6zM93.8,448.5h0.6v0.6h-0.6zM90.4,446.1h0.6v0.6h-0.6zM95.4,447.0h0.6v0.6h-0.6zM97.0,445.5h0.6v0.6h-0.6zM95.4,447.3h0.6v0.6h-0.6zM96.2,446.4h0.6v0.6h-0.6zM94.0,448.1h0.6v0.6h-0.6zM93.5,448.6h0.6v0.6h-0.6zM97.3,444.0h0.6v0.6h-0.6zM96.3,445.6h0.6v0.6h-0.6zM98.0,444.1h0.6v0.6h-0.6zM99.4,443.7h0.6v0.6h-0.6zM99.9,443.3h0.6v0.6h-0.6zM98.0,443.0h0.6v0.6h-0.6zM102.9,443.3h0.6v0.6h-0.6zM101.9,443.5h0.6v0.6h-0.6zM100.3,442.2h0.6v0.6h-0.6zM101.1,443.4h0.6v0.6h-0.6zM103.8,442.8h0.6v0.6h-0.6zM104.3,443.9h0.6v0.6h-0.6zM107.8,443.5h0.6v0.6h-0.6zM105.3,443.7h0.6v0.6h-0.6zM106.2,443.4h0.6v0.6h-0.6zM106.7,443.6h0.6v0.6h-0.6zM105.8,442.7h0.6v0.6h-0.6zM107.6,443.8h0.6v0.6h-0.6zM100.4,443.0h0.6v0.6h-0.6zM99.3,444.5h0.6v0.6h-0.6zM105.8,444.2h0.6v0.6h-0.6zM103.9,444.6h0.6v0.6h-0.6zM107.3,444.3h0.6v0.6h-0.6zM107.1,441.9h0.6v0.6h-0.6zM102.5,441.2h0.6v0.6h-0.6zM106.6,442.9h0.6v0.6h-0.6zM108.9,442.2h0.6v0.6h-0.6zM103.3,444.5h0.6v0.6h-0.6zM108.7,444.0h0.6v0.6h-0.6zM107.8,444.7h0.6v0.6h-0.6zM101.7,443.5h0.6v0.6h-0.6zM99.6,443.7h0.6v0.6h-0.6zM108.5,443.0h0.6v0.6h-0.6zM100.5,443.3h0.6v0.6h-0.6zM99.7,442.8h0.6v0.6h-0.6zM99.8,442.7h0.6v0.6h-0.6z" fill="#a274cc"/>
<path d="M110.8,417.5C111.2,416.8 112.2,416.4 113.0,416.2C113.8,416.0 115.2,416.0 115.5,416.5C115.8,417.0 115.1,418.2 114.5,419.0C113.9,419.8 112.7,421.2 112.0,421.5C111.3,421.8 110.8,421.2 110.6,420.5C110.4,419.8 110.4,418.2 110.8,417.5Z" fill="#d6a11e" fill-opacity="0.7"/>
<path d="M78.8,415.3h0.6v0.6h-0.6zM79.2,414.6h0.6v0.6h-0.6zM74.3,413.5h0.6v0.6h-0.6zM78.5,414.9h0.6v0.6h-0.6zM73.9,413.8h0.6v0.6h-0.6zM74.5,413.6h0.6v0.6h-0.6zM70.4,413.6h0.6v0.6h-0.6zM74.1,413.8h0.6v0.6h-0.6zM78.9,415.0h0.6v0.6h-0.6zM79.4,414.8h0.6v0.6h-0.6zM70.9,414.1h0.6v0.6h-0.6zM79.1,414.9h0.6v0.6h-0.6zM76.8,415.0h0.6v0.6h-0.6zM69.6,413.9h0.6v0.6h-0.6zM74.2,415.6h0.6v0.6h-0.6zM80.3,414.9h0.6v0.6h-0.6zM72.1,413.5h0.6v0.6h-0.6zM75.7,414.5h0.6v0.6h-0.6zM80.2,413.9h0.6v0.6h-0.6zM71.5,413.4h0.6v0.6h-0.6zM69.3,415.5h0.6v0.6h-0.6zM79.5,413.8h0.6v0.6h-0.6zM69.2,414.9h0.6v0.6h-0.6zM72.0,415.0h0.6v0.6h-0.6zM79.9,415.3h0.6v0.6h-0.6zM72.4,415.0h0.6v0.6h-0.6zM72.5,415.4h0.6v0.6h-0.6zM72.1,415.7h0.6v0.6h-0.6zM77.1,415.7h0.6v0.6h-0.6zM73.1,415.9h0.6v0.6h-0.6zM76.0,414.1h0.6v0.6h-0.6zM76.8,414.2h0.6v0.6h-0.6zM70.4,413.5h0.6v0.6h-0.6zM76.3,414.0h0.6v0.6h-0.6zM70.2,415.4h0.6v0.6h-0.6zM70.7,415.4h0.6v0.6h-0.6zM72.3,414.3h0.6v0.6h-0.6zM80.2,415.6h0.6v0.6h-0.6zM79.0,415.9h0.6v0.6h-0.6zM76.2,415.8h0.6v0.6h-0.6zM76.5,414.9h0.6v0.6h-0.6zM72.9,414.4h0.6v0.6h-0.6zM75.8,414.0h0.6v0.6h-0.6zM76.7,415.6h0.6v0.6h-0.6zM77.6,414.0h0.6v0.6h-0.6z" fill="#e27fbf"/>
<path d="M61.0,416.5h0.7v0.7h-0.7zM61.5,417.5h0.7v0.7h-0.7zM62.0,418.5h0.7v0.7h-0.7z" fill="#a274cc"/>
<path d="M55,466 L65,462.6" stroke="#4a9ee0" stroke-width="0.8"/>
<path d="M85,443 L88,444" stroke="#4a9ee0" stroke-width="0.6"/>
<text x="64.6" y="400.1" font-size="6.65" text-anchor="start">B</text>
<text x="6.0" y="416.9" font-size="6.65" text-anchor="start">Haemapoietic stem</text>
<text x="51.9" y="442.0" font-size="6.65" text-anchor="start">DC</text>
<text x="61.1" y="456.6" font-size="6.65" text-anchor="start">Megakaryocyte</text>
<text x="7.0" y="471.9" font-size="6.65" text-anchor="start">Monocyte</text>
<text x="116.5" y="429.8" font-size="6.65" text-anchor="start">CD4 T</text>
<text x="123.6" y="479.0" font-size="6.65" text-anchor="start">CD8 T</text>
<text x="106.0" y="506.6" font-size="6.65" text-anchor="start">NK</text>
<path d="M11.3,513.4 V489.5 M11.3,513.4 H35" stroke="#111" stroke-width="0.8" fill="none"/>
<path d="M11.3,486.2 L9.4,490.4 L13.2,490.4Z M38.3,513.4 L34.1,511.5 L34.1,515.3Z" fill="#111"/>
<text transform="translate(5.9,513.4) rotate(-90)" font-size="6.65">UMAP2</text>
<text x="10.3" y="524.4" font-size="6.65" text-anchor="start">UMAP1</text>
<line x1="199.3" y1="376.1" x2="199.3" y2="479.2" stroke="#999" stroke-width="1.0"/>
<line x1="198.9" y1="479.2" x2="328.1" y2="479.2" stroke="#9a9a9a" stroke-width="1.1"/>
<line x1="195.70000000000002" y1="390.40" x2="199.3" y2="390.40" stroke="#555" stroke-width="0.7"/>
<text x="191.8" y="392.70" font-size="6.4" text-anchor="end">4</text>
<line x1="195.70000000000002" y1="412.10" x2="199.3" y2="412.10" stroke="#555" stroke-width="0.7"/>
<text x="191.8" y="414.40" font-size="6.4" text-anchor="end">2</text>
<line x1="195.70000000000002" y1="433.80" x2="199.3" y2="433.80" stroke="#555" stroke-width="0.7"/>
<text x="191.8" y="436.10" font-size="6.4" text-anchor="end">0</text>
<line x1="195.70000000000002" y1="455.50" x2="199.3" y2="455.50" stroke="#555" stroke-width="0.7"/>
<text x="191.8" y="457.80" font-size="6.4" text-anchor="end">−2</text>
<line x1="195.70000000000002" y1="477.20" x2="199.3" y2="477.20" stroke="#555" stroke-width="0.7"/>
<text x="191.8" y="479.50" font-size="6.4" text-anchor="end">−4</text>
<text transform="translate(182.4,438.6) rotate(-90)" font-size="6.65">scDRS</text>
<line x1="209.80" y1="378.00" x2="209.80" y2="462.00" stroke="#7a7a7a" stroke-width="1.0"/>
<path d="M214.65,378.00 L214.64,378.85 L214.63,379.70 L214.63,380.55 L214.62,381.39 L214.62,382.24 L214.61,383.09 L214.61,383.94 L214.61,384.79 L214.60,385.64 L214.60,386.48 L214.60,387.33 L214.60,388.18 L214.60,389.03 L214.60,389.88 L214.60,390.73 L214.60,391.58 L214.61,392.42 L214.66,393.27 L214.75,394.12 L214.86,394.97 L214.99,395.82 L215.12,396.67 L215.24,397.52 L215.38,398.36 L215.52,399.21 L215.68,400.06 L215.85,400.91 L216.03,401.76 L216.22,402.61 L216.41,403.45 L216.61,404.30 L216.81,405.15 L217.03,406.00 L217.29,406.85 L217.40,407.70 L217.40,408.55 L217.40,409.39 L217.40,410.24 L217.40,411.09 L217.40,411.94 L217.40,412.79 L217.40,413.64 L217.40,414.48 L217.40,415.33 L217.40,416.18 L217.40,417.03 L217.40,417.88 L217.40,418.73 L217.40,419.58 L217.40,420.42 L217.40,421.27 L217.40,422.12 L217.40,422.97 L217.40,423.82 L217.40,424.67 L217.40,425.52 L217.40,426.36 L217.40,427.21 L217.40,428.06 L217.40,428.91 L217.40,429.76 L217.40,430.61 L217.40,431.45 L217.40,432.30 L217.40,433.15 L217.40,434.00 L217.40,434.85 L217.40,435.70 L217.40,436.55 L217.40,437.39 L217.40,438.24 L217.40,439.09 L217.40,439.94 L217.40,440.79 L217.40,441.64 L217.40,442.48 L217.39,443.33 L217.13,444.18 L216.88,445.03 L216.61,445.88 L216.33,446.73 L216.05,447.58 L215.79,448.42 L215.54,449.27 L215.31,450.12 L215.13,450.97 L214.96,451.82 L214.79,452.67 L214.66,453.52 L214.60,454.36 L214.60,455.21 L214.60,456.06 L214.60,456.91 L214.60,457.76 L214.61,458.61 L214.61,459.45 L214.62,460.30 L214.63,461.15 L214.65,462.00 L204.95,462.00 L204.97,461.15 L204.98,460.30 L204.99,459.45 L204.99,458.61 L205.00,457.76 L205.00,456.91 L205.00,456.06 L205.00,455.21 L205.00,454.36 L204.94,453.52 L204.81,452.67 L204.64,451.82 L204.47,450.97 L204.29,450.12 L204.06,449.27 L203.81,448.42 L203.55,447.58 L203.27,446.73 L202.99,445.88 L202.72,445.03 L202.47,444.18 L202.21,443.33 L202.20,442.48 L202.20,441.64 L202.20,440.79 L202.20,439.94 L202.20,439.09 L202.20,438.24 L202.20,437.39 L202.20,436.55 L202.20,435.70 L202.20,434.85 L202.20,434.00 L202.20,433.15 L202.20,432.30 L202.20,431.45 L202.20,430.61 L202.20,429.76 L202.20,428.91 L202.20,428.06 L202.20,427.21 L202.20,426.36 L202.20,425.52 L202.20,424.67 L202.20,423.82 L202.20,422.97 L202.20,422.12 L202.20,421.27 L202.20,420.42 L202.20,419.58 L202.20,418.73 L202.20,417.88 L202.20,417.03 L202.20,416.18 L202.20,415.33 L202.20,414.48 L202.20,413.64 L202.20,412.79 L202.20,411.94 L202.20,411.09 L202.20,410.24 L202.20,409.39 L202.20,408.55 L202.20,407.70 L202.31,406.85 L202.57,406.00 L202.79,405.15 L202.99,404.30 L203.19,403.45 L203.38,402.61 L203.57,401.76 L203.75,400.91 L203.92,400.06 L204.08,399.21 L204.22,398.36 L204.36,397.52 L204.48,396.67 L204.61,395.82 L204.74,394.97 L204.85,394.12 L204.94,393.27 L204.99,392.42 L205.00,391.58 L205.00,390.73 L205.00,389.88 L205.00,389.03 L205.00,388.18 L205.00,387.33 L205.00,386.48 L205.00,385.64 L204.99,384.79 L204.99,383.94 L204.99,383.09 L204.98,382.24 L204.98,381.39 L204.97,380.55 L204.97,379.70 L204.96,378.85 L204.95,378.00Z" fill="url(#cg0)"/>
<path d="M210.36,394.97 L210.49,395.82 L210.62,396.67 L210.74,397.52 L210.88,398.36 L211.02,399.21 L211.18,400.06 L211.35,400.91 L211.53,401.76 L211.72,402.61 L211.91,403.45 L212.11,404.30 L212.31,405.15 L212.53,406.00 L212.79,406.85 L213.07,407.70 L213.37,408.55 L213.67,409.39 L213.99,410.24 L214.29,411.09 L214.59,411.94 L214.86,412.79 L215.11,413.64 L215.31,414.48 L215.47,415.33 L215.60,416.18 L215.73,417.03 L215.85,417.88 L215.96,418.73 L216.07,419.58 L216.17,420.42 L216.26,421.27 L216.34,422.12 L216.40,422.97 L216.45,423.82 L216.49,424.67 L216.50,425.52 L216.49,426.36 L216.45,427.21 L216.38,428.06 L216.29,428.91 L216.17,429.76 L216.04,430.61 L215.90,431.45 L215.74,432.30 L215.58,433.15 L215.41,434.00 L215.24,434.85 L215.07,435.70 L214.89,436.55 L214.69,437.39 L214.47,438.24 L214.22,439.09 L213.96,439.94 L213.70,440.79 L213.43,441.64 L213.16,442.48 L212.89,443.33 L212.63,444.18 L212.38,445.03 L212.11,445.88 L211.83,446.73 L211.55,447.58 L211.29,448.42 L211.04,449.27 L210.81,450.12 L210.63,450.97 L210.46,451.82 L209.14,451.82 L208.97,450.97 L208.79,450.12 L208.56,449.27 L208.31,448.42 L208.05,447.58 L207.77,446.73 L207.49,445.88 L207.22,445.03 L206.97,444.18 L206.71,443.33 L206.44,442.48 L206.17,441.64 L205.90,440.79 L205.64,439.94 L205.38,439.09 L205.13,438.24 L204.91,437.39 L204.71,436.55 L204.53,435.70 L204.36,434.85 L204.19,434.00 L204.02,433.15 L203.86,432.30 L203.70,431.45 L203.56,430.61 L203.43,429.76 L203.31,428.91 L203.22,428.06 L203.15,427.21 L203.11,426.36 L203.10,425.52 L203.11,424.67 L203.15,423.82 L203.20,422.97 L203.26,422.12 L203.34,421.27 L203.43,420.42 L203.53,419.58 L203.64,418.73 L203.75,417.88 L203.87,417.03 L204.00,416.18 L204.13,415.33 L204.29,414.48 L204.49,413.64 L204.74,412.79 L205.01,411.94 L205.31,411.09 L205.61,410.24 L205.93,409.39 L206.23,408.55 L206.53,407.70 L206.81,406.85 L207.07,406.00 L207.29,405.15 L207.49,404.30 L207.69,403.45 L207.88,402.61 L208.07,401.76 L208.25,400.91 L208.42,400.06 L208.58,399.21 L208.72,398.36 L208.86,397.52 L208.98,396.67 L209.11,395.82 L209.24,394.97Z" fill="#e8635e" stroke="#3a3a3a" stroke-width="0.45"/>
<path d="M210.36,394.97 L210.49,395.82 L210.62,396.67 L210.74,397.52 L210.88,398.36 L211.02,399.21 L211.18,400.06 L211.35,400.91 L211.53,401.76 L211.72,402.61 L211.91,403.45 L212.11,404.30 L212.31,405.15 L212.53,406.00 L212.79,406.85 L213.07,407.70 L213.37,408.55 L213.67,409.39 L213.99,410.24 L214.29,411.09 L214.59,411.94 L214.86,412.79 L215.11,413.64 L215.31,414.48 L215.47,415.33 L215.60,416.18 L215.73,417.03 L215.85,417.88 L215.96,418.73 L216.07,419.58 L216.17,420.42 L216.26,421.27 L216.34,422.12 L216.40,422.97 L216.45,423.82 L216.49,424.67 L216.50,425.52 L216.49,426.36 L216.45,427.21 L216.38,428.06 L216.29,428.91 L216.17,429.76 L216.04,430.61 L215.90,431.45 L215.74,432.30 L215.58,433.15 L215.41,434.00 L215.24,434.85 L215.07,435.70 L214.89,436.55 L214.69,437.39 L214.47,438.24 L214.22,439.09 L213.96,439.94 L213.70,440.79 L213.43,441.64 L213.16,442.48 L212.89,443.33 L212.63,444.18 L212.38,445.03 L212.11,445.88 L211.83,446.73 L211.55,447.58 L211.29,448.42 L211.04,449.27 L210.81,450.12 L210.63,450.97 L210.46,451.82 L209.14,451.82 L208.97,450.97 L208.79,450.12 L208.56,449.27 L208.31,448.42 L208.05,447.58 L207.77,446.73 L207.49,445.88 L207.22,445.03 L206.97,444.18 L206.71,443.33 L206.44,442.48 L206.17,441.64 L205.90,440.79 L205.64,439.94 L205.38,439.09 L205.13,438.24 L204.91,437.39 L204.71,436.55 L204.53,435.70 L204.36,434.85 L204.19,434.00 L204.02,433.15 L203.86,432.30 L203.70,431.45 L203.56,430.61 L203.43,429.76 L203.31,428.91 L203.22,428.06 L203.15,427.21 L203.11,426.36 L203.10,425.52 L203.11,424.67 L203.15,423.82 L203.20,422.97 L203.26,422.12 L203.34,421.27 L203.43,420.42 L203.53,419.58 L203.64,418.73 L203.75,417.88 L203.87,417.03 L204.00,416.18 L204.13,415.33 L204.29,414.48 L204.49,413.64 L204.74,412.79 L205.01,411.94 L205.31,411.09 L205.61,410.24 L205.93,409.39 L206.23,408.55 L206.53,407.70 L206.81,406.85 L207.07,406.00 L207.29,405.15 L207.49,404.30 L207.69,403.45 L207.88,402.61 L208.07,401.76 L208.25,400.91 L208.42,400.06 L208.58,399.21 L208.72,398.36 L208.86,397.52 L208.98,396.67 L209.11,395.82 L209.24,394.97Z" fill="url(#vg0)"/>
<path d="M213.4,428.6h0.6v0.6h-0.6zM216.3,435.7h0.6v0.6h-0.6zM216.1,433.2h0.6v0.6h-0.6zM209.3,396.4h0.6v0.6h-0.6zM212.0,444.8h0.6v0.6h-0.6zM204.1,441.4h0.6v0.6h-0.6zM206.0,423.0h0.6v0.6h-0.6zM210.9,425.7h0.6v0.6h-0.6zM205.6,387.0h0.6v0.6h-0.6zM216.0,415.7h0.6v0.6h-0.6zM204.8,434.3h0.6v0.6h-0.6zM204.5,435.7h0.6v0.6h-0.6zM204.3,428.4h0.6v0.6h-0.6zM215.3,378.4h0.6v0.6h-0.6zM205.6,412.7h0.6v0.6h-0.6zM215.3,450.6h0.6v0.6h-0.6zM216.6,416.1h0.6v0.6h-0.6zM212.4,425.5h0.6v0.6h-0.6zM216.3,412.4h0.6v0.6h-0.6zM216.7,431.2h0.6v0.6h-0.6zM206.8,440.9h0.6v0.6h-0.6zM204.9,419.0h0.6v0.6h-0.6zM203.4,409.3h0.6v0.6h-0.6zM211.3,416.6h0.6v0.6h-0.6zM212.4,379.5h0.6v0.6h-0.6zM207.0,418.1h0.6v0.6h-0.6zM209.5,436.8h0.6v0.6h-0.6zM209.5,417.2h0.6v0.6h-0.6zM203.2,431.8h0.6v0.6h-0.6zM202.7,448.9h0.6v0.6h-0.6zM214.9,433.6h0.6v0.6h-0.6zM214.1,391.0h0.6v0.6h-0.6zM211.0,419.2h0.6v0.6h-0.6zM203.1,383.8h0.6v0.6h-0.6zM216.5,411.3h0.6v0.6h-0.6zM213.6,412.0h0.6v0.6h-0.6zM216.3,443.6h0.6v0.6h-0.6zM207.7,418.3h0.6v0.6h-0.6zM213.9,425.0h0.6v0.6h-0.6zM213.5,406.8h0.6v0.6h-0.6zM215.1,435.8h0.6v0.6h-0.6zM216.4,398.3h0.6v0.6h-0.6zM207.4,405.3h0.6v0.6h-0.6zM216.0,428.1h0.6v0.6h-0.6zM216.1,418.2h0.6v0.6h-0.6zM207.0,425.8h0.6v0.6h-0.6zM205.0,417.2h0.6v0.6h-0.6zM204.6,404.1h0.6v0.6h-0.6zM217.2,431.1h0.6v0.6h-0.6zM203.1,410.2h0.6v0.6h-0.6zM210.3,452.2h0.6v0.6h-0.6zM205.9,420.7h0.6v0.6h-0.6zM214.6,427.5h0.6v0.6h-0.6zM208.6,422.5h0.6v0.6h-0.6zM216.0,401.5h0.6v0.6h-0.6zM209.7,397.4h0.6v0.6h-0.6zM204.3,437.8h0.6v0.6h-0.6zM216.5,432.9h0.6v0.6h-0.6zM214.1,428.9h0.6v0.6h-0.6zM208.8,406.6h0.6v0.6h-0.6zM214.9,409.5h0.6v0.6h-0.6zM209.1,416.4h0.6v0.6h-0.6zM215.0,461.5h0.6v0.6h-0.6zM209.1,449.1h0.6v0.6h-0.6zM213.2,423.7h0.6v0.6h-0.6zM206.7,423.4h0.6v0.6h-0.6zM204.6,420.6h0.6v0.6h-0.6zM217.0,419.6h0.6v0.6h-0.6zM211.7,446.5h0.6v0.6h-0.6zM207.4,424.1h0.6v0.6h-0.6zM206.4,405.2h0.6v0.6h-0.6zM215.2,435.1h0.6v0.6h-0.6zM214.0,419.0h0.6v0.6h-0.6zM212.7,434.7h0.6v0.6h-0.6zM213.6,430.1h0.6v0.6h-0.6zM212.8,419.1h0.6v0.6h-0.6zM209.6,415.8h0.6v0.6h-0.6zM212.6,434.5h0.6v0.6h-0.6zM216.4,416.3h0.6v0.6h-0.6zM211.0,429.6h0.6v0.6h-0.6zM210.5,385.8h0.6v0.6h-0.6zM212.3,414.5h0.6v0.6h-0.6zM214.5,422.8h0.6v0.6h-0.6zM214.2,429.5h0.6v0.6h-0.6zM211.9,418.5h0.6v0.6h-0.6zM214.7,433.1h0.6v0.6h-0.6zM214.9,418.6h0.6v0.6h-0.6zM212.6,439.5h0.6v0.6h-0.6zM216.6,449.1h0.6v0.6h-0.6zM210.2,424.8h0.6v0.6h-0.6zM214.8,410.5h0.6v0.6h-0.6zM209.5,444.2h0.6v0.6h-0.6zM213.1,431.2h0.6v0.6h-0.6zM204.9,432.8h0.6v0.6h-0.6zM211.0,435.0h0.6v0.6h-0.6zM208.6,430.2h0.6v0.6h-0.6zM213.9,428.6h0.6v0.6h-0.6zM213.1,429.1h0.6v0.6h-0.6zM204.8,396.0h0.6v0.6h-0.6zM212.0,422.0h0.6v0.6h-0.6zM212.6,413.1h0.6v0.6h-0.6zM203.0,428.9h0.6v0.6h-0.6zM205.7,423.1h0.6v0.6h-0.6zM204.4,401.2h0.6v0.6h-0.6zM205.1,417.3h0.6v0.6h-0.6zM202.9,411.9h0.6v0.6h-0.6zM208.0,422.9h0.6v0.6h-0.6zM211.1,428.2h0.6v0.6h-0.6zM215.8,413.9h0.6v0.6h-0.6zM208.4,378.0h0.6v0.6h-0.6zM208.5,415.7h0.6v0.6h-0.6zM214.7,407.3h0.6v0.6h-0.6zM202.9,419.5h0.6v0.6h-0.6zM203.8,428.2h0.6v0.6h-0.6zM207.4,425.8h0.6v0.6h-0.6zM216.6,427.0h0.6v0.6h-0.6zM208.6,436.8h0.6v0.6h-0.6zM211.9,436.5h0.6v0.6h-0.6zM204.5,419.3h0.6v0.6h-0.6zM210.7,427.6h0.6v0.6h-0.6zM216.7,446.2h0.6v0.6h-0.6zM207.6,428.1h0.6v0.6h-0.6zM202.4,440.9h0.6v0.6h-0.6zM210.8,406.8h0.6v0.6h-0.6zM204.5,428.3h0.6v0.6h-0.6zM215.6,428.8h0.6v0.6h-0.6zM208.8,419.6h0.6v0.6h-0.6zM206.7,413.4h0.6v0.6h-0.6zM208.0,448.4h0.6v0.6h-0.6zM215.9,446.7h0.6v0.6h-0.6zM206.2,427.6h0.6v0.6h-0.6zM209.7,450.2h0.6v0.6h-0.6zM207.1,421.0h0.6v0.6h-0.6zM209.7,451.2h0.6v0.6h-0.6zM209.5,416.0h0.6v0.6h-0.6zM211.6,407.8h0.6v0.6h-0.6zM206.7,422.1h0.6v0.6h-0.6zM214.6,435.0h0.6v0.6h-0.6zM210.3,387.1h0.6v0.6h-0.6zM216.2,415.5h0.6v0.6h-0.6zM206.0,435.0h0.6v0.6h-0.6zM204.7,415.2h0.6v0.6h-0.6zM206.7,453.4h0.6v0.6h-0.6zM209.4,428.0h0.6v0.6h-0.6zM211.3,429.4h0.6v0.6h-0.6zM204.1,433.4h0.6v0.6h-0.6zM206.9,434.1h0.6v0.6h-0.6zM207.4,425.3h0.6v0.6h-0.6zM210.2,416.4h0.6v0.6h-0.6zM207.7,422.8h0.6v0.6h-0.6zM211.1,433.4h0.6v0.6h-0.6zM206.1,398.2h0.6v0.6h-0.6zM216.0,422.5h0.6v0.6h-0.6zM210.5,440.6h0.6v0.6h-0.6zM213.9,388.2h0.6v0.6h-0.6zM210.9,421.5h0.6v0.6h-0.6zM211.8,431.9h0.6v0.6h-0.6zM215.9,423.5h0.6v0.6h-0.6zM208.2,419.9h0.6v0.6h-0.6zM205.3,438.5h0.6v0.6h-0.6zM214.7,416.4h0.6v0.6h-0.6zM214.8,402.8h0.6v0.6h-0.6zM208.8,431.3h0.6v0.6h-0.6zM214.0,416.0h0.6v0.6h-0.6zM204.5,442.1h0.6v0.6h-0.6zM210.5,423.3h0.6v0.6h-0.6zM207.3,424.0h0.6v0.6h-0.6zM211.1,409.8h0.6v0.6h-0.6zM203.4,436.4h0.6v0.6h-0.6zM214.5,413.6h0.6v0.6h-0.6zM212.2,435.5h0.6v0.6h-0.6zM213.1,395.3h0.6v0.6h-0.6zM217.2,449.6h0.6v0.6h-0.6zM203.1,431.6h0.6v0.6h-0.6zM205.6,438.0h0.6v0.6h-0.6zM216.5,429.4h0.6v0.6h-0.6zM204.4,432.1h0.6v0.6h-0.6zM216.0,416.3h0.6v0.6h-0.6zM211.4,409.6h0.6v0.6h-0.6zM204.8,421.0h0.6v0.6h-0.6zM203.0,428.6h0.6v0.6h-0.6zM208.0,406.8h0.6v0.6h-0.6zM203.3,403.5h0.6v0.6h-0.6zM213.4,426.8h0.6v0.6h-0.6zM204.4,440.0h0.6v0.6h-0.6zM207.1,421.6h0.6v0.6h-0.6zM209.6,427.8h0.6v0.6h-0.6zM207.9,444.3h0.6v0.6h-0.6zM212.7,401.5h0.6v0.6h-0.6zM211.7,409.6h0.6v0.6h-0.6zM215.9,424.3h0.6v0.6h-0.6zM211.6,426.1h0.6v0.6h-0.6zM210.6,415.0h0.6v0.6h-0.6zM213.5,414.7h0.6v0.6h-0.6zM204.4,424.7h0.6v0.6h-0.6zM207.9,413.8h0.6v0.6h-0.6zM205.1,433.1h0.6v0.6h-0.6zM212.1,432.1h0.6v0.6h-0.6zM212.3,404.8h0.6v0.6h-0.6zM204.2,405.3h0.6v0.6h-0.6zM205.9,427.5h0.6v0.6h-0.6zM209.5,439.9h0.6v0.6h-0.6zM214.2,417.5h0.6v0.6h-0.6zM213.1,396.5h0.6v0.6h-0.6zM204.6,401.2h0.6v0.6h-0.6zM212.5,445.6h0.6v0.6h-0.6zM204.1,413.3h0.6v0.6h-0.6zM212.2,448.4h0.6v0.6h-0.6zM204.5,436.9h0.6v0.6h-0.6zM207.6,428.7h0.6v0.6h-0.6zM207.3,413.8h0.6v0.6h-0.6zM207.6,428.3h0.6v0.6h-0.6zM204.4,419.9h0.6v0.6h-0.6zM212.0,437.4h0.6v0.6h-0.6zM208.8,436.1h0.6v0.6h-0.6zM210.1,438.5h0.6v0.6h-0.6zM210.9,427.5h0.6v0.6h-0.6zM208.3,433.2h0.6v0.6h-0.6zM202.9,405.9h0.6v0.6h-0.6zM203.0,412.3h0.6v0.6h-0.6zM209.5,440.6h0.6v0.6h-0.6zM202.4,434.1h0.6v0.6h-0.6zM215.6,423.1h0.6v0.6h-0.6zM208.7,428.5h0.6v0.6h-0.6zM203.9,422.9h0.6v0.6h-0.6zM204.8,409.8h0.6v0.6h-0.6zM208.1,419.5h0.6v0.6h-0.6zM204.7,440.1h0.6v0.6h-0.6zM206.5,414.7h0.6v0.6h-0.6zM206.6,410.2h0.6v0.6h-0.6zM209.5,413.8h0.6v0.6h-0.6zM216.1,397.2h0.6v0.6h-0.6zM216.3,419.3h0.6v0.6h-0.6zM212.4,431.1h0.6v0.6h-0.6zM216.4,423.1h0.6v0.6h-0.6zM212.3,407.5h0.6v0.6h-0.6zM212.4,416.2h0.6v0.6h-0.6zM204.8,432.8h0.6v0.6h-0.6zM202.8,412.3h0.6v0.6h-0.6zM203.6,413.6h0.6v0.6h-0.6zM216.8,420.5h0.6v0.6h-0.6zM207.0,419.1h0.6v0.6h-0.6zM206.6,423.0h0.6v0.6h-0.6zM213.0,432.9h0.6v0.6h-0.6zM206.0,410.3h0.6v0.6h-0.6zM216.3,430.5h0.6v0.6h-0.6zM208.8,429.5h0.6v0.6h-0.6zM202.5,448.9h0.6v0.6h-0.6zM213.9,402.1h0.6v0.6h-0.6zM203.1,420.8h0.6v0.6h-0.6zM217.0,425.9h0.6v0.6h-0.6zM207.6,424.8h0.6v0.6h-0.6zM203.5,405.6h0.6v0.6h-0.6zM209.7,441.3h0.6v0.6h-0.6zM203.2,444.1h0.6v0.6h-0.6zM203.1,414.2h0.6v0.6h-0.6zM203.3,420.4h0.6v0.6h-0.6zM208.4,414.7h0.6v0.6h-0.6zM203.2,416.8h0.6v0.6h-0.6zM216.8,398.5h0.6v0.6h-0.6zM209.9,411.2h0.6v0.6h-0.6zM210.3,420.6h0.6v0.6h-0.6zM207.0,404.7h0.6v0.6h-0.6zM210.4,406.8h0.6v0.6h-0.6zM211.3,442.9h0.6v0.6h-0.6zM205.6,438.7h0.6v0.6h-0.6zM210.4,390.5h0.6v0.6h-0.6zM210.9,423.6h0.6v0.6h-0.6zM211.7,419.6h0.6v0.6h-0.6zM215.9,432.6h0.6v0.6h-0.6zM209.0,416.9h0.6v0.6h-0.6zM205.7,437.2h0.6v0.6h-0.6zM207.0,407.3h0.6v0.6h-0.6zM213.8,405.0h0.6v0.6h-0.6zM207.0,436.8h0.6v0.6h-0.6zM203.6,408.3h0.6v0.6h-0.6zM203.6,414.3h0.6v0.6h-0.6zM210.9,421.5h0.6v0.6h-0.6zM203.3,414.3h0.6v0.6h-0.6zM203.1,431.6h0.6v0.6h-0.6zM206.6,412.2h0.6v0.6h-0.6zM203.9,419.5h0.6v0.6h-0.6zM207.0,421.2h0.6v0.6h-0.6zM210.6,433.7h0.6v0.6h-0.6zM212.1,441.1h0.6v0.6h-0.6zM210.9,434.1h0.6v0.6h-0.6zM214.5,422.0h0.6v0.6h-0.6zM216.5,429.8h0.6v0.6h-0.6zM212.8,432.7h0.6v0.6h-0.6zM214.4,415.2h0.6v0.6h-0.6zM204.3,419.8h0.6v0.6h-0.6zM204.9,402.8h0.6v0.6h-0.6zM212.4,415.0h0.6v0.6h-0.6zM203.3,416.0h0.6v0.6h-0.6zM210.6,434.2h0.6v0.6h-0.6zM203.1,395.9h0.6v0.6h-0.6zM207.7,408.3h0.6v0.6h-0.6zM216.4,438.9h0.6v0.6h-0.6zM205.8,428.2h0.6v0.6h-0.6zM207.8,421.5h0.6v0.6h-0.6zM202.6,417.8h0.6v0.6h-0.6zM214.6,427.2h0.6v0.6h-0.6zM203.8,432.7h0.6v0.6h-0.6zM204.9,425.2h0.6v0.6h-0.6zM209.0,431.9h0.6v0.6h-0.6zM214.2,444.3h0.6v0.6h-0.6zM207.1,407.5h0.6v0.6h-0.6zM209.2,442.4h0.6v0.6h-0.6zM208.9,421.7h0.6v0.6h-0.6zM216.3,434.4h0.6v0.6h-0.6zM216.8,425.3h0.6v0.6h-0.6zM203.9,427.6h0.6v0.6h-0.6zM208.6,436.6h0.6v0.6h-0.6zM216.9,401.0h0.6v0.6h-0.6zM210.9,397.4h0.6v0.6h-0.6zM215.5,423.5h0.6v0.6h-0.6zM205.6,420.2h0.6v0.6h-0.6zM205.4,415.6h0.6v0.6h-0.6zM207.7,426.4h0.6v0.6h-0.6zM206.0,433.7h0.6v0.6h-0.6zM206.1,418.6h0.6v0.6h-0.6zM214.8,450.6h0.6v0.6h-0.6zM211.5,438.4h0.6v0.6h-0.6zM204.5,420.5h0.6v0.6h-0.6zM209.7,437.4h0.6v0.6h-0.6zM204.9,398.5h0.6v0.6h-0.6zM213.0,406.0h0.6v0.6h-0.6zM205.3,441.4h0.6v0.6h-0.6zM207.2,435.7h0.6v0.6h-0.6zM215.2,430.9h0.6v0.6h-0.6zM214.2,428.6h0.6v0.6h-0.6zM202.5,419.6h0.6v0.6h-0.6zM211.1,424.6h0.6v0.6h-0.6zM208.2,411.5h0.6v0.6h-0.6zM202.8,417.3h0.6v0.6h-0.6zM208.1,417.1h0.6v0.6h-0.6zM212.8,423.3h0.6v0.6h-0.6zM216.9,420.4h0.6v0.6h-0.6zM216.1,436.6h0.6v0.6h-0.6zM212.3,431.3h0.6v0.6h-0.6zM214.2,425.5h0.6v0.6h-0.6zM211.2,419.0h0.6v0.6h-0.6zM210.1,430.7h0.6v0.6h-0.6zM203.6,415.9h0.6v0.6h-0.6zM207.7,405.0h0.6v0.6h-0.6zM213.6,427.0h0.6v0.6h-0.6zM206.9,432.1h0.6v0.6h-0.6zM206.5,443.5h0.6v0.6h-0.6zM203.5,432.2h0.6v0.6h-0.6zM212.3,433.8h0.6v0.6h-0.6zM215.7,446.2h0.6v0.6h-0.6zM214.8,431.1h0.6v0.6h-0.6zM211.4,433.2h0.6v0.6h-0.6zM210.0,412.6h0.6v0.6h-0.6zM205.9,441.1h0.6v0.6h-0.6zM210.5,448.8h0.6v0.6h-0.6zM202.4,420.2h0.6v0.6h-0.6zM205.0,420.1h0.6v0.6h-0.6zM215.7,429.7h0.6v0.6h-0.6zM211.5,442.1h0.6v0.6h-0.6zM204.0,420.0h0.6v0.6h-0.6zM210.6,431.1h0.6v0.6h-0.6zM207.9,432.2h0.6v0.6h-0.6zM205.5,440.5h0.6v0.6h-0.6zM206.4,416.8h0.6v0.6h-0.6zM215.7,428.6h0.6v0.6h-0.6zM211.8,410.6h0.6v0.6h-0.6zM205.7,434.4h0.6v0.6h-0.6zM210.8,402.4h0.6v0.6h-0.6zM215.4,437.3h0.6v0.6h-0.6zM208.6,432.7h0.6v0.6h-0.6zM210.2,421.4h0.6v0.6h-0.6zM206.9,441.7h0.6v0.6h-0.6zM211.4,415.8h0.6v0.6h-0.6zM205.2,447.4h0.6v0.6h-0.6zM204.1,396.8h0.6v0.6h-0.6zM211.3,426.4h0.6v0.6h-0.6zM205.2,411.4h0.6v0.6h-0.6zM212.0,427.5h0.6v0.6h-0.6zM213.2,431.2h0.6v0.6h-0.6zM209.6,402.2h0.6v0.6h-0.6zM216.6,437.6h0.6v0.6h-0.6zM215.0,417.3h0.6v0.6h-0.6zM216.1,429.4h0.6v0.6h-0.6zM212.7,413.6h0.6v0.6h-0.6zM209.5,437.9h0.6v0.6h-0.6zM205.3,406.2h0.6v0.6h-0.6zM203.8,410.0h0.6v0.6h-0.6zM211.5,409.7h0.6v0.6h-0.6zM213.6,406.5h0.6v0.6h-0.6zM214.5,433.1h0.6v0.6h-0.6zM213.0,436.1h0.6v0.6h-0.6zM216.6,443.1h0.6v0.6h-0.6zM216.7,428.7h0.6v0.6h-0.6zM203.9,406.4h0.6v0.6h-0.6zM205.5,402.6h0.6v0.6h-0.6zM209.2,419.5h0.6v0.6h-0.6zM213.4,430.8h0.6v0.6h-0.6zM208.4,404.7h0.6v0.6h-0.6zM208.0,425.7h0.6v0.6h-0.6zM211.2,407.5h0.6v0.6h-0.6zM212.5,419.5h0.6v0.6h-0.6zM216.6,424.0h0.6v0.6h-0.6zM203.5,444.9h0.6v0.6h-0.6zM213.1,434.1h0.6v0.6h-0.6zM204.1,416.4h0.6v0.6h-0.6zM207.6,423.4h0.6v0.6h-0.6zM216.0,433.1h0.6v0.6h-0.6zM206.7,419.8h0.6v0.6h-0.6zM212.7,424.1h0.6v0.6h-0.6zM210.9,435.4h0.6v0.6h-0.6zM207.4,416.4h0.6v0.6h-0.6zM210.1,438.3h0.6v0.6h-0.6zM208.6,400.7h0.6v0.6h-0.6zM212.3,413.9h0.6v0.6h-0.6zM206.4,403.6h0.6v0.6h-0.6zM209.5,405.8h0.6v0.6h-0.6zM210.4,451.3h0.6v0.6h-0.6zM216.2,419.9h0.6v0.6h-0.6zM207.7,405.4h0.6v0.6h-0.6z" fill="#000" opacity="0.4"/>
<line x1="204.00" y1="427.30" x2="215.60" y2="427.30" stroke="#eee" stroke-width="1.5"/>
<line x1="225.10" y1="383.00" x2="225.10" y2="473.00" stroke="#7a7a7a" stroke-width="1.0"/>
<path d="M229.95,383.00 L229.94,383.91 L229.93,384.82 L229.93,385.73 L229.92,386.64 L229.91,387.55 L229.91,388.45 L229.91,389.36 L229.90,390.27 L229.90,391.18 L229.90,392.09 L229.90,393.00 L229.90,393.91 L229.90,394.82 L229.90,395.73 L229.90,396.64 L230.00,397.55 L230.21,398.45 L230.46,399.36 L230.69,400.27 L230.89,401.18 L231.10,402.09 L231.30,403.00 L231.51,403.91 L231.72,404.82 L231.93,405.73 L232.14,406.64 L232.35,407.55 L232.56,408.45 L232.70,409.36 L232.70,410.27 L232.70,411.18 L232.70,412.09 L232.70,413.00 L232.70,413.91 L232.70,414.82 L232.70,415.73 L232.70,416.64 L232.70,417.55 L232.70,418.45 L232.70,419.36 L232.70,420.27 L232.70,421.18 L232.70,422.09 L232.70,423.00 L232.70,423.91 L232.70,424.82 L232.70,425.73 L232.70,426.64 L232.70,427.55 L232.70,428.45 L232.70,429.36 L232.70,430.27 L232.70,431.18 L232.70,432.09 L232.70,433.00 L232.70,433.91 L232.70,434.82 L232.70,435.73 L232.70,436.64 L232.70,437.55 L232.70,438.45 L232.70,439.36 L232.70,440.27 L232.70,441.18 L232.70,442.09 L232.70,443.00 L232.70,443.91 L232.70,444.82 L232.70,445.73 L232.70,446.64 L232.70,447.55 L232.70,448.45 L232.70,449.36 L232.61,450.27 L232.34,451.18 L232.09,452.09 L231.85,453.00 L231.60,453.91 L231.35,454.82 L231.10,455.73 L230.86,456.64 L230.64,457.55 L230.44,458.45 L230.28,459.36 L230.15,460.27 L230.03,461.18 L229.94,462.09 L229.90,463.00 L229.90,463.91 L229.90,464.82 L229.90,465.73 L229.90,466.64 L229.90,467.55 L229.91,468.45 L229.91,469.36 L229.92,470.27 L229.93,471.18 L229.94,472.09 L229.95,473.00 L220.25,473.00 L220.26,472.09 L220.27,471.18 L220.28,470.27 L220.29,469.36 L220.29,468.45 L220.30,467.55 L220.30,466.64 L220.30,465.73 L220.30,464.82 L220.30,463.91 L220.30,463.00 L220.26,462.09 L220.17,461.18 L220.05,460.27 L219.92,459.36 L219.76,458.45 L219.56,457.55 L219.34,456.64 L219.10,455.73 L218.85,454.82 L218.60,453.91 L218.35,453.00 L218.11,452.09 L217.86,451.18 L217.59,450.27 L217.50,449.36 L217.50,448.45 L217.50,447.55 L217.50,446.64 L217.50,445.73 L217.50,444.82 L217.50,443.91 L217.50,443.00 L217.50,442.09 L217.50,441.18 L217.50,440.27 L217.50,439.36 L217.50,438.45 L217.50,437.55 L217.50,436.64 L217.50,435.73 L217.50,434.82 L217.50,433.91 L217.50,433.00 L217.50,432.09 L217.50,431.18 L217.50,430.27 L217.50,429.36 L217.50,428.45 L217.50,427.55 L217.50,426.64 L217.50,425.73 L217.50,424.82 L217.50,423.91 L217.50,423.00 L217.50,422.09 L217.50,421.18 L217.50,420.27 L217.50,419.36 L217.50,418.45 L217.50,417.55 L217.50,416.64 L217.50,415.73 L217.50,414.82 L217.50,413.91 L217.50,413.00 L217.50,412.09 L217.50,411.18 L217.50,410.27 L217.50,409.36 L217.64,408.45 L217.85,407.55 L218.06,406.64 L218.27,405.73 L218.48,404.82 L218.69,403.91 L218.90,403.00 L219.10,402.09 L219.31,401.18 L219.51,400.27 L219.74,399.36 L219.99,398.45 L220.20,397.55 L220.30,396.64 L220.30,395.73 L220.30,394.82 L220.30,393.91 L220.30,393.00 L220.30,392.09 L220.30,391.18 L220.30,390.27 L220.29,389.36 L220.29,388.45 L220.29,387.55 L220.28,386.64 L220.27,385.73 L220.27,384.82 L220.26,383.91 L220.25,383.00Z" fill="url(#cg1)"/>
<path d="M225.71,398.45 L225.96,399.36 L226.19,400.27 L226.39,401.18 L226.60,402.09 L226.80,403.00 L227.01,403.91 L227.22,404.82 L227.43,405.73 L227.64,406.64 L227.85,407.55 L228.06,408.45 L228.27,409.36 L228.47,410.27 L228.68,411.18 L228.89,412.09 L229.11,413.00 L229.34,413.91 L229.57,414.82 L229.79,415.73 L230.01,416.64 L230.22,417.55 L230.42,418.45 L230.60,419.36 L230.77,420.27 L230.91,421.18 L231.03,422.09 L231.13,423.00 L231.22,423.91 L231.32,424.82 L231.41,425.73 L231.49,426.64 L231.56,427.55 L231.62,428.45 L231.67,429.36 L231.69,430.27 L231.70,431.18 L231.68,432.09 L231.63,433.00 L231.56,433.91 L231.47,434.82 L231.36,435.73 L231.23,436.64 L231.09,437.55 L230.94,438.45 L230.78,439.36 L230.62,440.27 L230.46,441.18 L230.29,442.09 L230.13,443.00 L229.93,443.91 L229.72,444.82 L229.48,445.73 L229.22,446.64 L228.95,447.55 L228.67,448.45 L228.39,449.36 L228.11,450.27 L227.84,451.18 L227.59,452.09 L227.35,453.00 L227.10,453.91 L226.85,454.82 L226.60,455.73 L226.36,456.64 L226.14,457.55 L225.94,458.45 L225.78,459.36 L225.65,460.27 L224.55,460.27 L224.42,459.36 L224.26,458.45 L224.06,457.55 L223.84,456.64 L223.60,455.73 L223.35,454.82 L223.10,453.91 L222.85,453.00 L222.61,452.09 L222.36,451.18 L222.09,450.27 L221.81,449.36 L221.53,448.45 L221.25,447.55 L220.98,446.64 L220.72,445.73 L220.48,444.82 L220.27,443.91 L220.07,443.00 L219.91,442.09 L219.74,441.18 L219.58,440.27 L219.42,439.36 L219.26,438.45 L219.11,437.55 L218.97,436.64 L218.84,435.73 L218.73,434.82 L218.64,433.91 L218.57,433.00 L218.52,432.09 L218.50,431.18 L218.51,430.27 L218.53,429.36 L218.58,428.45 L218.64,427.55 L218.71,426.64 L218.79,425.73 L218.88,424.82 L218.98,423.91 L219.07,423.00 L219.17,422.09 L219.29,421.18 L219.43,420.27 L219.60,419.36 L219.78,418.45 L219.98,417.55 L220.19,416.64 L220.41,415.73 L220.63,414.82 L220.86,413.91 L221.09,413.00 L221.31,412.09 L221.52,411.18 L221.73,410.27 L221.93,409.36 L222.14,408.45 L222.35,407.55 L222.56,406.64 L222.77,405.73 L222.98,404.82 L223.19,403.91 L223.40,403.00 L223.60,402.09 L223.81,401.18 L224.01,400.27 L224.24,399.36 L224.49,398.45Z" fill="#bc8a10" stroke="#3a3a3a" stroke-width="0.45"/>
<path d="M225.71,398.45 L225.96,399.36 L226.19,400.27 L226.39,401.18 L226.60,402.09 L226.80,403.00 L227.01,403.91 L227.22,404.82 L227.43,405.73 L227.64,406.64 L227.85,407.55 L228.06,408.45 L228.27,409.36 L228.47,410.27 L228.68,411.18 L228.89,412.09 L229.11,413.00 L229.34,413.91 L229.57,414.82 L229.79,415.73 L230.01,416.64 L230.22,417.55 L230.42,418.45 L230.60,419.36 L230.77,420.27 L230.91,421.18 L231.03,422.09 L231.13,423.00 L231.22,423.91 L231.32,424.82 L231.41,425.73 L231.49,426.64 L231.56,427.55 L231.62,428.45 L231.67,429.36 L231.69,430.27 L231.70,431.18 L231.68,432.09 L231.63,433.00 L231.56,433.91 L231.47,434.82 L231.36,435.73 L231.23,436.64 L231.09,437.55 L230.94,438.45 L230.78,439.36 L230.62,440.27 L230.46,441.18 L230.29,442.09 L230.13,443.00 L229.93,443.91 L229.72,444.82 L229.48,445.73 L229.22,446.64 L228.95,447.55 L228.67,448.45 L228.39,449.36 L228.11,450.27 L227.84,451.18 L227.59,452.09 L227.35,453.00 L227.10,453.91 L226.85,454.82 L226.60,455.73 L226.36,456.64 L226.14,457.55 L225.94,458.45 L225.78,459.36 L225.65,460.27 L224.55,460.27 L224.42,459.36 L224.26,458.45 L224.06,457.55 L223.84,456.64 L223.60,455.73 L223.35,454.82 L223.10,453.91 L222.85,453.00 L222.61,452.09 L222.36,451.18 L222.09,450.27 L221.81,449.36 L221.53,448.45 L221.25,447.55 L220.98,446.64 L220.72,445.73 L220.48,444.82 L220.27,443.91 L220.07,443.00 L219.91,442.09 L219.74,441.18 L219.58,440.27 L219.42,439.36 L219.26,438.45 L219.11,437.55 L218.97,436.64 L218.84,435.73 L218.73,434.82 L218.64,433.91 L218.57,433.00 L218.52,432.09 L218.50,431.18 L218.51,430.27 L218.53,429.36 L218.58,428.45 L218.64,427.55 L218.71,426.64 L218.79,425.73 L218.88,424.82 L218.98,423.91 L219.07,423.00 L219.17,422.09 L219.29,421.18 L219.43,420.27 L219.60,419.36 L219.78,418.45 L219.98,417.55 L220.19,416.64 L220.41,415.73 L220.63,414.82 L220.86,413.91 L221.09,413.00 L221.31,412.09 L221.52,411.18 L221.73,410.27 L221.93,409.36 L222.14,408.45 L222.35,407.55 L222.56,406.64 L222.77,405.73 L222.98,404.82 L223.19,403.91 L223.40,403.00 L223.60,402.09 L223.81,401.18 L224.01,400.27 L224.24,399.36 L224.49,398.45Z" fill="url(#vg1)"/>
<path d="M217.8,442.7h0.6v0.6h-0.6zM223.0,440.4h0.6v0.6h-0.6zM221.4,395.9h0.6v0.6h-0.6zM223.4,427.4h0.6v0.6h-0.6zM218.5,429.8h0.6v0.6h-0.6zM232.1,416.7h0.6v0.6h-0.6zM224.7,426.8h0.6v0.6h-0.6zM221.8,407.8h0.6v0.6h-0.6zM227.9,453.5h0.6v0.6h-0.6zM218.5,429.4h0.6v0.6h-0.6zM229.2,424.7h0.6v0.6h-0.6zM226.5,426.4h0.6v0.6h-0.6zM227.2,448.3h0.6v0.6h-0.6zM218.2,434.6h0.6v0.6h-0.6zM229.1,399.4h0.6v0.6h-0.6zM230.6,425.6h0.6v0.6h-0.6zM231.2,443.5h0.6v0.6h-0.6zM232.5,424.1h0.6v0.6h-0.6zM230.9,439.9h0.6v0.6h-0.6zM229.3,412.6h0.6v0.6h-0.6zM232.1,425.9h0.6v0.6h-0.6zM220.9,468.3h0.6v0.6h-0.6zM221.7,425.9h0.6v0.6h-0.6zM221.9,427.9h0.6v0.6h-0.6zM219.5,435.9h0.6v0.6h-0.6zM224.5,413.9h0.6v0.6h-0.6zM223.3,406.7h0.6v0.6h-0.6zM230.8,448.0h0.6v0.6h-0.6zM218.0,415.5h0.6v0.6h-0.6zM231.9,443.6h0.6v0.6h-0.6zM219.7,433.1h0.6v0.6h-0.6zM231.3,417.6h0.6v0.6h-0.6zM218.2,451.5h0.6v0.6h-0.6zM224.0,414.8h0.6v0.6h-0.6zM228.9,419.1h0.6v0.6h-0.6zM229.2,423.8h0.6v0.6h-0.6zM225.4,412.8h0.6v0.6h-0.6zM228.1,457.0h0.6v0.6h-0.6zM219.3,408.2h0.6v0.6h-0.6zM223.2,434.9h0.6v0.6h-0.6zM224.8,423.7h0.6v0.6h-0.6zM232.0,432.4h0.6v0.6h-0.6zM226.1,417.8h0.6v0.6h-0.6zM225.8,418.9h0.6v0.6h-0.6zM219.7,438.8h0.6v0.6h-0.6zM228.1,428.3h0.6v0.6h-0.6zM229.1,388.7h0.6v0.6h-0.6zM225.2,425.8h0.6v0.6h-0.6zM229.4,433.5h0.6v0.6h-0.6zM225.1,404.7h0.6v0.6h-0.6zM223.4,402.3h0.6v0.6h-0.6zM218.0,422.7h0.6v0.6h-0.6zM224.4,420.5h0.6v0.6h-0.6zM231.4,435.4h0.6v0.6h-0.6zM225.5,423.7h0.6v0.6h-0.6zM231.6,437.9h0.6v0.6h-0.6zM232.3,452.8h0.6v0.6h-0.6zM220.2,420.7h0.6v0.6h-0.6zM218.8,450.9h0.6v0.6h-0.6zM228.6,427.0h0.6v0.6h-0.6zM223.5,430.2h0.6v0.6h-0.6zM222.1,450.2h0.6v0.6h-0.6zM230.0,431.2h0.6v0.6h-0.6zM222.9,411.9h0.6v0.6h-0.6zM226.1,428.9h0.6v0.6h-0.6zM224.4,416.1h0.6v0.6h-0.6zM219.0,405.2h0.6v0.6h-0.6zM219.8,422.5h0.6v0.6h-0.6zM221.6,455.4h0.6v0.6h-0.6zM229.3,419.5h0.6v0.6h-0.6zM221.6,439.2h0.6v0.6h-0.6zM227.0,443.7h0.6v0.6h-0.6zM227.0,424.5h0.6v0.6h-0.6zM221.6,418.1h0.6v0.6h-0.6zM224.2,446.5h0.6v0.6h-0.6zM220.3,448.0h0.6v0.6h-0.6zM218.5,411.8h0.6v0.6h-0.6zM226.0,439.2h0.6v0.6h-0.6zM218.3,390.0h0.6v0.6h-0.6zM225.0,443.4h0.6v0.6h-0.6zM218.3,446.2h0.6v0.6h-0.6zM219.4,432.7h0.6v0.6h-0.6zM226.7,438.3h0.6v0.6h-0.6zM221.0,433.6h0.6v0.6h-0.6zM219.3,452.7h0.6v0.6h-0.6zM227.8,405.6h0.6v0.6h-0.6zM218.7,408.4h0.6v0.6h-0.6zM227.3,427.5h0.6v0.6h-0.6zM228.4,447.6h0.6v0.6h-0.6zM227.2,406.2h0.6v0.6h-0.6zM219.5,444.5h0.6v0.6h-0.6zM221.5,439.9h0.6v0.6h-0.6zM217.7,420.6h0.6v0.6h-0.6zM225.3,440.0h0.6v0.6h-0.6zM224.6,448.3h0.6v0.6h-0.6zM220.9,413.0h0.6v0.6h-0.6zM231.7,418.9h0.6v0.6h-0.6zM219.0,416.0h0.6v0.6h-0.6zM218.9,423.0h0.6v0.6h-0.6zM226.9,426.0h0.6v0.6h-0.6zM220.3,435.2h0.6v0.6h-0.6zM225.0,411.9h0.6v0.6h-0.6zM224.3,436.8h0.6v0.6h-0.6zM231.2,432.0h0.6v0.6h-0.6zM221.7,412.4h0.6v0.6h-0.6zM225.6,428.8h0.6v0.6h-0.6zM225.9,448.2h0.6v0.6h-0.6zM223.9,435.7h0.6v0.6h-0.6zM230.1,441.3h0.6v0.6h-0.6zM219.3,420.3h0.6v0.6h-0.6zM223.0,418.7h0.6v0.6h-0.6zM221.6,447.4h0.6v0.6h-0.6zM227.2,434.3h0.6v0.6h-0.6zM219.4,453.7h0.6v0.6h-0.6zM222.7,440.6h0.6v0.6h-0.6zM227.1,409.3h0.6v0.6h-0.6zM226.3,444.5h0.6v0.6h-0.6zM232.1,404.0h0.6v0.6h-0.6zM227.1,424.3h0.6v0.6h-0.6zM221.6,438.4h0.6v0.6h-0.6zM222.6,425.3h0.6v0.6h-0.6zM218.7,408.7h0.6v0.6h-0.6zM223.8,438.1h0.6v0.6h-0.6zM218.6,446.1h0.6v0.6h-0.6zM220.4,420.7h0.6v0.6h-0.6zM229.4,452.1h0.6v0.6h-0.6zM225.2,447.9h0.6v0.6h-0.6zM223.9,409.4h0.6v0.6h-0.6zM218.1,417.1h0.6v0.6h-0.6zM222.0,431.7h0.6v0.6h-0.6zM225.3,409.7h0.6v0.6h-0.6zM231.7,451.0h0.6v0.6h-0.6zM219.2,427.7h0.6v0.6h-0.6zM219.4,440.6h0.6v0.6h-0.6zM218.9,430.6h0.6v0.6h-0.6zM225.7,462.2h0.6v0.6h-0.6zM221.7,426.6h0.6v0.6h-0.6zM232.1,431.1h0.6v0.6h-0.6zM220.8,426.2h0.6v0.6h-0.6zM231.3,429.7h0.6v0.6h-0.6zM227.1,424.2h0.6v0.6h-0.6zM222.5,449.7h0.6v0.6h-0.6zM225.5,442.7h0.6v0.6h-0.6zM218.5,412.0h0.6v0.6h-0.6zM224.6,451.6h0.6v0.6h-0.6zM231.3,426.8h0.6v0.6h-0.6zM225.1,432.1h0.6v0.6h-0.6zM228.7,419.9h0.6v0.6h-0.6zM224.7,418.6h0.6v0.6h-0.6zM226.7,440.1h0.6v0.6h-0.6zM220.7,411.6h0.6v0.6h-0.6zM228.5,437.1h0.6v0.6h-0.6zM232.5,409.2h0.6v0.6h-0.6zM220.2,411.6h0.6v0.6h-0.6zM224.3,408.1h0.6v0.6h-0.6zM230.4,433.9h0.6v0.6h-0.6zM228.0,413.5h0.6v0.6h-0.6zM226.3,409.4h0.6v0.6h-0.6zM223.0,418.4h0.6v0.6h-0.6zM228.4,404.3h0.6v0.6h-0.6zM229.0,410.8h0.6v0.6h-0.6zM226.5,422.3h0.6v0.6h-0.6zM224.9,434.7h0.6v0.6h-0.6zM231.3,446.3h0.6v0.6h-0.6zM222.6,419.8h0.6v0.6h-0.6zM219.7,446.5h0.6v0.6h-0.6zM223.8,425.8h0.6v0.6h-0.6zM219.6,457.3h0.6v0.6h-0.6zM228.9,435.4h0.6v0.6h-0.6zM217.7,438.6h0.6v0.6h-0.6zM222.3,452.1h0.6v0.6h-0.6zM227.5,445.1h0.6v0.6h-0.6zM230.1,425.9h0.6v0.6h-0.6zM222.7,436.3h0.6v0.6h-0.6zM225.2,438.8h0.6v0.6h-0.6zM226.8,437.9h0.6v0.6h-0.6zM220.1,441.9h0.6v0.6h-0.6zM217.7,428.9h0.6v0.6h-0.6zM229.1,441.7h0.6v0.6h-0.6zM218.3,444.1h0.6v0.6h-0.6zM224.8,430.5h0.6v0.6h-0.6zM220.7,410.6h0.6v0.6h-0.6zM230.3,456.8h0.6v0.6h-0.6zM230.0,417.7h0.6v0.6h-0.6zM223.4,435.2h0.6v0.6h-0.6zM221.1,435.0h0.6v0.6h-0.6zM217.8,419.4h0.6v0.6h-0.6zM226.3,435.5h0.6v0.6h-0.6zM225.2,439.3h0.6v0.6h-0.6zM222.2,426.4h0.6v0.6h-0.6zM223.2,439.0h0.6v0.6h-0.6zM228.9,433.0h0.6v0.6h-0.6zM227.9,426.8h0.6v0.6h-0.6zM221.6,405.4h0.6v0.6h-0.6zM219.9,444.3h0.6v0.6h-0.6zM217.9,404.8h0.6v0.6h-0.6zM219.3,440.4h0.6v0.6h-0.6zM224.2,427.4h0.6v0.6h-0.6zM224.8,442.3h0.6v0.6h-0.6zM218.1,430.0h0.6v0.6h-0.6zM229.1,441.9h0.6v0.6h-0.6zM230.1,434.1h0.6v0.6h-0.6zM228.3,433.7h0.6v0.6h-0.6zM226.8,444.9h0.6v0.6h-0.6zM230.8,398.3h0.6v0.6h-0.6zM220.7,464.3h0.6v0.6h-0.6zM222.7,405.9h0.6v0.6h-0.6zM223.2,409.0h0.6v0.6h-0.6zM221.0,408.1h0.6v0.6h-0.6zM224.0,384.6h0.6v0.6h-0.6zM228.5,420.6h0.6v0.6h-0.6zM220.2,424.5h0.6v0.6h-0.6zM230.9,453.3h0.6v0.6h-0.6zM220.9,436.9h0.6v0.6h-0.6zM224.4,425.1h0.6v0.6h-0.6zM218.1,425.4h0.6v0.6h-0.6zM229.1,427.3h0.6v0.6h-0.6zM230.4,437.1h0.6v0.6h-0.6zM229.0,436.6h0.6v0.6h-0.6zM231.3,446.1h0.6v0.6h-0.6zM223.9,441.8h0.6v0.6h-0.6zM227.4,435.6h0.6v0.6h-0.6zM228.3,446.9h0.6v0.6h-0.6zM220.5,426.8h0.6v0.6h-0.6zM221.4,421.9h0.6v0.6h-0.6zM229.1,436.6h0.6v0.6h-0.6zM225.6,415.2h0.6v0.6h-0.6zM223.1,444.3h0.6v0.6h-0.6zM226.7,408.6h0.6v0.6h-0.6zM219.8,423.4h0.6v0.6h-0.6zM217.8,420.1h0.6v0.6h-0.6zM224.0,412.6h0.6v0.6h-0.6zM217.8,409.4h0.6v0.6h-0.6zM231.9,431.1h0.6v0.6h-0.6zM222.5,444.0h0.6v0.6h-0.6zM218.9,450.2h0.6v0.6h-0.6zM217.8,412.7h0.6v0.6h-0.6zM226.6,405.0h0.6v0.6h-0.6zM224.8,440.0h0.6v0.6h-0.6zM224.4,442.3h0.6v0.6h-0.6zM226.7,449.7h0.6v0.6h-0.6zM220.2,430.6h0.6v0.6h-0.6zM224.2,426.1h0.6v0.6h-0.6zM221.1,443.3h0.6v0.6h-0.6zM229.8,420.4h0.6v0.6h-0.6zM225.6,406.4h0.6v0.6h-0.6zM227.5,416.7h0.6v0.6h-0.6zM219.1,432.9h0.6v0.6h-0.6zM223.7,438.7h0.6v0.6h-0.6zM230.4,421.6h0.6v0.6h-0.6zM222.3,441.0h0.6v0.6h-0.6zM219.5,436.4h0.6v0.6h-0.6zM218.9,429.9h0.6v0.6h-0.6zM231.3,434.8h0.6v0.6h-0.6zM218.3,434.6h0.6v0.6h-0.6zM224.6,429.6h0.6v0.6h-0.6zM219.9,426.8h0.6v0.6h-0.6zM224.4,419.6h0.6v0.6h-0.6zM227.7,406.4h0.6v0.6h-0.6zM222.0,417.9h0.6v0.6h-0.6zM222.2,408.2h0.6v0.6h-0.6zM222.0,450.8h0.6v0.6h-0.6zM222.8,408.7h0.6v0.6h-0.6zM219.0,452.3h0.6v0.6h-0.6zM220.8,422.5h0.6v0.6h-0.6zM224.5,436.5h0.6v0.6h-0.6zM230.5,408.9h0.6v0.6h-0.6zM227.9,421.9h0.6v0.6h-0.6zM230.6,427.2h0.6v0.6h-0.6zM221.1,405.0h0.6v0.6h-0.6zM221.6,420.0h0.6v0.6h-0.6zM225.1,443.3h0.6v0.6h-0.6zM225.2,422.7h0.6v0.6h-0.6zM226.1,444.6h0.6v0.6h-0.6zM227.4,427.1h0.6v0.6h-0.6zM223.7,433.7h0.6v0.6h-0.6zM219.6,426.1h0.6v0.6h-0.6zM230.7,426.6h0.6v0.6h-0.6zM223.1,420.9h0.6v0.6h-0.6zM226.4,433.3h0.6v0.6h-0.6zM224.3,414.3h0.6v0.6h-0.6zM218.3,438.9h0.6v0.6h-0.6zM228.9,409.7h0.6v0.6h-0.6zM218.7,448.6h0.6v0.6h-0.6zM227.0,407.4h0.6v0.6h-0.6zM227.4,419.9h0.6v0.6h-0.6zM224.5,401.6h0.6v0.6h-0.6zM222.6,413.4h0.6v0.6h-0.6zM225.2,437.1h0.6v0.6h-0.6zM230.2,445.1h0.6v0.6h-0.6zM230.2,433.9h0.6v0.6h-0.6zM224.7,414.4h0.6v0.6h-0.6zM226.9,421.5h0.6v0.6h-0.6zM230.8,409.9h0.6v0.6h-0.6zM229.3,423.7h0.6v0.6h-0.6zM231.6,452.0h0.6v0.6h-0.6zM230.4,424.6h0.6v0.6h-0.6zM219.6,470.7h0.6v0.6h-0.6zM228.5,439.5h0.6v0.6h-0.6zM221.8,427.4h0.6v0.6h-0.6zM223.8,414.1h0.6v0.6h-0.6zM223.6,450.9h0.6v0.6h-0.6zM226.9,418.5h0.6v0.6h-0.6zM226.8,426.6h0.6v0.6h-0.6zM221.9,427.3h0.6v0.6h-0.6zM229.8,401.8h0.6v0.6h-0.6zM221.3,435.6h0.6v0.6h-0.6zM226.3,429.1h0.6v0.6h-0.6zM231.0,429.2h0.6v0.6h-0.6zM222.2,441.0h0.6v0.6h-0.6zM226.8,422.4h0.6v0.6h-0.6zM231.5,413.5h0.6v0.6h-0.6zM225.1,403.3h0.6v0.6h-0.6zM225.5,419.4h0.6v0.6h-0.6zM221.0,403.4h0.6v0.6h-0.6zM229.4,463.8h0.6v0.6h-0.6zM224.4,416.8h0.6v0.6h-0.6zM219.5,401.3h0.6v0.6h-0.6zM232.3,415.2h0.6v0.6h-0.6zM221.4,421.2h0.6v0.6h-0.6zM219.3,405.8h0.6v0.6h-0.6zM228.7,469.3h0.6v0.6h-0.6zM230.1,449.8h0.6v0.6h-0.6zM221.5,441.2h0.6v0.6h-0.6zM221.7,413.9h0.6v0.6h-0.6zM220.3,405.8h0.6v0.6h-0.6zM225.0,438.2h0.6v0.6h-0.6zM222.2,390.7h0.6v0.6h-0.6zM230.3,444.8h0.6v0.6h-0.6zM228.5,438.7h0.6v0.6h-0.6zM225.9,449.1h0.6v0.6h-0.6zM226.2,424.3h0.6v0.6h-0.6zM218.2,419.8h0.6v0.6h-0.6zM224.5,418.8h0.6v0.6h-0.6zM218.9,410.6h0.6v0.6h-0.6zM223.1,418.1h0.6v0.6h-0.6zM224.9,453.8h0.6v0.6h-0.6zM228.7,444.1h0.6v0.6h-0.6zM222.5,432.8h0.6v0.6h-0.6zM222.4,424.7h0.6v0.6h-0.6zM230.4,434.5h0.6v0.6h-0.6zM222.1,441.6h0.6v0.6h-0.6zM217.8,412.6h0.6v0.6h-0.6zM221.1,432.5h0.6v0.6h-0.6zM222.2,386.5h0.6v0.6h-0.6zM220.7,417.2h0.6v0.6h-0.6zM226.3,435.8h0.6v0.6h-0.6zM228.5,419.8h0.6v0.6h-0.6zM231.3,416.0h0.6v0.6h-0.6zM226.5,410.5h0.6v0.6h-0.6zM228.5,437.6h0.6v0.6h-0.6zM230.6,428.6h0.6v0.6h-0.6zM227.9,434.3h0.6v0.6h-0.6zM220.5,407.2h0.6v0.6h-0.6zM225.8,427.7h0.6v0.6h-0.6zM228.7,408.6h0.6v0.6h-0.6zM224.7,422.7h0.6v0.6h-0.6zM230.1,430.0h0.6v0.6h-0.6zM226.0,420.7h0.6v0.6h-0.6zM227.4,433.3h0.6v0.6h-0.6zM221.8,421.2h0.6v0.6h-0.6zM226.6,427.9h0.6v0.6h-0.6zM219.7,435.0h0.6v0.6h-0.6zM226.0,426.9h0.6v0.6h-0.6zM219.2,415.4h0.6v0.6h-0.6zM218.0,450.6h0.6v0.6h-0.6zM222.1,429.0h0.6v0.6h-0.6zM221.7,401.0h0.6v0.6h-0.6zM223.6,413.4h0.6v0.6h-0.6zM218.9,448.9h0.6v0.6h-0.6zM228.0,422.9h0.6v0.6h-0.6zM218.0,434.1h0.6v0.6h-0.6zM221.9,417.2h0.6v0.6h-0.6zM224.2,447.8h0.6v0.6h-0.6zM224.8,418.6h0.6v0.6h-0.6zM219.9,428.5h0.6v0.6h-0.6zM228.4,435.9h0.6v0.6h-0.6zM225.7,428.2h0.6v0.6h-0.6zM231.9,440.6h0.6v0.6h-0.6zM218.4,433.6h0.6v0.6h-0.6zM227.5,429.3h0.6v0.6h-0.6zM227.8,422.0h0.6v0.6h-0.6zM226.8,423.6h0.6v0.6h-0.6zM227.6,433.7h0.6v0.6h-0.6zM228.2,450.3h0.6v0.6h-0.6zM228.1,437.8h0.6v0.6h-0.6zM226.8,417.3h0.6v0.6h-0.6zM218.6,434.0h0.6v0.6h-0.6zM221.1,439.9h0.6v0.6h-0.6zM225.5,428.8h0.6v0.6h-0.6zM229.0,438.3h0.6v0.6h-0.6zM231.6,427.8h0.6v0.6h-0.6zM226.1,426.8h0.6v0.6h-0.6zM222.5,466.0h0.6v0.6h-0.6zM231.9,438.0h0.6v0.6h-0.6zM229.2,407.7h0.6v0.6h-0.6zM225.7,435.3h0.6v0.6h-0.6zM230.4,441.6h0.6v0.6h-0.6zM224.9,412.5h0.6v0.6h-0.6zM228.0,433.8h0.6v0.6h-0.6zM229.6,454.0h0.6v0.6h-0.6zM218.7,443.6h0.6v0.6h-0.6zM231.2,426.1h0.6v0.6h-0.6zM228.9,452.4h0.6v0.6h-0.6zM229.1,422.1h0.6v0.6h-0.6zM227.6,430.4h0.6v0.6h-0.6zM230.5,434.7h0.6v0.6h-0.6zM232.1,438.0h0.6v0.6h-0.6zM225.0,428.8h0.6v0.6h-0.6zM226.0,435.5h0.6v0.6h-0.6zM231.9,403.9h0.6v0.6h-0.6zM225.1,421.5h0.6v0.6h-0.6zM220.5,402.9h0.6v0.6h-0.6zM221.8,450.6h0.6v0.6h-0.6zM229.7,420.6h0.6v0.6h-0.6zM227.6,417.8h0.6v0.6h-0.6zM231.0,431.8h0.6v0.6h-0.6zM222.6,428.2h0.6v0.6h-0.6zM223.1,418.7h0.6v0.6h-0.6zM219.5,383.0h0.6v0.6h-0.6z" fill="#000" opacity="0.4"/>
<line x1="219.30" y1="430.40" x2="230.90" y2="430.40" stroke="#eee" stroke-width="1.5"/>
<line x1="240.70" y1="401.20" x2="240.70" y2="462.70" stroke="#7a7a7a" stroke-width="1.0"/>
<path d="M245.55,401.20 L245.53,401.82 L245.52,402.44 L245.51,403.06 L245.51,403.68 L245.50,404.31 L245.50,404.93 L245.50,405.55 L245.51,406.17 L245.60,406.79 L245.79,407.41 L246.03,408.03 L246.27,408.65 L246.47,409.28 L246.66,409.90 L246.84,410.52 L247.03,411.14 L247.21,411.76 L247.40,412.38 L247.58,413.00 L247.77,413.62 L247.95,414.25 L248.13,414.87 L248.30,415.49 L248.30,416.11 L248.30,416.73 L248.30,417.35 L248.30,417.97 L248.30,418.59 L248.30,419.22 L248.30,419.84 L248.30,420.46 L248.30,421.08 L248.30,421.70 L248.30,422.32 L248.30,422.94 L248.30,423.56 L248.30,424.18 L248.30,424.81 L248.30,425.43 L248.30,426.05 L248.30,426.67 L248.30,427.29 L248.30,427.91 L248.30,428.53 L248.30,429.15 L248.30,429.78 L248.30,430.40 L248.30,431.02 L248.30,431.64 L248.30,432.26 L248.30,432.88 L248.30,433.50 L248.30,434.12 L248.30,434.75 L248.30,435.37 L248.30,435.99 L248.30,436.61 L248.30,437.23 L248.30,437.85 L248.30,438.47 L248.30,439.09 L248.30,439.72 L248.30,440.34 L248.30,440.96 L248.30,441.58 L248.30,442.20 L248.30,442.82 L248.30,443.44 L248.23,444.06 L248.02,444.68 L247.81,445.31 L247.62,445.93 L247.44,446.55 L247.25,447.17 L247.06,447.79 L246.88,448.41 L246.70,449.03 L246.52,449.65 L246.36,450.28 L246.20,450.90 L246.06,451.52 L245.93,452.14 L245.81,452.76 L245.69,453.38 L245.58,454.00 L245.51,454.62 L245.50,455.25 L245.50,455.87 L245.50,456.49 L245.50,457.11 L245.50,457.73 L245.50,458.35 L245.51,458.97 L245.51,459.59 L245.52,460.22 L245.52,460.84 L245.53,461.46 L245.54,462.08 L245.55,462.70 L235.85,462.70 L235.86,462.08 L235.87,461.46 L235.88,460.84 L235.88,460.22 L235.89,459.59 L235.89,458.97 L235.90,458.35 L235.90,457.73 L235.90,457.11 L235.90,456.49 L235.90,455.87 L235.90,455.25 L235.89,454.62 L235.82,454.00 L235.71,453.38 L235.59,452.76 L235.47,452.14 L235.34,451.52 L235.20,450.90 L235.04,450.28 L234.88,449.65 L234.70,449.03 L234.52,448.41 L234.34,447.79 L234.15,447.17 L233.96,446.55 L233.78,445.93 L233.59,445.31 L233.38,444.68 L233.17,444.06 L233.10,443.44 L233.10,442.82 L233.10,442.20 L233.10,441.58 L233.10,440.96 L233.10,440.34 L233.10,439.72 L233.10,439.09 L233.10,438.47 L233.10,437.85 L233.10,437.23 L233.10,436.61 L233.10,435.99 L233.10,435.37 L233.10,434.75 L233.10,434.12 L233.10,433.50 L233.10,432.88 L233.10,432.26 L233.10,431.64 L233.10,431.02 L233.10,430.40 L233.10,429.78 L233.10,429.15 L233.10,428.53 L233.10,427.91 L233.10,427.29 L233.10,426.67 L233.10,426.05 L233.10,425.43 L233.10,424.81 L233.10,424.18 L233.10,423.56 L233.10,422.94 L233.10,422.32 L233.10,421.70 L233.10,421.08 L233.10,420.46 L233.10,419.84 L233.10,419.22 L233.10,418.59 L233.10,417.97 L233.10,417.35 L233.10,416.73 L233.10,416.11 L233.10,415.49 L233.27,414.87 L233.45,414.25 L233.63,413.62 L233.82,413.00 L234.00,412.38 L234.19,411.76 L234.37,411.14 L234.56,410.52 L234.74,409.90 L234.93,409.28 L235.13,408.65 L235.37,408.03 L235.61,407.41 L235.80,406.79 L235.89,406.17 L235.90,405.55 L235.90,404.93 L235.90,404.31 L235.89,403.68 L235.89,403.06 L235.88,402.44 L235.87,401.82 L235.85,401.20Z" fill="url(#cg2)"/>
<path d="M241.29,407.41 L241.53,408.03 L241.77,408.65 L241.97,409.28 L242.16,409.90 L242.34,410.52 L242.53,411.14 L242.71,411.76 L242.90,412.38 L243.08,413.00 L243.27,413.62 L243.45,414.25 L243.63,414.87 L243.81,415.49 L243.99,416.11 L244.16,416.73 L244.33,417.35 L244.49,417.97 L244.65,418.59 L244.80,419.22 L244.97,419.84 L245.14,420.46 L245.31,421.08 L245.49,421.70 L245.67,422.32 L245.85,422.94 L246.02,423.56 L246.19,424.18 L246.35,424.81 L246.50,425.43 L246.64,426.05 L246.76,426.67 L246.87,427.29 L246.96,427.91 L247.03,428.53 L247.08,429.15 L247.10,429.78 L247.09,430.40 L247.06,431.02 L247.01,431.64 L246.93,432.26 L246.84,432.88 L246.73,433.50 L246.60,434.12 L246.47,434.75 L246.32,435.37 L246.18,435.99 L246.03,436.61 L245.88,437.23 L245.73,437.85 L245.59,438.47 L245.42,439.09 L245.24,439.72 L245.04,440.34 L244.83,440.96 L244.62,441.58 L244.39,442.20 L244.17,442.82 L243.95,443.44 L243.73,444.06 L243.52,444.68 L243.31,445.31 L243.12,445.93 L242.94,446.55 L242.75,447.17 L242.56,447.79 L242.38,448.41 L242.20,449.03 L242.02,449.65 L241.86,450.28 L241.70,450.90 L241.56,451.52 L241.43,452.14 L241.31,452.76 L240.09,452.76 L239.97,452.14 L239.84,451.52 L239.70,450.90 L239.54,450.28 L239.38,449.65 L239.20,449.03 L239.02,448.41 L238.84,447.79 L238.65,447.17 L238.46,446.55 L238.28,445.93 L238.09,445.31 L237.88,444.68 L237.67,444.06 L237.45,443.44 L237.23,442.82 L237.01,442.20 L236.78,441.58 L236.57,440.96 L236.36,440.34 L236.16,439.72 L235.98,439.09 L235.81,438.47 L235.67,437.85 L235.52,437.23 L235.37,436.61 L235.22,435.99 L235.08,435.37 L234.93,434.75 L234.80,434.12 L234.67,433.50 L234.56,432.88 L234.47,432.26 L234.39,431.64 L234.34,431.02 L234.31,430.40 L234.30,429.78 L234.32,429.15 L234.37,428.53 L234.44,427.91 L234.53,427.29 L234.64,426.67 L234.76,426.05 L234.90,425.43 L235.05,424.81 L235.21,424.18 L235.38,423.56 L235.55,422.94 L235.73,422.32 L235.91,421.70 L236.09,421.08 L236.26,420.46 L236.43,419.84 L236.60,419.22 L236.75,418.59 L236.91,417.97 L237.07,417.35 L237.24,416.73 L237.41,416.11 L237.59,415.49 L237.77,414.87 L237.95,414.25 L238.13,413.62 L238.32,413.00 L238.50,412.38 L238.69,411.76 L238.87,411.14 L239.06,410.52 L239.24,409.90 L239.43,409.28 L239.63,408.65 L239.87,408.03 L240.11,407.41Z" fill="#7ab62a" stroke="#3a3a3a" stroke-width="0.45"/>
<path d="M241.29,407.41 L241.53,408.03 L241.77,408.65 L241.97,409.28 L242.16,409.90 L242.34,410.52 L242.53,411.14 L242.71,411.76 L242.90,412.38 L243.08,413.00 L243.27,413.62 L243.45,414.25 L243.63,414.87 L243.81,415.49 L243.99,416.11 L244.16,416.73 L244.33,417.35 L244.49,417.97 L244.65,418.59 L244.80,419.22 L244.97,419.84 L245.14,420.46 L245.31,421.08 L245.49,421.70 L245.67,422.32 L245.85,422.94 L246.02,423.56 L246.19,424.18 L246.35,424.81 L246.50,425.43 L246.64,426.05 L246.76,426.67 L246.87,427.29 L246.96,427.91 L247.03,428.53 L247.08,429.15 L247.10,429.78 L247.09,430.40 L247.06,431.02 L247.01,431.64 L246.93,432.26 L246.84,432.88 L246.73,433.50 L246.60,434.12 L246.47,434.75 L246.32,435.37 L246.18,435.99 L246.03,436.61 L245.88,437.23 L245.73,437.85 L245.59,438.47 L245.42,439.09 L245.24,439.72 L245.04,440.34 L244.83,440.96 L244.62,441.58 L244.39,442.20 L244.17,442.82 L243.95,443.44 L243.73,444.06 L243.52,444.68 L243.31,445.31 L243.12,445.93 L242.94,446.55 L242.75,447.17 L242.56,447.79 L242.38,448.41 L242.20,449.03 L242.02,449.65 L241.86,450.28 L241.70,450.90 L241.56,451.52 L241.43,452.14 L241.31,452.76 L240.09,452.76 L239.97,452.14 L239.84,451.52 L239.70,450.90 L239.54,450.28 L239.38,449.65 L239.20,449.03 L239.02,448.41 L238.84,447.79 L238.65,447.17 L238.46,446.55 L238.28,445.93 L238.09,445.31 L237.88,444.68 L237.67,444.06 L237.45,443.44 L237.23,442.82 L237.01,442.20 L236.78,441.58 L236.57,440.96 L236.36,440.34 L236.16,439.72 L235.98,439.09 L235.81,438.47 L235.67,437.85 L235.52,437.23 L235.37,436.61 L235.22,435.99 L235.08,435.37 L234.93,434.75 L234.80,434.12 L234.67,433.50 L234.56,432.88 L234.47,432.26 L234.39,431.64 L234.34,431.02 L234.31,430.40 L234.30,429.78 L234.32,429.15 L234.37,428.53 L234.44,427.91 L234.53,427.29 L234.64,426.67 L234.76,426.05 L234.90,425.43 L235.05,424.81 L235.21,424.18 L235.38,423.56 L235.55,422.94 L235.73,422.32 L235.91,421.70 L236.09,421.08 L236.26,420.46 L236.43,419.84 L236.60,419.22 L236.75,418.59 L236.91,417.97 L237.07,417.35 L237.24,416.73 L237.41,416.11 L237.59,415.49 L237.77,414.87 L237.95,414.25 L238.13,413.62 L238.32,413.00 L238.50,412.38 L238.69,411.76 L238.87,411.14 L239.06,410.52 L239.24,409.90 L239.43,409.28 L239.63,408.65 L239.87,408.03 L240.11,407.41Z" fill="url(#vg2)"/>
<path d="M238.0,417.8h0.6v0.6h-0.6zM247.2,438.0h0.6v0.6h-0.6zM237.0,425.4h0.6v0.6h-0.6zM242.6,423.5h0.6v0.6h-0.6zM235.0,429.1h0.6v0.6h-0.6zM237.3,430.3h0.6v0.6h-0.6zM244.9,417.6h0.6v0.6h-0.6zM239.8,415.6h0.6v0.6h-0.6zM241.3,437.9h0.6v0.6h-0.6zM238.0,442.4h0.6v0.6h-0.6zM233.9,447.3h0.6v0.6h-0.6zM239.6,443.6h0.6v0.6h-0.6zM237.1,402.2h0.6v0.6h-0.6zM243.9,456.3h0.6v0.6h-0.6zM245.3,436.9h0.6v0.6h-0.6zM237.8,404.2h0.6v0.6h-0.6zM246.8,428.7h0.6v0.6h-0.6zM235.5,444.4h0.6v0.6h-0.6zM241.5,455.5h0.6v0.6h-0.6zM234.5,423.9h0.6v0.6h-0.6zM241.0,427.6h0.6v0.6h-0.6zM237.9,428.4h0.6v0.6h-0.6zM240.3,447.4h0.6v0.6h-0.6zM244.8,424.0h0.6v0.6h-0.6zM239.6,421.8h0.6v0.6h-0.6zM236.8,415.5h0.6v0.6h-0.6zM242.5,461.1h0.6v0.6h-0.6zM243.3,430.3h0.6v0.6h-0.6zM241.0,434.7h0.6v0.6h-0.6zM235.5,425.8h0.6v0.6h-0.6zM235.1,409.9h0.6v0.6h-0.6zM233.5,427.0h0.6v0.6h-0.6zM238.3,434.8h0.6v0.6h-0.6zM237.9,421.4h0.6v0.6h-0.6zM236.4,429.5h0.6v0.6h-0.6zM240.4,441.4h0.6v0.6h-0.6zM234.6,413.3h0.6v0.6h-0.6zM241.9,443.3h0.6v0.6h-0.6zM243.9,423.4h0.6v0.6h-0.6zM246.5,411.6h0.6v0.6h-0.6zM243.1,446.4h0.6v0.6h-0.6zM239.6,412.0h0.6v0.6h-0.6zM242.1,440.7h0.6v0.6h-0.6zM236.8,420.4h0.6v0.6h-0.6zM241.0,413.0h0.6v0.6h-0.6zM239.9,419.3h0.6v0.6h-0.6zM246.6,443.6h0.6v0.6h-0.6zM244.9,429.4h0.6v0.6h-0.6zM247.3,417.1h0.6v0.6h-0.6zM240.4,442.0h0.6v0.6h-0.6zM237.7,443.1h0.6v0.6h-0.6zM238.1,452.3h0.6v0.6h-0.6zM245.7,445.5h0.6v0.6h-0.6zM244.1,446.3h0.6v0.6h-0.6zM237.4,413.7h0.6v0.6h-0.6zM246.7,434.2h0.6v0.6h-0.6zM233.9,435.0h0.6v0.6h-0.6zM238.4,425.2h0.6v0.6h-0.6zM236.6,418.8h0.6v0.6h-0.6zM238.8,430.1h0.6v0.6h-0.6zM239.4,422.6h0.6v0.6h-0.6zM242.1,447.4h0.6v0.6h-0.6zM247.1,437.4h0.6v0.6h-0.6zM246.3,410.1h0.6v0.6h-0.6zM236.2,415.0h0.6v0.6h-0.6zM244.4,436.9h0.6v0.6h-0.6zM240.3,433.0h0.6v0.6h-0.6zM239.6,436.3h0.6v0.6h-0.6zM236.5,419.8h0.6v0.6h-0.6zM233.8,416.0h0.6v0.6h-0.6zM247.4,447.9h0.6v0.6h-0.6zM239.4,425.3h0.6v0.6h-0.6zM244.9,423.0h0.6v0.6h-0.6zM235.8,429.5h0.6v0.6h-0.6zM247.0,443.0h0.6v0.6h-0.6zM240.1,411.6h0.6v0.6h-0.6zM242.8,420.9h0.6v0.6h-0.6zM237.7,425.6h0.6v0.6h-0.6zM242.3,423.8h0.6v0.6h-0.6zM240.5,429.8h0.6v0.6h-0.6zM240.3,435.0h0.6v0.6h-0.6zM239.8,447.4h0.6v0.6h-0.6zM247.1,438.8h0.6v0.6h-0.6zM242.0,433.2h0.6v0.6h-0.6zM243.8,438.8h0.6v0.6h-0.6zM239.5,419.8h0.6v0.6h-0.6zM233.6,418.2h0.6v0.6h-0.6zM238.2,435.2h0.6v0.6h-0.6zM233.7,422.2h0.6v0.6h-0.6zM243.2,409.1h0.6v0.6h-0.6zM239.8,425.6h0.6v0.6h-0.6zM246.7,434.8h0.6v0.6h-0.6zM236.5,435.6h0.6v0.6h-0.6zM236.0,456.5h0.6v0.6h-0.6zM242.8,432.0h0.6v0.6h-0.6zM246.5,423.3h0.6v0.6h-0.6zM243.8,432.8h0.6v0.6h-0.6zM245.6,417.3h0.6v0.6h-0.6zM242.4,423.3h0.6v0.6h-0.6zM238.1,436.9h0.6v0.6h-0.6zM238.2,422.5h0.6v0.6h-0.6zM243.0,451.8h0.6v0.6h-0.6zM241.6,428.9h0.6v0.6h-0.6zM237.2,434.2h0.6v0.6h-0.6zM234.9,413.8h0.6v0.6h-0.6zM242.2,432.0h0.6v0.6h-0.6zM242.5,451.7h0.6v0.6h-0.6zM247.9,441.4h0.6v0.6h-0.6zM239.5,429.6h0.6v0.6h-0.6zM238.8,428.9h0.6v0.6h-0.6zM241.8,437.7h0.6v0.6h-0.6zM247.4,416.5h0.6v0.6h-0.6zM244.4,430.4h0.6v0.6h-0.6zM242.0,431.0h0.6v0.6h-0.6zM235.0,431.8h0.6v0.6h-0.6zM244.1,417.0h0.6v0.6h-0.6zM235.2,425.3h0.6v0.6h-0.6zM244.4,439.8h0.6v0.6h-0.6zM239.0,437.8h0.6v0.6h-0.6zM244.5,417.0h0.6v0.6h-0.6zM243.2,420.7h0.6v0.6h-0.6zM237.3,435.5h0.6v0.6h-0.6zM242.0,401.7h0.6v0.6h-0.6zM242.0,438.8h0.6v0.6h-0.6zM236.7,453.8h0.6v0.6h-0.6zM239.7,436.6h0.6v0.6h-0.6z" fill="#000" opacity="0.4"/>
<line x1="234.90" y1="433.20" x2="246.50" y2="433.20" stroke="#eee" stroke-width="1.5"/>
<line x1="256.40" y1="404.40" x2="256.40" y2="465.90" stroke="#7a7a7a" stroke-width="1.0"/>
<path d="M261.25,404.40 L261.23,405.02 L261.22,405.64 L261.21,406.26 L261.20,406.88 L261.20,407.51 L261.20,408.13 L261.20,408.75 L261.21,409.37 L261.28,409.99 L261.40,410.61 L261.55,411.23 L261.73,411.85 L261.93,412.48 L262.13,413.10 L262.32,413.72 L262.50,414.34 L262.69,414.96 L262.89,415.58 L263.11,416.20 L263.33,416.82 L263.57,417.45 L263.80,418.07 L264.00,418.69 L264.00,419.31 L264.00,419.93 L264.00,420.55 L264.00,421.17 L264.00,421.79 L264.00,422.42 L264.00,423.04 L264.00,423.66 L264.00,424.28 L264.00,424.90 L264.00,425.52 L264.00,426.14 L264.00,426.76 L264.00,427.38 L264.00,428.01 L264.00,428.63 L264.00,429.25 L264.00,429.87 L264.00,430.49 L264.00,431.11 L264.00,431.73 L264.00,432.35 L264.00,432.98 L264.00,433.60 L264.00,434.22 L264.00,434.84 L264.00,435.46 L264.00,436.08 L264.00,436.70 L264.00,437.32 L264.00,437.95 L264.00,438.57 L264.00,439.19 L264.00,439.81 L264.00,440.43 L264.00,441.05 L264.00,441.67 L264.00,442.29 L264.00,442.92 L264.00,443.54 L264.00,444.16 L264.00,444.78 L264.00,445.40 L264.00,446.02 L263.82,446.64 L263.59,447.26 L263.37,447.88 L263.17,448.51 L262.99,449.13 L262.83,449.75 L262.67,450.37 L262.52,450.99 L262.37,451.61 L262.23,452.23 L262.09,452.85 L261.97,453.48 L261.85,454.10 L261.73,454.72 L261.63,455.34 L261.52,455.96 L261.41,456.58 L261.31,457.20 L261.23,457.82 L261.20,458.45 L261.20,459.07 L261.20,459.69 L261.20,460.31 L261.20,460.93 L261.20,461.55 L261.21,462.17 L261.21,462.79 L261.21,463.42 L261.22,464.04 L261.23,464.66 L261.24,465.28 L261.25,465.90 L251.55,465.90 L251.56,465.28 L251.57,464.66 L251.58,464.04 L251.59,463.42 L251.59,462.79 L251.59,462.17 L251.60,461.55 L251.60,460.93 L251.60,460.31 L251.60,459.69 L251.60,459.07 L251.60,458.45 L251.57,457.82 L251.49,457.20 L251.39,456.58 L251.28,455.96 L251.17,455.34 L251.07,454.72 L250.95,454.10 L250.83,453.48 L250.71,452.85 L250.57,452.23 L250.43,451.61 L250.28,450.99 L250.13,450.37 L249.97,449.75 L249.81,449.13 L249.63,448.51 L249.43,447.88 L249.21,447.26 L248.98,446.64 L248.80,446.02 L248.80,445.40 L248.80,444.78 L248.80,444.16 L248.80,443.54 L248.80,442.92 L248.80,442.29 L248.80,441.67 L248.80,441.05 L248.80,440.43 L248.80,439.81 L248.80,439.19 L248.80,438.57 L248.80,437.95 L248.80,437.32 L248.80,436.70 L248.80,436.08 L248.80,435.46 L248.80,434.84 L248.80,434.22 L248.80,433.60 L248.80,432.98 L248.80,432.35 L248.80,431.73 L248.80,431.11 L248.80,430.49 L248.80,429.87 L248.80,429.25 L248.80,428.63 L248.80,428.01 L248.80,427.38 L248.80,426.76 L248.80,426.14 L248.80,425.52 L248.80,424.90 L248.80,424.28 L248.80,423.66 L248.80,423.04 L248.80,422.42 L248.80,421.79 L248.80,421.17 L248.80,420.55 L248.80,419.93 L248.80,419.31 L248.80,418.69 L249.00,418.07 L249.23,417.45 L249.47,416.82 L249.69,416.20 L249.91,415.58 L250.11,414.96 L250.30,414.34 L250.48,413.72 L250.67,413.10 L250.87,412.48 L251.07,411.85 L251.25,411.23 L251.40,410.61 L251.52,409.99 L251.59,409.37 L251.60,408.75 L251.60,408.13 L251.60,407.51 L251.60,406.88 L251.59,406.26 L251.58,405.64 L251.57,405.02 L251.55,404.40Z" fill="url(#cg3)"/>
<path d="M257.05,411.23 L257.23,411.85 L257.43,412.48 L257.63,413.10 L257.82,413.72 L258.00,414.34 L258.19,414.96 L258.39,415.58 L258.61,416.20 L258.83,416.82 L259.07,417.45 L259.30,418.07 L259.54,418.69 L259.78,419.31 L260.02,419.93 L260.25,420.55 L260.47,421.17 L260.68,421.79 L260.87,422.42 L261.05,423.04 L261.21,423.66 L261.37,424.28 L261.53,424.90 L261.70,425.52 L261.86,426.14 L262.02,426.76 L262.18,427.38 L262.33,428.01 L262.47,428.63 L262.60,429.25 L262.72,429.87 L262.83,430.49 L262.91,431.11 L262.98,431.73 L263.03,432.35 L263.05,432.98 L263.04,433.60 L263.00,434.22 L262.93,434.84 L262.84,435.46 L262.72,436.08 L262.58,436.70 L262.42,437.32 L262.25,437.95 L262.08,438.57 L261.90,439.19 L261.71,439.81 L261.54,440.43 L261.36,441.05 L261.19,441.67 L260.99,442.29 L260.77,442.92 L260.54,443.54 L260.30,444.16 L260.05,444.78 L259.81,445.40 L259.56,446.02 L259.32,446.64 L259.09,447.26 L258.87,447.88 L258.67,448.51 L258.49,449.13 L258.33,449.75 L258.17,450.37 L258.02,450.99 L257.87,451.61 L257.73,452.23 L257.59,452.85 L257.47,453.48 L257.35,454.10 L257.23,454.72 L257.13,455.34 L257.02,455.96 L255.78,455.96 L255.67,455.34 L255.57,454.72 L255.45,454.10 L255.33,453.48 L255.21,452.85 L255.07,452.23 L254.93,451.61 L254.78,450.99 L254.63,450.37 L254.47,449.75 L254.31,449.13 L254.13,448.51 L253.93,447.88 L253.71,447.26 L253.48,446.64 L253.24,446.02 L252.99,445.40 L252.75,444.78 L252.50,444.16 L252.26,443.54 L252.03,442.92 L251.81,442.29 L251.61,441.67 L251.44,441.05 L251.26,440.43 L251.09,439.81 L250.90,439.19 L250.72,438.57 L250.55,437.95 L250.38,437.32 L250.22,436.70 L250.08,436.08 L249.96,435.46 L249.87,434.84 L249.80,434.22 L249.76,433.60 L249.75,432.98 L249.77,432.35 L249.82,431.73 L249.89,431.11 L249.97,430.49 L250.08,429.87 L250.20,429.25 L250.33,428.63 L250.47,428.01 L250.62,427.38 L250.78,426.76 L250.94,426.14 L251.10,425.52 L251.27,424.90 L251.43,424.28 L251.59,423.66 L251.75,423.04 L251.93,422.42 L252.12,421.79 L252.33,421.17 L252.55,420.55 L252.78,419.93 L253.02,419.31 L253.26,418.69 L253.50,418.07 L253.73,417.45 L253.97,416.82 L254.19,416.20 L254.41,415.58 L254.61,414.96 L254.80,414.34 L254.98,413.72 L255.17,413.10 L255.37,412.48 L255.57,411.85 L255.75,411.23Z" fill="#20b05c" stroke="#3a3a3a" stroke-width="0.45"/>
<path d="M257.05,411.23 L257.23,411.85 L257.43,412.48 L257.63,413.10 L257.82,413.72 L258.00,414.34 L258.19,414.96 L258.39,415.58 L258.61,416.20 L258.83,416.82 L259.07,417.45 L259.30,418.07 L259.54,418.69 L259.78,419.31 L260.02,419.93 L260.25,420.55 L260.47,421.17 L260.68,421.79 L260.87,422.42 L261.05,423.04 L261.21,423.66 L261.37,424.28 L261.53,424.90 L261.70,425.52 L261.86,426.14 L262.02,426.76 L262.18,427.38 L262.33,428.01 L262.47,428.63 L262.60,429.25 L262.72,429.87 L262.83,430.49 L262.91,431.11 L262.98,431.73 L263.03,432.35 L263.05,432.98 L263.04,433.60 L263.00,434.22 L262.93,434.84 L262.84,435.46 L262.72,436.08 L262.58,436.70 L262.42,437.32 L262.25,437.95 L262.08,438.57 L261.90,439.19 L261.71,439.81 L261.54,440.43 L261.36,441.05 L261.19,441.67 L260.99,442.29 L260.77,442.92 L260.54,443.54 L260.30,444.16 L260.05,444.78 L259.81,445.40 L259.56,446.02 L259.32,446.64 L259.09,447.26 L258.87,447.88 L258.67,448.51 L258.49,449.13 L258.33,449.75 L258.17,450.37 L258.02,450.99 L257.87,451.61 L257.73,452.23 L257.59,452.85 L257.47,453.48 L257.35,454.10 L257.23,454.72 L257.13,455.34 L257.02,455.96 L255.78,455.96 L255.67,455.34 L255.57,454.72 L255.45,454.10 L255.33,453.48 L255.21,452.85 L255.07,452.23 L254.93,451.61 L254.78,450.99 L254.63,450.37 L254.47,449.75 L254.31,449.13 L254.13,448.51 L253.93,447.88 L253.71,447.26 L253.48,446.64 L253.24,446.02 L252.99,445.40 L252.75,444.78 L252.50,444.16 L252.26,443.54 L252.03,442.92 L251.81,442.29 L251.61,441.67 L251.44,441.05 L251.26,440.43 L251.09,439.81 L250.90,439.19 L250.72,438.57 L250.55,437.95 L250.38,437.32 L250.22,436.70 L250.08,436.08 L249.96,435.46 L249.87,434.84 L249.80,434.22 L249.76,433.60 L249.75,432.98 L249.77,432.35 L249.82,431.73 L249.89,431.11 L249.97,430.49 L250.08,429.87 L250.20,429.25 L250.33,428.63 L250.47,428.01 L250.62,427.38 L250.78,426.76 L250.94,426.14 L251.10,425.52 L251.27,424.90 L251.43,424.28 L251.59,423.66 L251.75,423.04 L251.93,422.42 L252.12,421.79 L252.33,421.17 L252.55,420.55 L252.78,419.93 L253.02,419.31 L253.26,418.69 L253.50,418.07 L253.73,417.45 L253.97,416.82 L254.19,416.20 L254.41,415.58 L254.61,414.96 L254.80,414.34 L254.98,413.72 L255.17,413.10 L255.37,412.48 L255.57,411.85 L255.75,411.23Z" fill="url(#vg3)"/>
<path d="M253.5,434.7h0.6v0.6h-0.6zM257.1,424.4h0.6v0.6h-0.6zM262.5,435.5h0.6v0.6h-0.6zM256.4,435.4h0.6v0.6h-0.6zM258.3,436.7h0.6v0.6h-0.6zM252.9,430.0h0.6v0.6h-0.6zM254.7,437.7h0.6v0.6h-0.6zM251.5,414.5h0.6v0.6h-0.6zM259.2,428.6h0.6v0.6h-0.6zM256.3,436.9h0.6v0.6h-0.6zM253.8,442.4h0.6v0.6h-0.6zM260.1,428.3h0.6v0.6h-0.6zM255.3,437.6h0.6v0.6h-0.6zM249.4,445.8h0.6v0.6h-0.6zM261.7,433.5h0.6v0.6h-0.6zM251.9,445.3h0.6v0.6h-0.6zM256.9,442.0h0.6v0.6h-0.6zM253.9,449.1h0.6v0.6h-0.6zM258.5,437.1h0.6v0.6h-0.6zM254.0,460.5h0.6v0.6h-0.6zM250.8,429.5h0.6v0.6h-0.6zM250.0,437.7h0.6v0.6h-0.6zM251.2,443.8h0.6v0.6h-0.6zM263.1,423.0h0.6v0.6h-0.6zM260.2,432.5h0.6v0.6h-0.6zM252.6,428.2h0.6v0.6h-0.6zM263.5,428.8h0.6v0.6h-0.6zM262.4,423.0h0.6v0.6h-0.6zM259.1,445.5h0.6v0.6h-0.6zM259.8,425.7h0.6v0.6h-0.6zM257.8,446.8h0.6v0.6h-0.6zM258.0,424.1h0.6v0.6h-0.6zM257.7,451.4h0.6v0.6h-0.6zM252.0,421.3h0.6v0.6h-0.6zM249.7,436.1h0.6v0.6h-0.6zM254.5,404.5h0.6v0.6h-0.6zM256.3,425.4h0.6v0.6h-0.6zM257.3,417.4h0.6v0.6h-0.6zM253.7,437.5h0.6v0.6h-0.6zM256.8,434.7h0.6v0.6h-0.6zM257.5,441.3h0.6v0.6h-0.6zM257.3,436.4h0.6v0.6h-0.6zM250.4,442.6h0.6v0.6h-0.6zM261.8,419.7h0.6v0.6h-0.6zM249.1,443.1h0.6v0.6h-0.6zM258.0,446.1h0.6v0.6h-0.6zM259.4,444.1h0.6v0.6h-0.6zM250.7,429.1h0.6v0.6h-0.6zM259.5,440.4h0.6v0.6h-0.6zM253.0,431.7h0.6v0.6h-0.6zM262.9,428.7h0.6v0.6h-0.6zM252.1,431.5h0.6v0.6h-0.6zM263.5,458.0h0.6v0.6h-0.6zM251.9,422.4h0.6v0.6h-0.6zM254.7,439.2h0.6v0.6h-0.6zM259.1,431.8h0.6v0.6h-0.6zM257.8,425.9h0.6v0.6h-0.6zM252.3,423.5h0.6v0.6h-0.6zM255.3,433.8h0.6v0.6h-0.6zM251.1,446.1h0.6v0.6h-0.6zM252.9,447.6h0.6v0.6h-0.6zM250.6,428.1h0.6v0.6h-0.6zM263.5,427.3h0.6v0.6h-0.6zM261.4,428.7h0.6v0.6h-0.6zM259.3,454.6h0.6v0.6h-0.6zM255.4,422.7h0.6v0.6h-0.6zM252.7,422.0h0.6v0.6h-0.6zM251.5,427.8h0.6v0.6h-0.6zM256.7,437.6h0.6v0.6h-0.6zM252.8,426.5h0.6v0.6h-0.6zM250.7,421.0h0.6v0.6h-0.6zM250.1,430.8h0.6v0.6h-0.6zM252.8,433.1h0.6v0.6h-0.6zM252.9,440.7h0.6v0.6h-0.6zM263.0,444.1h0.6v0.6h-0.6zM252.4,448.6h0.6v0.6h-0.6zM256.0,448.6h0.6v0.6h-0.6zM255.9,445.6h0.6v0.6h-0.6zM252.8,433.6h0.6v0.6h-0.6zM254.4,440.2h0.6v0.6h-0.6zM259.5,445.5h0.6v0.6h-0.6zM249.5,430.6h0.6v0.6h-0.6zM255.2,425.7h0.6v0.6h-0.6zM257.6,428.9h0.6v0.6h-0.6zM255.9,406.7h0.6v0.6h-0.6zM263.1,446.0h0.6v0.6h-0.6zM259.2,437.9h0.6v0.6h-0.6zM263.8,435.3h0.6v0.6h-0.6zM255.8,441.3h0.6v0.6h-0.6zM262.9,432.4h0.6v0.6h-0.6zM257.9,433.9h0.6v0.6h-0.6zM258.8,427.0h0.6v0.6h-0.6zM263.0,432.2h0.6v0.6h-0.6zM263.7,465.7h0.6v0.6h-0.6zM249.6,450.7h0.6v0.6h-0.6zM254.0,417.4h0.6v0.6h-0.6zM257.3,442.8h0.6v0.6h-0.6zM250.5,425.3h0.6v0.6h-0.6zM250.9,425.1h0.6v0.6h-0.6zM260.0,421.1h0.6v0.6h-0.6zM251.5,423.1h0.6v0.6h-0.6zM250.9,435.8h0.6v0.6h-0.6zM258.6,443.1h0.6v0.6h-0.6zM259.7,445.2h0.6v0.6h-0.6zM253.0,439.2h0.6v0.6h-0.6zM254.6,430.4h0.6v0.6h-0.6zM262.5,429.5h0.6v0.6h-0.6zM260.8,430.8h0.6v0.6h-0.6zM250.2,436.1h0.6v0.6h-0.6zM257.6,423.7h0.6v0.6h-0.6zM252.4,441.3h0.6v0.6h-0.6zM254.6,425.1h0.6v0.6h-0.6zM255.2,431.4h0.6v0.6h-0.6zM258.0,448.3h0.6v0.6h-0.6zM254.1,426.1h0.6v0.6h-0.6zM251.4,432.7h0.6v0.6h-0.6zM250.0,429.5h0.6v0.6h-0.6zM261.8,436.9h0.6v0.6h-0.6zM257.8,446.4h0.6v0.6h-0.6zM257.3,429.3h0.6v0.6h-0.6zM251.6,434.0h0.6v0.6h-0.6zM256.4,433.6h0.6v0.6h-0.6zM255.6,423.2h0.6v0.6h-0.6zM258.5,443.2h0.6v0.6h-0.6zM252.5,427.7h0.6v0.6h-0.6zM257.2,436.1h0.6v0.6h-0.6z" fill="#000" opacity="0.4"/>
<line x1="250.60" y1="434.00" x2="262.20" y2="434.00" stroke="#eee" stroke-width="1.5"/>
<line x1="271.50" y1="390.10" x2="271.50" y2="473.20" stroke="#7a7a7a" stroke-width="1.0"/>
<path d="M276.35,390.10 L276.34,390.94 L276.33,391.78 L276.33,392.62 L276.32,393.46 L276.32,394.30 L276.31,395.14 L276.31,395.98 L276.31,396.82 L276.31,397.65 L276.30,398.49 L276.30,399.33 L276.30,400.17 L276.30,401.01 L276.30,401.85 L276.30,402.69 L276.30,403.53 L276.30,404.37 L276.30,405.21 L276.37,406.05 L276.51,406.89 L276.69,407.73 L276.91,408.57 L277.14,409.41 L277.36,410.25 L277.58,411.08 L277.83,411.92 L278.10,412.76 L278.39,413.60 L278.69,414.44 L279.00,415.28 L279.10,416.12 L279.10,416.96 L279.10,417.80 L279.10,418.64 L279.10,419.48 L279.10,420.32 L279.10,421.16 L279.10,422.00 L279.10,422.84 L279.10,423.68 L279.10,424.52 L279.10,425.35 L279.10,426.19 L279.10,427.03 L279.10,427.87 L279.10,428.71 L279.10,429.55 L279.10,430.39 L279.10,431.23 L279.10,432.07 L279.10,432.91 L279.10,433.75 L279.10,434.59 L279.10,435.43 L279.10,436.27 L279.10,437.11 L279.10,437.95 L279.10,438.78 L279.10,439.62 L279.10,440.46 L279.10,441.30 L279.10,442.14 L279.10,442.98 L279.10,443.82 L279.10,444.66 L279.10,445.50 L279.10,446.34 L279.10,447.18 L279.10,448.02 L279.10,448.86 L279.10,449.70 L279.10,450.54 L278.91,451.38 L278.63,452.22 L278.36,453.05 L278.10,453.89 L277.86,454.73 L277.64,455.57 L277.46,456.41 L277.29,457.25 L277.14,458.09 L277.00,458.93 L276.86,459.77 L276.74,460.61 L276.63,461.45 L276.51,462.29 L276.39,463.13 L276.32,463.97 L276.30,464.81 L276.30,465.65 L276.30,466.48 L276.30,467.32 L276.30,468.16 L276.31,469.00 L276.31,469.84 L276.32,470.68 L276.33,471.52 L276.34,472.36 L276.35,473.20 L266.65,473.20 L266.66,472.36 L266.67,471.52 L266.68,470.68 L266.69,469.84 L266.69,469.00 L266.70,468.16 L266.70,467.32 L266.70,466.48 L266.70,465.65 L266.70,464.81 L266.68,463.97 L266.61,463.13 L266.49,462.29 L266.37,461.45 L266.26,460.61 L266.14,459.77 L266.00,458.93 L265.86,458.09 L265.71,457.25 L265.54,456.41 L265.36,455.57 L265.14,454.73 L264.90,453.89 L264.64,453.05 L264.37,452.22 L264.09,451.38 L263.90,450.54 L263.90,449.70 L263.90,448.86 L263.90,448.02 L263.90,447.18 L263.90,446.34 L263.90,445.50 L263.90,444.66 L263.90,443.82 L263.90,442.98 L263.90,442.14 L263.90,441.30 L263.90,440.46 L263.90,439.62 L263.90,438.78 L263.90,437.95 L263.90,437.11 L263.90,436.27 L263.90,435.43 L263.90,434.59 L263.90,433.75 L263.90,432.91 L263.90,432.07 L263.90,431.23 L263.90,430.39 L263.90,429.55 L263.90,428.71 L263.90,427.87 L263.90,427.03 L263.90,426.19 L263.90,425.35 L263.90,424.52 L263.90,423.68 L263.90,422.84 L263.90,422.00 L263.90,421.16 L263.90,420.32 L263.90,419.48 L263.90,418.64 L263.90,417.80 L263.90,416.96 L263.90,416.12 L264.00,415.28 L264.31,414.44 L264.61,413.60 L264.90,412.76 L265.17,411.92 L265.42,411.08 L265.64,410.25 L265.86,409.41 L266.09,408.57 L266.31,407.73 L266.49,406.89 L266.63,406.05 L266.70,405.21 L266.70,404.37 L266.70,403.53 L266.70,402.69 L266.70,401.85 L266.70,401.01 L266.70,400.17 L266.70,399.33 L266.70,398.49 L266.69,397.65 L266.69,396.82 L266.69,395.98 L266.69,395.14 L266.68,394.30 L266.68,393.46 L266.67,392.62 L266.67,391.78 L266.66,390.94 L266.65,390.10Z" fill="url(#cg4)"/>
<path d="M272.19,407.73 L272.41,408.57 L272.64,409.41 L272.86,410.25 L273.08,411.08 L273.33,411.92 L273.60,412.76 L273.89,413.60 L274.19,414.44 L274.50,415.28 L274.81,416.12 L275.11,416.96 L275.40,417.80 L275.66,418.64 L275.89,419.48 L276.09,420.32 L276.26,421.16 L276.42,422.00 L276.58,422.84 L276.74,423.68 L276.89,424.52 L277.02,425.35 L277.15,426.19 L277.27,427.03 L277.37,427.87 L277.46,428.71 L277.53,429.55 L277.58,430.39 L277.62,431.23 L277.64,432.07 L277.67,432.91 L277.69,433.75 L277.71,434.59 L277.73,435.43 L277.74,436.27 L277.75,437.11 L277.75,437.95 L277.70,438.78 L277.60,439.62 L277.46,440.46 L277.29,441.30 L277.09,442.14 L276.87,442.98 L276.64,443.82 L276.39,444.66 L276.14,445.50 L275.90,446.34 L275.66,447.18 L275.44,448.02 L275.21,448.86 L274.95,449.70 L274.69,450.54 L274.41,451.38 L274.13,452.22 L273.86,453.05 L273.60,453.89 L273.36,454.73 L273.14,455.57 L272.96,456.41 L272.79,457.25 L272.64,458.09 L272.50,458.93 L272.36,459.77 L272.24,460.61 L272.13,461.45 L270.87,461.45 L270.76,460.61 L270.64,459.77 L270.50,458.93 L270.36,458.09 L270.21,457.25 L270.04,456.41 L269.86,455.57 L269.64,454.73 L269.40,453.89 L269.14,453.05 L268.87,452.22 L268.59,451.38 L268.31,450.54 L268.05,449.70 L267.79,448.86 L267.56,448.02 L267.34,447.18 L267.10,446.34 L266.86,445.50 L266.61,444.66 L266.36,443.82 L266.13,442.98 L265.91,442.14 L265.71,441.30 L265.54,440.46 L265.40,439.62 L265.30,438.78 L265.25,437.95 L265.25,437.11 L265.26,436.27 L265.27,435.43 L265.29,434.59 L265.31,433.75 L265.33,432.91 L265.36,432.07 L265.38,431.23 L265.42,430.39 L265.47,429.55 L265.54,428.71 L265.63,427.87 L265.73,427.03 L265.85,426.19 L265.98,425.35 L266.11,424.52 L266.26,423.68 L266.42,422.84 L266.58,422.00 L266.74,421.16 L266.91,420.32 L267.11,419.48 L267.34,418.64 L267.60,417.80 L267.89,416.96 L268.19,416.12 L268.50,415.28 L268.81,414.44 L269.11,413.60 L269.40,412.76 L269.67,411.92 L269.92,411.08 L270.14,410.25 L270.36,409.41 L270.59,408.57 L270.81,407.73Z" fill="#009090" stroke="#3a3a3a" stroke-width="0.45"/>
<path d="M272.19,407.73 L272.41,408.57 L272.64,409.41 L272.86,410.25 L273.08,411.08 L273.33,411.92 L273.60,412.76 L273.89,413.60 L274.19,414.44 L274.50,415.28 L274.81,416.12 L275.11,416.96 L275.40,417.80 L275.66,418.64 L275.89,419.48 L276.09,420.32 L276.26,421.16 L276.42,422.00 L276.58,422.84 L276.74,423.68 L276.89,424.52 L277.02,425.35 L277.15,426.19 L277.27,427.03 L277.37,427.87 L277.46,428.71 L277.53,429.55 L277.58,430.39 L277.62,431.23 L277.64,432.07 L277.67,432.91 L277.69,433.75 L277.71,434.59 L277.73,435.43 L277.74,436.27 L277.75,437.11 L277.75,437.95 L277.70,438.78 L277.60,439.62 L277.46,440.46 L277.29,441.30 L277.09,442.14 L276.87,442.98 L276.64,443.82 L276.39,444.66 L276.14,445.50 L275.90,446.34 L275.66,447.18 L275.44,448.02 L275.21,448.86 L274.95,449.70 L274.69,450.54 L274.41,451.38 L274.13,452.22 L273.86,453.05 L273.60,453.89 L273.36,454.73 L273.14,455.57 L272.96,456.41 L272.79,457.25 L272.64,458.09 L272.50,458.93 L272.36,459.77 L272.24,460.61 L272.13,461.45 L270.87,461.45 L270.76,460.61 L270.64,459.77 L270.50,458.93 L270.36,458.09 L270.21,457.25 L270.04,456.41 L269.86,455.57 L269.64,454.73 L269.40,453.89 L269.14,453.05 L268.87,452.22 L268.59,451.38 L268.31,450.54 L268.05,449.70 L267.79,448.86 L267.56,448.02 L267.34,447.18 L267.10,446.34 L266.86,445.50 L266.61,444.66 L266.36,443.82 L266.13,442.98 L265.91,442.14 L265.71,441.30 L265.54,440.46 L265.40,439.62 L265.30,438.78 L265.25,437.95 L265.25,437.11 L265.26,436.27 L265.27,435.43 L265.29,434.59 L265.31,433.75 L265.33,432.91 L265.36,432.07 L265.38,431.23 L265.42,430.39 L265.47,429.55 L265.54,428.71 L265.63,427.87 L265.73,427.03 L265.85,426.19 L265.98,425.35 L266.11,424.52 L266.26,423.68 L266.42,422.84 L266.58,422.00 L266.74,421.16 L266.91,420.32 L267.11,419.48 L267.34,418.64 L267.60,417.80 L267.89,416.96 L268.19,416.12 L268.50,415.28 L268.81,414.44 L269.11,413.60 L269.40,412.76 L269.67,411.92 L269.92,411.08 L270.14,410.25 L270.36,409.41 L270.59,408.57 L270.81,407.73Z" fill="url(#vg4)"/>
<path d="M271.1,425.4h0.6v0.6h-0.6zM273.4,429.6h0.6v0.6h-0.6zM269.6,448.7h0.6v0.6h-0.6zM272.4,434.4h0.6v0.6h-0.6zM267.7,439.1h0.6v0.6h-0.6zM277.8,423.3h0.6v0.6h-0.6zM274.2,418.5h0.6v0.6h-0.6zM271.4,423.9h0.6v0.6h-0.6zM267.6,431.3h0.6v0.6h-0.6zM278.3,420.1h0.6v0.6h-0.6zM266.2,409.9h0.6v0.6h-0.6zM269.6,441.9h0.6v0.6h-0.6zM275.6,421.0h0.6v0.6h-0.6zM267.2,461.1h0.6v0.6h-0.6zM270.0,440.6h0.6v0.6h-0.6zM272.9,471.7h0.6v0.6h-0.6zM273.9,449.8h0.6v0.6h-0.6zM270.6,417.8h0.6v0.6h-0.6zM266.4,440.5h0.6v0.6h-0.6zM278.8,415.0h0.6v0.6h-0.6zM273.7,452.0h0.6v0.6h-0.6zM274.5,413.0h0.6v0.6h-0.6zM275.7,465.3h0.6v0.6h-0.6zM270.6,440.9h0.6v0.6h-0.6zM277.8,437.8h0.6v0.6h-0.6zM265.2,433.0h0.6v0.6h-0.6zM278.2,418.5h0.6v0.6h-0.6zM277.9,440.7h0.6v0.6h-0.6zM265.7,418.7h0.6v0.6h-0.6zM270.4,439.7h0.6v0.6h-0.6zM267.5,431.7h0.6v0.6h-0.6zM275.7,442.9h0.6v0.6h-0.6zM270.5,441.3h0.6v0.6h-0.6zM270.0,432.7h0.6v0.6h-0.6zM268.9,431.8h0.6v0.6h-0.6zM278.3,431.9h0.6v0.6h-0.6zM266.1,444.6h0.6v0.6h-0.6zM276.2,439.2h0.6v0.6h-0.6zM277.3,427.3h0.6v0.6h-0.6zM265.1,453.6h0.6v0.6h-0.6zM269.7,437.6h0.6v0.6h-0.6zM272.2,431.8h0.6v0.6h-0.6zM273.4,447.6h0.6v0.6h-0.6zM267.8,449.3h0.6v0.6h-0.6zM269.9,444.4h0.6v0.6h-0.6zM276.0,420.4h0.6v0.6h-0.6zM267.4,435.8h0.6v0.6h-0.6zM271.4,449.7h0.6v0.6h-0.6zM278.7,439.4h0.6v0.6h-0.6zM272.1,426.6h0.6v0.6h-0.6zM268.3,434.7h0.6v0.6h-0.6zM278.4,434.3h0.6v0.6h-0.6zM268.0,440.2h0.6v0.6h-0.6zM273.2,439.7h0.6v0.6h-0.6zM274.0,428.2h0.6v0.6h-0.6zM275.7,428.5h0.6v0.6h-0.6zM276.3,428.9h0.6v0.6h-0.6zM266.6,425.4h0.6v0.6h-0.6zM266.0,426.7h0.6v0.6h-0.6zM278.8,448.5h0.6v0.6h-0.6zM267.7,430.0h0.6v0.6h-0.6zM276.7,448.9h0.6v0.6h-0.6zM268.6,423.2h0.6v0.6h-0.6zM266.1,433.0h0.6v0.6h-0.6zM270.0,421.7h0.6v0.6h-0.6zM266.2,417.1h0.6v0.6h-0.6zM268.6,436.8h0.6v0.6h-0.6zM278.3,451.3h0.6v0.6h-0.6zM268.2,439.2h0.6v0.6h-0.6zM269.1,442.7h0.6v0.6h-0.6zM270.4,448.2h0.6v0.6h-0.6zM275.2,440.0h0.6v0.6h-0.6zM275.2,440.4h0.6v0.6h-0.6zM266.3,427.2h0.6v0.6h-0.6zM278.3,428.2h0.6v0.6h-0.6zM268.3,409.6h0.6v0.6h-0.6zM270.6,425.9h0.6v0.6h-0.6zM266.6,448.2h0.6v0.6h-0.6zM264.4,416.2h0.6v0.6h-0.6zM274.9,427.1h0.6v0.6h-0.6zM273.7,431.3h0.6v0.6h-0.6zM269.4,433.5h0.6v0.6h-0.6zM264.7,429.6h0.6v0.6h-0.6zM274.9,455.0h0.6v0.6h-0.6zM267.1,415.7h0.6v0.6h-0.6zM271.6,443.7h0.6v0.6h-0.6zM275.2,442.3h0.6v0.6h-0.6zM276.3,418.5h0.6v0.6h-0.6zM266.1,421.3h0.6v0.6h-0.6zM276.2,442.2h0.6v0.6h-0.6zM269.8,425.6h0.6v0.6h-0.6zM268.5,441.7h0.6v0.6h-0.6zM278.8,431.0h0.6v0.6h-0.6zM278.1,417.7h0.6v0.6h-0.6zM278.9,449.3h0.6v0.6h-0.6zM267.0,423.2h0.6v0.6h-0.6zM266.6,430.8h0.6v0.6h-0.6zM272.6,452.1h0.6v0.6h-0.6zM271.4,446.6h0.6v0.6h-0.6zM278.2,433.0h0.6v0.6h-0.6zM267.4,417.4h0.6v0.6h-0.6zM272.8,447.4h0.6v0.6h-0.6zM278.8,443.7h0.6v0.6h-0.6zM273.1,443.2h0.6v0.6h-0.6zM272.0,442.4h0.6v0.6h-0.6zM268.9,422.1h0.6v0.6h-0.6zM271.9,452.1h0.6v0.6h-0.6zM273.6,408.7h0.6v0.6h-0.6zM273.4,468.8h0.6v0.6h-0.6zM270.8,432.8h0.6v0.6h-0.6zM273.2,437.8h0.6v0.6h-0.6zM277.5,432.6h0.6v0.6h-0.6zM275.7,449.2h0.6v0.6h-0.6zM274.7,441.3h0.6v0.6h-0.6zM271.4,421.1h0.6v0.6h-0.6zM267.1,424.2h0.6v0.6h-0.6zM267.5,454.7h0.6v0.6h-0.6zM276.4,445.2h0.6v0.6h-0.6zM264.5,429.5h0.6v0.6h-0.6zM273.7,420.2h0.6v0.6h-0.6zM269.4,440.7h0.6v0.6h-0.6zM266.5,436.6h0.6v0.6h-0.6zM275.7,438.8h0.6v0.6h-0.6zM272.4,443.7h0.6v0.6h-0.6zM264.1,435.7h0.6v0.6h-0.6zM270.1,424.1h0.6v0.6h-0.6zM265.2,413.8h0.6v0.6h-0.6zM274.2,455.8h0.6v0.6h-0.6zM274.3,435.3h0.6v0.6h-0.6zM273.5,448.1h0.6v0.6h-0.6zM269.9,430.4h0.6v0.6h-0.6zM278.2,458.1h0.6v0.6h-0.6zM276.2,418.9h0.6v0.6h-0.6zM269.2,438.2h0.6v0.6h-0.6zM268.2,440.1h0.6v0.6h-0.6zM272.4,442.1h0.6v0.6h-0.6zM264.9,436.1h0.6v0.6h-0.6zM278.2,450.4h0.6v0.6h-0.6zM268.4,442.8h0.6v0.6h-0.6zM265.8,441.2h0.6v0.6h-0.6zM269.2,434.7h0.6v0.6h-0.6zM268.4,432.0h0.6v0.6h-0.6zM270.5,413.7h0.6v0.6h-0.6zM266.7,422.9h0.6v0.6h-0.6zM265.9,426.8h0.6v0.6h-0.6zM278.5,405.2h0.6v0.6h-0.6zM277.3,412.1h0.6v0.6h-0.6zM265.9,430.1h0.6v0.6h-0.6zM271.6,430.4h0.6v0.6h-0.6zM272.1,412.2h0.6v0.6h-0.6zM268.5,394.2h0.6v0.6h-0.6zM276.6,440.8h0.6v0.6h-0.6zM270.1,420.2h0.6v0.6h-0.6zM268.8,454.4h0.6v0.6h-0.6zM267.8,417.0h0.6v0.6h-0.6zM269.2,447.9h0.6v0.6h-0.6zM278.0,439.0h0.6v0.6h-0.6zM267.0,437.4h0.6v0.6h-0.6zM268.9,432.3h0.6v0.6h-0.6zM273.2,432.3h0.6v0.6h-0.6zM274.3,459.4h0.6v0.6h-0.6zM276.1,433.4h0.6v0.6h-0.6zM267.0,433.3h0.6v0.6h-0.6zM268.1,439.2h0.6v0.6h-0.6zM269.9,421.8h0.6v0.6h-0.6zM264.6,432.5h0.6v0.6h-0.6zM278.3,427.9h0.6v0.6h-0.6zM269.5,433.4h0.6v0.6h-0.6zM274.4,431.5h0.6v0.6h-0.6zM270.1,433.1h0.6v0.6h-0.6zM268.2,436.0h0.6v0.6h-0.6zM270.4,439.7h0.6v0.6h-0.6zM269.3,440.5h0.6v0.6h-0.6zM267.0,438.1h0.6v0.6h-0.6zM271.4,432.5h0.6v0.6h-0.6zM266.0,400.0h0.6v0.6h-0.6zM275.4,431.6h0.6v0.6h-0.6zM276.6,445.1h0.6v0.6h-0.6zM278.4,444.8h0.6v0.6h-0.6zM266.3,421.0h0.6v0.6h-0.6zM275.8,418.2h0.6v0.6h-0.6zM268.8,420.7h0.6v0.6h-0.6zM277.6,418.2h0.6v0.6h-0.6zM267.6,421.7h0.6v0.6h-0.6zM274.5,436.5h0.6v0.6h-0.6zM272.7,409.9h0.6v0.6h-0.6zM272.3,434.1h0.6v0.6h-0.6zM275.9,433.6h0.6v0.6h-0.6zM276.8,445.6h0.6v0.6h-0.6zM264.7,426.7h0.6v0.6h-0.6zM264.5,432.0h0.6v0.6h-0.6zM271.2,438.0h0.6v0.6h-0.6zM276.4,442.2h0.6v0.6h-0.6zM274.4,441.6h0.6v0.6h-0.6zM274.8,426.8h0.6v0.6h-0.6zM267.3,438.1h0.6v0.6h-0.6zM271.1,448.1h0.6v0.6h-0.6zM267.0,434.2h0.6v0.6h-0.6zM271.1,446.0h0.6v0.6h-0.6zM276.6,442.0h0.6v0.6h-0.6zM272.8,433.7h0.6v0.6h-0.6zM267.6,431.7h0.6v0.6h-0.6zM277.7,444.5h0.6v0.6h-0.6zM264.6,409.2h0.6v0.6h-0.6zM265.3,431.9h0.6v0.6h-0.6zM269.2,430.8h0.6v0.6h-0.6zM275.6,423.1h0.6v0.6h-0.6zM277.7,436.0h0.6v0.6h-0.6zM269.7,421.0h0.6v0.6h-0.6zM275.5,437.3h0.6v0.6h-0.6zM266.9,430.4h0.6v0.6h-0.6zM272.5,428.8h0.6v0.6h-0.6zM273.7,457.4h0.6v0.6h-0.6zM276.4,446.7h0.6v0.6h-0.6zM271.6,430.4h0.6v0.6h-0.6zM274.8,446.2h0.6v0.6h-0.6zM266.9,429.4h0.6v0.6h-0.6zM268.4,441.6h0.6v0.6h-0.6zM267.8,424.1h0.6v0.6h-0.6zM273.7,439.8h0.6v0.6h-0.6zM272.8,453.2h0.6v0.6h-0.6zM277.2,432.4h0.6v0.6h-0.6zM272.8,418.2h0.6v0.6h-0.6zM269.0,464.1h0.6v0.6h-0.6zM265.8,418.9h0.6v0.6h-0.6zM274.9,407.5h0.6v0.6h-0.6zM276.2,429.8h0.6v0.6h-0.6zM264.5,446.3h0.6v0.6h-0.6zM268.0,425.8h0.6v0.6h-0.6zM264.5,424.0h0.6v0.6h-0.6zM269.1,423.7h0.6v0.6h-0.6zM272.0,431.3h0.6v0.6h-0.6zM265.7,462.5h0.6v0.6h-0.6zM277.5,417.9h0.6v0.6h-0.6zM272.1,425.0h0.6v0.6h-0.6zM277.4,425.7h0.6v0.6h-0.6zM272.5,453.0h0.6v0.6h-0.6zM269.6,415.5h0.6v0.6h-0.6zM272.5,440.5h0.6v0.6h-0.6zM270.0,424.7h0.6v0.6h-0.6zM270.1,412.8h0.6v0.6h-0.6zM269.8,445.7h0.6v0.6h-0.6zM266.6,431.8h0.6v0.6h-0.6zM270.3,440.8h0.6v0.6h-0.6zM275.5,428.8h0.6v0.6h-0.6zM265.2,425.4h0.6v0.6h-0.6zM275.0,438.2h0.6v0.6h-0.6zM269.2,411.9h0.6v0.6h-0.6zM271.6,449.2h0.6v0.6h-0.6zM266.0,429.6h0.6v0.6h-0.6zM272.8,425.0h0.6v0.6h-0.6zM273.9,451.3h0.6v0.6h-0.6zM270.1,457.7h0.6v0.6h-0.6zM269.1,413.5h0.6v0.6h-0.6zM264.9,428.1h0.6v0.6h-0.6zM277.6,414.5h0.6v0.6h-0.6zM266.1,449.8h0.6v0.6h-0.6zM278.6,414.6h0.6v0.6h-0.6zM268.6,419.6h0.6v0.6h-0.6zM267.2,422.4h0.6v0.6h-0.6zM270.9,408.5h0.6v0.6h-0.6zM265.2,443.4h0.6v0.6h-0.6zM266.1,432.7h0.6v0.6h-0.6zM277.5,443.9h0.6v0.6h-0.6zM272.0,448.5h0.6v0.6h-0.6zM274.7,418.3h0.6v0.6h-0.6zM275.6,413.6h0.6v0.6h-0.6zM277.3,425.5h0.6v0.6h-0.6zM275.1,424.9h0.6v0.6h-0.6zM267.6,432.9h0.6v0.6h-0.6zM270.5,432.7h0.6v0.6h-0.6zM272.2,419.1h0.6v0.6h-0.6zM274.5,434.2h0.6v0.6h-0.6zM273.2,427.1h0.6v0.6h-0.6zM271.8,421.2h0.6v0.6h-0.6zM275.7,423.0h0.6v0.6h-0.6zM268.4,420.8h0.6v0.6h-0.6zM268.5,413.6h0.6v0.6h-0.6zM267.5,434.5h0.6v0.6h-0.6zM277.3,417.2h0.6v0.6h-0.6zM267.3,425.9h0.6v0.6h-0.6zM276.6,429.3h0.6v0.6h-0.6zM277.5,442.2h0.6v0.6h-0.6zM269.1,434.7h0.6v0.6h-0.6zM265.0,433.1h0.6v0.6h-0.6zM276.5,439.7h0.6v0.6h-0.6zM276.4,451.3h0.6v0.6h-0.6zM276.0,438.4h0.6v0.6h-0.6zM272.4,425.2h0.6v0.6h-0.6zM278.0,419.5h0.6v0.6h-0.6zM266.7,433.5h0.6v0.6h-0.6zM273.3,462.2h0.6v0.6h-0.6zM276.6,421.8h0.6v0.6h-0.6zM273.3,437.6h0.6v0.6h-0.6zM268.8,448.7h0.6v0.6h-0.6zM272.5,424.6h0.6v0.6h-0.6zM274.4,421.4h0.6v0.6h-0.6zM267.1,432.2h0.6v0.6h-0.6zM266.5,417.4h0.6v0.6h-0.6zM277.6,435.8h0.6v0.6h-0.6zM276.7,444.4h0.6v0.6h-0.6zM276.0,435.5h0.6v0.6h-0.6zM269.5,426.7h0.6v0.6h-0.6zM267.9,450.4h0.6v0.6h-0.6zM272.5,437.5h0.6v0.6h-0.6zM272.5,411.8h0.6v0.6h-0.6zM277.3,444.4h0.6v0.6h-0.6zM277.4,430.1h0.6v0.6h-0.6zM277.5,409.8h0.6v0.6h-0.6zM276.1,439.6h0.6v0.6h-0.6zM272.8,431.1h0.6v0.6h-0.6zM267.4,445.7h0.6v0.6h-0.6zM275.2,420.4h0.6v0.6h-0.6zM267.5,448.6h0.6v0.6h-0.6zM271.6,434.7h0.6v0.6h-0.6zM276.6,426.0h0.6v0.6h-0.6zM275.6,424.8h0.6v0.6h-0.6zM266.3,429.8h0.6v0.6h-0.6zM266.3,456.5h0.6v0.6h-0.6zM264.5,416.0h0.6v0.6h-0.6zM264.5,427.5h0.6v0.6h-0.6zM278.0,419.0h0.6v0.6h-0.6zM274.7,423.6h0.6v0.6h-0.6zM264.3,421.8h0.6v0.6h-0.6zM265.9,394.0h0.6v0.6h-0.6zM270.9,455.2h0.6v0.6h-0.6zM264.8,423.4h0.6v0.6h-0.6zM268.8,438.2h0.6v0.6h-0.6zM270.6,420.3h0.6v0.6h-0.6zM269.2,440.8h0.6v0.6h-0.6zM266.9,435.3h0.6v0.6h-0.6zM264.7,435.2h0.6v0.6h-0.6zM277.8,451.9h0.6v0.6h-0.6zM271.1,435.8h0.6v0.6h-0.6zM275.2,429.3h0.6v0.6h-0.6zM274.6,435.9h0.6v0.6h-0.6zM270.0,431.0h0.6v0.6h-0.6zM266.8,441.2h0.6v0.6h-0.6zM267.7,427.2h0.6v0.6h-0.6zM276.9,421.5h0.6v0.6h-0.6zM275.0,426.0h0.6v0.6h-0.6zM277.8,411.3h0.6v0.6h-0.6zM275.1,431.9h0.6v0.6h-0.6zM273.0,416.3h0.6v0.6h-0.6zM268.4,445.1h0.6v0.6h-0.6zM269.8,415.4h0.6v0.6h-0.6zM275.4,443.1h0.6v0.6h-0.6zM268.9,413.0h0.6v0.6h-0.6zM268.4,451.3h0.6v0.6h-0.6zM277.0,414.9h0.6v0.6h-0.6zM270.7,445.5h0.6v0.6h-0.6zM275.2,440.2h0.6v0.6h-0.6zM266.9,446.3h0.6v0.6h-0.6zM277.8,441.5h0.6v0.6h-0.6zM271.8,444.0h0.6v0.6h-0.6zM278.6,429.1h0.6v0.6h-0.6zM276.0,468.6h0.6v0.6h-0.6zM277.3,433.3h0.6v0.6h-0.6zM271.6,448.5h0.6v0.6h-0.6zM273.2,417.8h0.6v0.6h-0.6zM269.1,418.0h0.6v0.6h-0.6zM271.5,435.5h0.6v0.6h-0.6zM276.2,438.3h0.6v0.6h-0.6zM268.7,454.5h0.6v0.6h-0.6zM268.9,455.3h0.6v0.6h-0.6zM275.3,427.4h0.6v0.6h-0.6zM271.6,459.3h0.6v0.6h-0.6zM276.3,444.3h0.6v0.6h-0.6zM273.2,426.1h0.6v0.6h-0.6zM264.4,453.4h0.6v0.6h-0.6zM277.0,417.4h0.6v0.6h-0.6zM270.3,435.4h0.6v0.6h-0.6zM270.7,444.2h0.6v0.6h-0.6zM269.3,418.2h0.6v0.6h-0.6zM273.6,442.8h0.6v0.6h-0.6zM264.3,432.9h0.6v0.6h-0.6zM265.3,470.9h0.6v0.6h-0.6zM275.8,424.6h0.6v0.6h-0.6zM274.3,453.3h0.6v0.6h-0.6zM275.1,428.7h0.6v0.6h-0.6zM272.7,439.1h0.6v0.6h-0.6zM272.3,443.8h0.6v0.6h-0.6zM267.9,434.4h0.6v0.6h-0.6zM265.7,443.5h0.6v0.6h-0.6zM273.4,415.5h0.6v0.6h-0.6zM277.0,411.0h0.6v0.6h-0.6zM271.0,420.9h0.6v0.6h-0.6zM271.2,423.9h0.6v0.6h-0.6zM267.0,437.3h0.6v0.6h-0.6zM278.5,434.6h0.6v0.6h-0.6zM267.3,418.8h0.6v0.6h-0.6zM265.7,421.0h0.6v0.6h-0.6zM278.3,397.8h0.6v0.6h-0.6zM264.7,456.7h0.6v0.6h-0.6zM272.7,446.1h0.6v0.6h-0.6zM277.2,421.6h0.6v0.6h-0.6zM273.6,416.9h0.6v0.6h-0.6zM274.4,439.3h0.6v0.6h-0.6zM266.3,422.9h0.6v0.6h-0.6zM268.4,437.8h0.6v0.6h-0.6zM275.0,436.9h0.6v0.6h-0.6zM274.8,408.8h0.6v0.6h-0.6zM270.1,460.2h0.6v0.6h-0.6zM269.0,435.8h0.6v0.6h-0.6zM267.4,448.8h0.6v0.6h-0.6zM271.5,415.9h0.6v0.6h-0.6zM272.5,431.0h0.6v0.6h-0.6zM277.8,421.4h0.6v0.6h-0.6zM269.9,434.3h0.6v0.6h-0.6zM264.7,442.2h0.6v0.6h-0.6zM276.4,451.8h0.6v0.6h-0.6zM270.8,423.7h0.6v0.6h-0.6zM275.8,410.0h0.6v0.6h-0.6zM272.9,458.7h0.6v0.6h-0.6zM271.1,460.0h0.6v0.6h-0.6zM276.6,448.1h0.6v0.6h-0.6zM270.9,452.2h0.6v0.6h-0.6zM264.6,433.4h0.6v0.6h-0.6zM265.4,454.9h0.6v0.6h-0.6zM273.0,436.0h0.6v0.6h-0.6z" fill="#000" opacity="0.4"/>
<line x1="265.70" y1="436.70" x2="277.30" y2="436.70" stroke="#eee" stroke-width="1.5"/>
<line x1="287.10" y1="389.20" x2="287.10" y2="469.80" stroke="#7a7a7a" stroke-width="1.0"/>
<path d="M291.95,389.20 L291.94,390.01 L291.94,390.83 L291.93,391.64 L291.93,392.46 L291.92,393.27 L291.92,394.08 L291.91,394.90 L291.91,395.71 L291.91,396.53 L291.91,397.34 L291.90,398.16 L291.90,398.97 L291.90,399.78 L291.90,400.60 L291.90,401.41 L291.90,402.23 L291.90,403.04 L291.90,403.85 L291.90,404.67 L291.92,405.48 L292.00,406.30 L292.15,407.11 L292.35,407.93 L292.56,408.74 L292.78,409.55 L292.99,410.37 L293.20,411.18 L293.43,412.00 L293.69,412.81 L293.96,413.62 L294.24,414.44 L294.52,415.25 L294.70,416.07 L294.70,416.88 L294.70,417.69 L294.70,418.51 L294.70,419.32 L294.70,420.14 L294.70,420.95 L294.70,421.77 L294.70,422.58 L294.70,423.39 L294.70,424.21 L294.70,425.02 L294.70,425.84 L294.70,426.65 L294.70,427.46 L294.70,428.28 L294.70,429.09 L294.70,429.91 L294.70,430.72 L294.70,431.54 L294.70,432.35 L294.70,433.16 L294.70,433.98 L294.70,434.79 L294.70,435.61 L294.70,436.42 L294.70,437.23 L294.70,438.05 L294.70,438.86 L294.70,439.68 L294.70,440.49 L294.70,441.31 L294.70,442.12 L294.70,442.93 L294.70,443.75 L294.70,444.56 L294.70,445.38 L294.70,446.19 L294.70,447.00 L294.70,447.82 L294.70,448.63 L294.70,449.45 L294.70,450.26 L294.65,451.07 L294.37,451.89 L294.09,452.70 L293.80,453.52 L293.52,454.33 L293.25,455.15 L293.00,455.96 L292.77,456.77 L292.57,457.59 L292.39,458.40 L292.21,459.22 L292.04,460.03 L291.93,460.84 L291.90,461.66 L291.90,462.47 L291.90,463.29 L291.90,464.10 L291.90,464.92 L291.91,465.73 L291.91,466.54 L291.92,467.36 L291.93,468.17 L291.94,468.99 L291.95,469.80 L282.25,469.80 L282.26,468.99 L282.27,468.17 L282.28,467.36 L282.29,466.54 L282.29,465.73 L282.30,464.92 L282.30,464.10 L282.30,463.29 L282.30,462.47 L282.30,461.66 L282.27,460.84 L282.16,460.03 L281.99,459.22 L281.81,458.40 L281.63,457.59 L281.43,456.77 L281.20,455.96 L280.95,455.15 L280.68,454.33 L280.40,453.52 L280.11,452.70 L279.83,451.89 L279.55,451.07 L279.50,450.26 L279.50,449.45 L279.50,448.63 L279.50,447.82 L279.50,447.00 L279.50,446.19 L279.50,445.38 L279.50,444.56 L279.50,443.75 L279.50,442.93 L279.50,442.12 L279.50,441.31 L279.50,440.49 L279.50,439.68 L279.50,438.86 L279.50,438.05 L279.50,437.23 L279.50,436.42 L279.50,435.61 L279.50,434.79 L279.50,433.98 L279.50,433.16 L279.50,432.35 L279.50,431.54 L279.50,430.72 L279.50,429.91 L279.50,429.09 L279.50,428.28 L279.50,427.46 L279.50,426.65 L279.50,425.84 L279.50,425.02 L279.50,424.21 L279.50,423.39 L279.50,422.58 L279.50,421.77 L279.50,420.95 L279.50,420.14 L279.50,419.32 L279.50,418.51 L279.50,417.69 L279.50,416.88 L279.50,416.07 L279.68,415.25 L279.96,414.44 L280.24,413.62 L280.51,412.81 L280.77,412.00 L281.00,411.18 L281.21,410.37 L281.42,409.55 L281.64,408.74 L281.85,407.93 L282.05,407.11 L282.20,406.30 L282.28,405.48 L282.30,404.67 L282.30,403.85 L282.30,403.04 L282.30,402.23 L282.30,401.41 L282.30,400.60 L282.30,399.78 L282.30,398.97 L282.30,398.16 L282.29,397.34 L282.29,396.53 L282.29,395.71 L282.29,394.90 L282.28,394.08 L282.28,393.27 L282.27,392.46 L282.27,391.64 L282.26,390.83 L282.26,390.01 L282.25,389.20Z" fill="url(#cg5)"/>
<path d="M287.65,407.11 L287.85,407.93 L288.06,408.74 L288.28,409.55 L288.49,410.37 L288.70,411.18 L288.93,412.00 L289.19,412.81 L289.46,413.62 L289.74,414.44 L290.02,415.25 L290.30,416.07 L290.58,416.88 L290.84,417.69 L291.08,418.51 L291.31,419.32 L291.50,420.14 L291.67,420.95 L291.83,421.77 L291.99,422.58 L292.15,423.39 L292.30,424.21 L292.45,425.02 L292.59,425.84 L292.72,426.65 L292.84,427.46 L292.96,428.28 L293.06,429.09 L293.14,429.91 L293.21,430.72 L293.26,431.54 L293.30,432.35 L293.32,433.16 L293.33,433.98 L293.35,434.79 L293.37,435.61 L293.38,436.42 L293.39,437.23 L293.40,438.05 L293.40,438.86 L293.39,439.68 L293.33,440.49 L293.22,441.31 L293.05,442.12 L292.84,442.93 L292.61,443.75 L292.34,444.56 L292.06,445.38 L291.77,446.19 L291.48,447.00 L291.19,447.82 L290.92,448.63 L290.67,449.45 L290.42,450.26 L290.15,451.07 L289.87,451.89 L289.59,452.70 L289.30,453.52 L289.02,454.33 L288.75,455.15 L288.50,455.96 L288.27,456.77 L288.07,457.59 L287.89,458.40 L287.71,459.22 L286.49,459.22 L286.31,458.40 L286.13,457.59 L285.93,456.77 L285.70,455.96 L285.45,455.15 L285.18,454.33 L284.90,453.52 L284.61,452.70 L284.33,451.89 L284.05,451.07 L283.78,450.26 L283.53,449.45 L283.28,448.63 L283.01,447.82 L282.72,447.00 L282.43,446.19 L282.14,445.38 L281.86,444.56 L281.59,443.75 L281.36,442.93 L281.15,442.12 L280.98,441.31 L280.87,440.49 L280.81,439.68 L280.80,438.86 L280.80,438.05 L280.81,437.23 L280.82,436.42 L280.83,435.61 L280.85,434.79 L280.87,433.98 L280.88,433.16 L280.90,432.35 L280.94,431.54 L280.99,430.72 L281.06,429.91 L281.14,429.09 L281.24,428.28 L281.36,427.46 L281.48,426.65 L281.61,425.84 L281.75,425.02 L281.90,424.21 L282.05,423.39 L282.21,422.58 L282.37,421.77 L282.53,420.95 L282.70,420.14 L282.89,419.32 L283.12,418.51 L283.36,417.69 L283.62,416.88 L283.90,416.07 L284.18,415.25 L284.46,414.44 L284.74,413.62 L285.01,412.81 L285.27,412.00 L285.50,411.18 L285.71,410.37 L285.92,409.55 L286.14,408.74 L286.35,407.93 L286.55,407.11Z" fill="#1f80c2" stroke="#3a3a3a" stroke-width="0.45"/>
<path d="M287.65,407.11 L287.85,407.93 L288.06,408.74 L288.28,409.55 L288.49,410.37 L288.70,411.18 L288.93,412.00 L289.19,412.81 L289.46,413.62 L289.74,414.44 L290.02,415.25 L290.30,416.07 L290.58,416.88 L290.84,417.69 L291.08,418.51 L291.31,419.32 L291.50,420.14 L291.67,420.95 L291.83,421.77 L291.99,422.58 L292.15,423.39 L292.30,424.21 L292.45,425.02 L292.59,425.84 L292.72,426.65 L292.84,427.46 L292.96,428.28 L293.06,429.09 L293.14,429.91 L293.21,430.72 L293.26,431.54 L293.30,432.35 L293.32,433.16 L293.33,433.98 L293.35,434.79 L293.37,435.61 L293.38,436.42 L293.39,437.23 L293.40,438.05 L293.40,438.86 L293.39,439.68 L293.33,440.49 L293.22,441.31 L293.05,442.12 L292.84,442.93 L292.61,443.75 L292.34,444.56 L292.06,445.38 L291.77,446.19 L291.48,447.00 L291.19,447.82 L290.92,448.63 L290.67,449.45 L290.42,450.26 L290.15,451.07 L289.87,451.89 L289.59,452.70 L289.30,453.52 L289.02,454.33 L288.75,455.15 L288.50,455.96 L288.27,456.77 L288.07,457.59 L287.89,458.40 L287.71,459.22 L286.49,459.22 L286.31,458.40 L286.13,457.59 L285.93,456.77 L285.70,455.96 L285.45,455.15 L285.18,454.33 L284.90,453.52 L284.61,452.70 L284.33,451.89 L284.05,451.07 L283.78,450.26 L283.53,449.45 L283.28,448.63 L283.01,447.82 L282.72,447.00 L282.43,446.19 L282.14,445.38 L281.86,444.56 L281.59,443.75 L281.36,442.93 L281.15,442.12 L280.98,441.31 L280.87,440.49 L280.81,439.68 L280.80,438.86 L280.80,438.05 L280.81,437.23 L280.82,436.42 L280.83,435.61 L280.85,434.79 L280.87,433.98 L280.88,433.16 L280.90,432.35 L280.94,431.54 L280.99,430.72 L281.06,429.91 L281.14,429.09 L281.24,428.28 L281.36,427.46 L281.48,426.65 L281.61,425.84 L281.75,425.02 L281.90,424.21 L282.05,423.39 L282.21,422.58 L282.37,421.77 L282.53,420.95 L282.70,420.14 L282.89,419.32 L283.12,418.51 L283.36,417.69 L283.62,416.88 L283.90,416.07 L284.18,415.25 L284.46,414.44 L284.74,413.62 L285.01,412.81 L285.27,412.00 L285.50,411.18 L285.71,410.37 L285.92,409.55 L286.14,408.74 L286.35,407.93 L286.55,407.11Z" fill="url(#vg5)"/>
<path d="M284.9,420.1h0.6v0.6h-0.6zM279.8,425.7h0.6v0.6h-0.6zM285.3,429.5h0.6v0.6h-0.6zM290.1,440.9h0.6v0.6h-0.6zM292.6,452.9h0.6v0.6h-0.6zM288.7,423.8h0.6v0.6h-0.6zM291.4,440.0h0.6v0.6h-0.6zM284.6,418.3h0.6v0.6h-0.6zM284.4,437.2h0.6v0.6h-0.6zM285.8,450.3h0.6v0.6h-0.6zM280.7,440.5h0.6v0.6h-0.6zM294.1,449.1h0.6v0.6h-0.6zM284.8,454.9h0.6v0.6h-0.6zM294.3,445.6h0.6v0.6h-0.6zM280.8,416.3h0.6v0.6h-0.6zM294.3,439.0h0.6v0.6h-0.6zM292.1,408.0h0.6v0.6h-0.6zM286.7,438.8h0.6v0.6h-0.6zM287.2,418.4h0.6v0.6h-0.6zM282.7,433.1h0.6v0.6h-0.6zM290.7,449.3h0.6v0.6h-0.6zM288.9,419.6h0.6v0.6h-0.6zM293.6,436.6h0.6v0.6h-0.6zM292.9,458.1h0.6v0.6h-0.6zM285.9,411.9h0.6v0.6h-0.6zM290.8,419.0h0.6v0.6h-0.6zM292.0,414.5h0.6v0.6h-0.6zM289.2,437.3h0.6v0.6h-0.6zM292.6,452.6h0.6v0.6h-0.6zM289.0,441.4h0.6v0.6h-0.6zM287.4,434.8h0.6v0.6h-0.6zM282.6,407.5h0.6v0.6h-0.6zM285.8,439.9h0.6v0.6h-0.6zM292.2,431.4h0.6v0.6h-0.6zM290.5,429.0h0.6v0.6h-0.6zM292.0,444.3h0.6v0.6h-0.6zM288.7,422.9h0.6v0.6h-0.6zM288.4,432.0h0.6v0.6h-0.6zM282.5,414.8h0.6v0.6h-0.6zM291.3,423.4h0.6v0.6h-0.6zM285.4,443.4h0.6v0.6h-0.6zM286.2,436.9h0.6v0.6h-0.6zM283.6,434.5h0.6v0.6h-0.6zM293.9,427.4h0.6v0.6h-0.6zM281.5,448.3h0.6v0.6h-0.6zM292.5,417.0h0.6v0.6h-0.6zM289.2,431.1h0.6v0.6h-0.6zM288.6,436.8h0.6v0.6h-0.6zM282.0,449.6h0.6v0.6h-0.6zM283.5,447.0h0.6v0.6h-0.6zM284.1,414.0h0.6v0.6h-0.6zM291.6,433.7h0.6v0.6h-0.6zM294.1,436.0h0.6v0.6h-0.6zM285.3,420.8h0.6v0.6h-0.6zM288.4,435.8h0.6v0.6h-0.6zM287.2,440.1h0.6v0.6h-0.6zM291.3,415.9h0.6v0.6h-0.6zM280.8,443.9h0.6v0.6h-0.6zM279.8,444.7h0.6v0.6h-0.6zM288.9,439.7h0.6v0.6h-0.6zM281.0,425.5h0.6v0.6h-0.6zM289.0,423.9h0.6v0.6h-0.6zM291.7,434.3h0.6v0.6h-0.6zM288.9,419.9h0.6v0.6h-0.6zM280.3,425.8h0.6v0.6h-0.6zM281.3,420.7h0.6v0.6h-0.6zM280.3,419.3h0.6v0.6h-0.6zM285.0,456.7h0.6v0.6h-0.6zM285.9,442.4h0.6v0.6h-0.6zM283.4,433.5h0.6v0.6h-0.6zM282.8,452.6h0.6v0.6h-0.6zM291.2,454.2h0.6v0.6h-0.6zM281.1,447.1h0.6v0.6h-0.6zM289.4,460.4h0.6v0.6h-0.6zM288.1,436.0h0.6v0.6h-0.6zM293.8,431.2h0.6v0.6h-0.6zM293.8,458.0h0.6v0.6h-0.6zM287.5,418.3h0.6v0.6h-0.6zM282.4,440.3h0.6v0.6h-0.6zM290.8,448.7h0.6v0.6h-0.6zM284.1,417.1h0.6v0.6h-0.6zM292.7,439.6h0.6v0.6h-0.6zM283.8,468.6h0.6v0.6h-0.6zM288.4,445.7h0.6v0.6h-0.6zM283.3,428.1h0.6v0.6h-0.6zM280.2,416.2h0.6v0.6h-0.6zM281.5,430.6h0.6v0.6h-0.6zM284.5,421.5h0.6v0.6h-0.6zM282.7,418.0h0.6v0.6h-0.6zM294.1,423.8h0.6v0.6h-0.6zM288.8,430.4h0.6v0.6h-0.6zM293.9,434.6h0.6v0.6h-0.6zM293.4,445.3h0.6v0.6h-0.6zM290.6,447.6h0.6v0.6h-0.6zM284.6,447.8h0.6v0.6h-0.6zM284.6,437.0h0.6v0.6h-0.6zM283.7,451.0h0.6v0.6h-0.6zM283.2,469.6h0.6v0.6h-0.6zM290.7,427.2h0.6v0.6h-0.6zM282.9,435.7h0.6v0.6h-0.6zM292.7,417.5h0.6v0.6h-0.6zM287.2,421.6h0.6v0.6h-0.6zM286.9,445.8h0.6v0.6h-0.6zM282.1,432.3h0.6v0.6h-0.6zM288.6,451.8h0.6v0.6h-0.6zM285.5,439.1h0.6v0.6h-0.6zM285.3,440.7h0.6v0.6h-0.6zM285.0,420.3h0.6v0.6h-0.6zM292.5,442.6h0.6v0.6h-0.6zM289.5,433.6h0.6v0.6h-0.6zM289.3,451.7h0.6v0.6h-0.6zM283.4,456.8h0.6v0.6h-0.6zM290.8,447.6h0.6v0.6h-0.6zM288.5,435.7h0.6v0.6h-0.6zM279.9,419.7h0.6v0.6h-0.6zM292.9,408.2h0.6v0.6h-0.6zM288.6,429.4h0.6v0.6h-0.6zM292.7,431.1h0.6v0.6h-0.6zM285.2,441.6h0.6v0.6h-0.6zM282.9,438.1h0.6v0.6h-0.6zM282.1,452.5h0.6v0.6h-0.6zM287.6,450.0h0.6v0.6h-0.6zM294.3,418.7h0.6v0.6h-0.6zM289.7,421.3h0.6v0.6h-0.6zM281.7,424.0h0.6v0.6h-0.6zM292.9,443.8h0.6v0.6h-0.6zM289.7,448.7h0.6v0.6h-0.6zM282.0,438.2h0.6v0.6h-0.6zM284.6,468.5h0.6v0.6h-0.6zM280.1,438.1h0.6v0.6h-0.6zM287.4,426.3h0.6v0.6h-0.6zM285.8,432.2h0.6v0.6h-0.6zM280.0,428.9h0.6v0.6h-0.6zM284.9,438.3h0.6v0.6h-0.6zM285.2,416.7h0.6v0.6h-0.6zM290.7,439.2h0.6v0.6h-0.6zM281.4,430.1h0.6v0.6h-0.6zM288.6,437.6h0.6v0.6h-0.6zM294.1,432.5h0.6v0.6h-0.6zM287.4,428.3h0.6v0.6h-0.6zM281.7,407.9h0.6v0.6h-0.6zM282.5,421.0h0.6v0.6h-0.6zM281.3,420.1h0.6v0.6h-0.6zM288.4,450.6h0.6v0.6h-0.6zM288.0,432.8h0.6v0.6h-0.6zM292.5,425.0h0.6v0.6h-0.6zM286.0,441.6h0.6v0.6h-0.6zM279.7,404.1h0.6v0.6h-0.6zM290.4,409.0h0.6v0.6h-0.6zM286.4,408.1h0.6v0.6h-0.6zM285.2,433.8h0.6v0.6h-0.6zM293.6,425.6h0.6v0.6h-0.6zM290.9,453.6h0.6v0.6h-0.6zM293.8,434.5h0.6v0.6h-0.6zM283.1,440.3h0.6v0.6h-0.6zM281.9,418.3h0.6v0.6h-0.6zM285.5,416.1h0.6v0.6h-0.6zM282.8,437.0h0.6v0.6h-0.6zM284.7,414.4h0.6v0.6h-0.6zM292.7,431.6h0.6v0.6h-0.6zM291.9,448.7h0.6v0.6h-0.6zM291.9,424.0h0.6v0.6h-0.6zM288.4,424.9h0.6v0.6h-0.6zM283.1,434.4h0.6v0.6h-0.6zM283.6,434.6h0.6v0.6h-0.6zM283.2,444.0h0.6v0.6h-0.6zM282.5,443.4h0.6v0.6h-0.6zM286.2,394.3h0.6v0.6h-0.6zM289.1,448.1h0.6v0.6h-0.6zM287.2,423.7h0.6v0.6h-0.6zM289.5,426.9h0.6v0.6h-0.6zM282.2,425.2h0.6v0.6h-0.6zM280.3,469.2h0.6v0.6h-0.6zM284.4,418.0h0.6v0.6h-0.6zM287.9,426.9h0.6v0.6h-0.6zM282.0,433.0h0.6v0.6h-0.6zM290.2,445.4h0.6v0.6h-0.6zM282.2,420.5h0.6v0.6h-0.6zM287.3,416.6h0.6v0.6h-0.6zM290.4,438.0h0.6v0.6h-0.6zM292.5,423.1h0.6v0.6h-0.6zM286.7,449.4h0.6v0.6h-0.6zM282.3,417.1h0.6v0.6h-0.6zM280.7,441.0h0.6v0.6h-0.6zM290.3,437.6h0.6v0.6h-0.6zM281.9,402.8h0.6v0.6h-0.6zM286.2,423.2h0.6v0.6h-0.6zM291.5,446.4h0.6v0.6h-0.6zM279.9,429.1h0.6v0.6h-0.6zM282.6,434.6h0.6v0.6h-0.6zM293.5,425.2h0.6v0.6h-0.6zM285.5,425.2h0.6v0.6h-0.6zM293.5,439.3h0.6v0.6h-0.6zM288.4,412.6h0.6v0.6h-0.6zM281.6,438.9h0.6v0.6h-0.6zM284.6,415.9h0.6v0.6h-0.6zM290.0,427.2h0.6v0.6h-0.6zM289.5,455.5h0.6v0.6h-0.6zM294.5,430.6h0.6v0.6h-0.6zM286.2,451.7h0.6v0.6h-0.6zM287.4,432.1h0.6v0.6h-0.6zM289.2,416.2h0.6v0.6h-0.6zM286.7,440.7h0.6v0.6h-0.6zM293.1,436.2h0.6v0.6h-0.6zM289.9,437.5h0.6v0.6h-0.6zM290.6,448.2h0.6v0.6h-0.6zM293.9,431.6h0.6v0.6h-0.6zM280.9,452.8h0.6v0.6h-0.6zM282.2,469.8h0.6v0.6h-0.6zM289.2,448.0h0.6v0.6h-0.6zM284.8,443.3h0.6v0.6h-0.6zM282.3,425.1h0.6v0.6h-0.6zM281.4,417.2h0.6v0.6h-0.6zM291.8,419.8h0.6v0.6h-0.6zM292.4,434.5h0.6v0.6h-0.6zM286.2,460.2h0.6v0.6h-0.6zM293.0,420.2h0.6v0.6h-0.6zM287.3,416.7h0.6v0.6h-0.6zM281.5,446.2h0.6v0.6h-0.6zM289.3,424.3h0.6v0.6h-0.6zM292.5,415.6h0.6v0.6h-0.6zM287.9,442.0h0.6v0.6h-0.6zM281.8,443.2h0.6v0.6h-0.6zM287.7,446.3h0.6v0.6h-0.6zM291.7,428.9h0.6v0.6h-0.6zM280.3,431.6h0.6v0.6h-0.6zM280.2,440.2h0.6v0.6h-0.6zM282.9,435.4h0.6v0.6h-0.6zM285.9,429.9h0.6v0.6h-0.6zM289.1,440.2h0.6v0.6h-0.6zM283.1,427.7h0.6v0.6h-0.6zM280.7,443.2h0.6v0.6h-0.6zM290.5,436.1h0.6v0.6h-0.6zM280.1,437.7h0.6v0.6h-0.6zM289.2,414.5h0.6v0.6h-0.6zM289.1,443.6h0.6v0.6h-0.6zM290.1,459.3h0.6v0.6h-0.6zM293.9,430.5h0.6v0.6h-0.6zM281.3,423.0h0.6v0.6h-0.6zM280.1,429.2h0.6v0.6h-0.6zM287.6,435.6h0.6v0.6h-0.6zM288.7,420.8h0.6v0.6h-0.6zM290.0,432.0h0.6v0.6h-0.6zM291.5,443.7h0.6v0.6h-0.6zM281.2,439.7h0.6v0.6h-0.6zM289.6,435.8h0.6v0.6h-0.6zM285.2,421.1h0.6v0.6h-0.6zM283.7,433.9h0.6v0.6h-0.6zM283.9,414.5h0.6v0.6h-0.6zM291.1,430.0h0.6v0.6h-0.6zM292.2,459.8h0.6v0.6h-0.6zM294.3,448.8h0.6v0.6h-0.6zM288.9,433.6h0.6v0.6h-0.6zM290.4,407.5h0.6v0.6h-0.6zM284.8,445.7h0.6v0.6h-0.6zM281.1,437.1h0.6v0.6h-0.6zM286.0,452.0h0.6v0.6h-0.6zM283.0,431.6h0.6v0.6h-0.6zM293.8,447.5h0.6v0.6h-0.6zM287.4,430.0h0.6v0.6h-0.6zM290.1,425.1h0.6v0.6h-0.6zM292.2,437.4h0.6v0.6h-0.6zM287.2,400.8h0.6v0.6h-0.6zM280.1,455.5h0.6v0.6h-0.6zM285.3,437.6h0.6v0.6h-0.6zM284.1,416.8h0.6v0.6h-0.6zM282.9,454.6h0.6v0.6h-0.6zM292.5,432.2h0.6v0.6h-0.6zM280.0,416.4h0.6v0.6h-0.6zM288.9,436.8h0.6v0.6h-0.6zM292.1,409.5h0.6v0.6h-0.6zM288.5,442.8h0.6v0.6h-0.6zM293.4,423.3h0.6v0.6h-0.6zM294.5,422.3h0.6v0.6h-0.6zM293.2,435.0h0.6v0.6h-0.6zM288.7,434.8h0.6v0.6h-0.6zM286.2,452.3h0.6v0.6h-0.6zM294.0,426.2h0.6v0.6h-0.6zM281.6,465.9h0.6v0.6h-0.6zM291.0,446.9h0.6v0.6h-0.6zM283.2,421.8h0.6v0.6h-0.6zM292.1,412.3h0.6v0.6h-0.6zM292.1,414.4h0.6v0.6h-0.6zM294.3,443.9h0.6v0.6h-0.6zM291.7,416.6h0.6v0.6h-0.6zM281.3,414.6h0.6v0.6h-0.6zM281.8,446.2h0.6v0.6h-0.6zM294.3,441.6h0.6v0.6h-0.6zM286.0,432.5h0.6v0.6h-0.6zM289.1,448.9h0.6v0.6h-0.6zM289.9,459.1h0.6v0.6h-0.6zM280.4,431.2h0.6v0.6h-0.6zM290.9,448.8h0.6v0.6h-0.6zM289.9,418.2h0.6v0.6h-0.6zM286.2,424.4h0.6v0.6h-0.6zM280.9,419.3h0.6v0.6h-0.6zM290.3,432.0h0.6v0.6h-0.6zM292.3,440.7h0.6v0.6h-0.6zM290.7,450.1h0.6v0.6h-0.6zM291.2,423.6h0.6v0.6h-0.6zM281.4,441.5h0.6v0.6h-0.6zM293.2,398.6h0.6v0.6h-0.6zM292.6,419.9h0.6v0.6h-0.6zM285.9,452.8h0.6v0.6h-0.6zM280.8,434.1h0.6v0.6h-0.6zM292.3,414.1h0.6v0.6h-0.6zM283.5,437.5h0.6v0.6h-0.6zM280.8,420.9h0.6v0.6h-0.6zM283.7,442.7h0.6v0.6h-0.6zM291.9,411.8h0.6v0.6h-0.6zM282.2,426.2h0.6v0.6h-0.6zM285.1,435.5h0.6v0.6h-0.6zM286.5,434.1h0.6v0.6h-0.6zM283.6,434.6h0.6v0.6h-0.6zM293.8,433.2h0.6v0.6h-0.6zM285.9,421.8h0.6v0.6h-0.6zM286.4,431.8h0.6v0.6h-0.6zM289.0,427.3h0.6v0.6h-0.6zM281.9,451.6h0.6v0.6h-0.6zM294.2,431.2h0.6v0.6h-0.6zM290.0,389.2h0.6v0.6h-0.6zM287.2,428.3h0.6v0.6h-0.6zM283.5,441.2h0.6v0.6h-0.6zM289.2,413.1h0.6v0.6h-0.6zM286.4,460.9h0.6v0.6h-0.6zM287.3,451.8h0.6v0.6h-0.6zM289.5,439.5h0.6v0.6h-0.6zM289.3,442.8h0.6v0.6h-0.6zM290.2,439.8h0.6v0.6h-0.6zM292.8,423.7h0.6v0.6h-0.6zM287.1,437.0h0.6v0.6h-0.6zM284.8,437.8h0.6v0.6h-0.6zM293.2,423.1h0.6v0.6h-0.6zM285.0,421.9h0.6v0.6h-0.6zM287.0,436.4h0.6v0.6h-0.6zM283.7,415.3h0.6v0.6h-0.6zM281.7,442.7h0.6v0.6h-0.6zM281.3,432.5h0.6v0.6h-0.6zM294.2,414.0h0.6v0.6h-0.6zM286.6,431.0h0.6v0.6h-0.6zM282.1,413.8h0.6v0.6h-0.6zM293.5,433.7h0.6v0.6h-0.6zM285.6,452.0h0.6v0.6h-0.6zM283.0,433.6h0.6v0.6h-0.6zM281.7,445.6h0.6v0.6h-0.6zM282.5,425.9h0.6v0.6h-0.6zM292.5,441.7h0.6v0.6h-0.6zM284.6,431.0h0.6v0.6h-0.6zM281.2,450.4h0.6v0.6h-0.6zM284.4,442.7h0.6v0.6h-0.6zM283.5,449.8h0.6v0.6h-0.6zM292.3,447.6h0.6v0.6h-0.6zM282.7,426.2h0.6v0.6h-0.6zM280.8,437.9h0.6v0.6h-0.6zM284.3,435.9h0.6v0.6h-0.6zM281.3,439.1h0.6v0.6h-0.6zM283.7,439.9h0.6v0.6h-0.6zM290.4,435.8h0.6v0.6h-0.6zM284.5,419.7h0.6v0.6h-0.6zM289.9,440.8h0.6v0.6h-0.6zM280.1,448.7h0.6v0.6h-0.6zM284.9,429.1h0.6v0.6h-0.6zM287.1,448.3h0.6v0.6h-0.6zM282.1,426.8h0.6v0.6h-0.6zM284.7,431.1h0.6v0.6h-0.6zM289.0,403.3h0.6v0.6h-0.6zM285.7,448.6h0.6v0.6h-0.6zM292.7,431.4h0.6v0.6h-0.6zM293.9,453.7h0.6v0.6h-0.6zM282.4,442.0h0.6v0.6h-0.6zM284.7,428.1h0.6v0.6h-0.6zM291.3,444.2h0.6v0.6h-0.6zM282.0,444.9h0.6v0.6h-0.6zM294.4,422.5h0.6v0.6h-0.6zM288.5,427.2h0.6v0.6h-0.6zM290.3,430.5h0.6v0.6h-0.6zM291.6,391.7h0.6v0.6h-0.6zM290.0,449.9h0.6v0.6h-0.6zM290.0,427.7h0.6v0.6h-0.6zM291.1,421.8h0.6v0.6h-0.6zM288.5,444.1h0.6v0.6h-0.6zM290.0,442.2h0.6v0.6h-0.6zM293.1,442.9h0.6v0.6h-0.6zM293.2,442.5h0.6v0.6h-0.6zM280.9,440.7h0.6v0.6h-0.6zM293.2,421.3h0.6v0.6h-0.6zM292.5,415.0h0.6v0.6h-0.6zM281.8,440.9h0.6v0.6h-0.6zM290.3,448.4h0.6v0.6h-0.6zM284.8,422.1h0.6v0.6h-0.6zM288.9,439.5h0.6v0.6h-0.6zM292.3,436.1h0.6v0.6h-0.6zM292.4,426.4h0.6v0.6h-0.6zM292.3,454.9h0.6v0.6h-0.6zM283.3,430.9h0.6v0.6h-0.6zM285.6,433.2h0.6v0.6h-0.6zM281.0,439.1h0.6v0.6h-0.6zM281.1,425.4h0.6v0.6h-0.6zM284.3,417.3h0.6v0.6h-0.6zM291.4,434.6h0.6v0.6h-0.6zM292.8,428.6h0.6v0.6h-0.6zM293.9,433.0h0.6v0.6h-0.6zM284.5,427.0h0.6v0.6h-0.6zM291.4,419.4h0.6v0.6h-0.6zM293.8,436.4h0.6v0.6h-0.6zM291.0,433.0h0.6v0.6h-0.6zM293.5,419.6h0.6v0.6h-0.6zM282.5,413.8h0.6v0.6h-0.6zM280.7,462.4h0.6v0.6h-0.6zM294.4,454.1h0.6v0.6h-0.6zM285.9,412.9h0.6v0.6h-0.6zM294.1,443.8h0.6v0.6h-0.6zM293.1,434.6h0.6v0.6h-0.6zM290.7,430.4h0.6v0.6h-0.6zM289.4,413.4h0.6v0.6h-0.6zM290.4,421.8h0.6v0.6h-0.6zM280.1,424.9h0.6v0.6h-0.6zM283.1,431.3h0.6v0.6h-0.6zM279.8,433.4h0.6v0.6h-0.6zM283.0,430.7h0.6v0.6h-0.6z" fill="#000" opacity="0.4"/>
<line x1="281.30" y1="436.70" x2="292.90" y2="436.70" stroke="#eee" stroke-width="1.5"/>
<line x1="302.50" y1="406.00" x2="302.50" y2="470.70" stroke="#7a7a7a" stroke-width="1.0"/>
<path d="M303.19,416.46 L303.39,417.11 L303.60,417.76 L303.81,418.42 L304.02,419.07 L304.22,419.72 L304.42,420.38 L304.65,421.03 L304.89,421.68 L305.15,422.34 L305.41,422.99 L305.69,423.65 L305.96,424.30 L306.23,424.95 L306.50,425.61 L306.76,426.26 L307.01,426.91 L307.24,427.57 L307.45,428.22 L307.64,428.87 L307.80,429.53 L307.93,430.18 L308.06,430.83 L308.17,431.49 L308.29,432.14 L308.39,432.79 L308.50,433.45 L308.59,434.10 L308.68,434.76 L308.77,435.41 L308.84,436.06 L308.91,436.72 L308.98,437.37 L309.03,438.02 L309.08,438.68 L309.12,439.33 L309.16,439.98 L309.20,440.64 L309.23,441.29 L309.27,441.94 L309.30,442.60 L309.33,443.25 L309.35,443.91 L309.37,444.56 L309.39,445.21 L309.40,445.87 L309.40,446.52 L309.37,447.17 L309.28,447.83 L309.13,448.48 L308.93,449.13 L308.71,449.79 L308.45,450.44 L308.19,451.09 L307.93,451.75 L307.67,452.40 L307.43,453.05 L307.15,453.71 L306.84,454.36 L306.51,455.02 L306.17,455.67 L305.83,456.32 L305.48,456.98 L305.14,457.63 L304.82,458.28 L304.52,458.94 L304.25,459.59 L304.01,460.24 L303.76,460.90 L303.51,461.55 L303.27,462.20 L303.06,462.86 L301.94,462.86 L301.73,462.20 L301.49,461.55 L301.24,460.90 L300.99,460.24 L300.75,459.59 L300.48,458.94 L300.18,458.28 L299.86,457.63 L299.52,456.98 L299.17,456.32 L298.83,455.67 L298.49,455.02 L298.16,454.36 L297.85,453.71 L297.57,453.05 L297.33,452.40 L297.07,451.75 L296.81,451.09 L296.55,450.44 L296.29,449.79 L296.07,449.13 L295.87,448.48 L295.72,447.83 L295.63,447.17 L295.60,446.52 L295.60,445.87 L295.61,445.21 L295.63,444.56 L295.65,443.91 L295.67,443.25 L295.70,442.60 L295.73,441.94 L295.77,441.29 L295.80,440.64 L295.84,439.98 L295.88,439.33 L295.92,438.68 L295.97,438.02 L296.02,437.37 L296.09,436.72 L296.16,436.06 L296.23,435.41 L296.32,434.76 L296.41,434.10 L296.50,433.45 L296.61,432.79 L296.71,432.14 L296.83,431.49 L296.94,430.83 L297.07,430.18 L297.20,429.53 L297.36,428.87 L297.55,428.22 L297.76,427.57 L297.99,426.91 L298.24,426.26 L298.50,425.61 L298.77,424.95 L299.04,424.30 L299.31,423.65 L299.59,422.99 L299.85,422.34 L300.11,421.68 L300.35,421.03 L300.58,420.38 L300.78,419.72 L300.98,419.07 L301.19,418.42 L301.40,417.76 L301.61,417.11 L301.81,416.46Z" fill="#9b74c8" stroke="#3a3a3a" stroke-width="0.45"/>
<path d="M303.19,416.46 L303.39,417.11 L303.60,417.76 L303.81,418.42 L304.02,419.07 L304.22,419.72 L304.42,420.38 L304.65,421.03 L304.89,421.68 L305.15,422.34 L305.41,422.99 L305.69,423.65 L305.96,424.30 L306.23,424.95 L306.50,425.61 L306.76,426.26 L307.01,426.91 L307.24,427.57 L307.45,428.22 L307.64,428.87 L307.80,429.53 L307.93,430.18 L308.06,430.83 L308.17,431.49 L308.29,432.14 L308.39,432.79 L308.50,433.45 L308.59,434.10 L308.68,434.76 L308.77,435.41 L308.84,436.06 L308.91,436.72 L308.98,437.37 L309.03,438.02 L309.08,438.68 L309.12,439.33 L309.16,439.98 L309.20,440.64 L309.23,441.29 L309.27,441.94 L309.30,442.60 L309.33,443.25 L309.35,443.91 L309.37,444.56 L309.39,445.21 L309.40,445.87 L309.40,446.52 L309.37,447.17 L309.28,447.83 L309.13,448.48 L308.93,449.13 L308.71,449.79 L308.45,450.44 L308.19,451.09 L307.93,451.75 L307.67,452.40 L307.43,453.05 L307.15,453.71 L306.84,454.36 L306.51,455.02 L306.17,455.67 L305.83,456.32 L305.48,456.98 L305.14,457.63 L304.82,458.28 L304.52,458.94 L304.25,459.59 L304.01,460.24 L303.76,460.90 L303.51,461.55 L303.27,462.20 L303.06,462.86 L301.94,462.86 L301.73,462.20 L301.49,461.55 L301.24,460.90 L300.99,460.24 L300.75,459.59 L300.48,458.94 L300.18,458.28 L299.86,457.63 L299.52,456.98 L299.17,456.32 L298.83,455.67 L298.49,455.02 L298.16,454.36 L297.85,453.71 L297.57,453.05 L297.33,452.40 L297.07,451.75 L296.81,451.09 L296.55,450.44 L296.29,449.79 L296.07,449.13 L295.87,448.48 L295.72,447.83 L295.63,447.17 L295.60,446.52 L295.60,445.87 L295.61,445.21 L295.63,444.56 L295.65,443.91 L295.67,443.25 L295.70,442.60 L295.73,441.94 L295.77,441.29 L295.80,440.64 L295.84,439.98 L295.88,439.33 L295.92,438.68 L295.97,438.02 L296.02,437.37 L296.09,436.72 L296.16,436.06 L296.23,435.41 L296.32,434.76 L296.41,434.10 L296.50,433.45 L296.61,432.79 L296.71,432.14 L296.83,431.49 L296.94,430.83 L297.07,430.18 L297.20,429.53 L297.36,428.87 L297.55,428.22 L297.76,427.57 L297.99,426.91 L298.24,426.26 L298.50,425.61 L298.77,424.95 L299.04,424.30 L299.31,423.65 L299.59,422.99 L299.85,422.34 L300.11,421.68 L300.35,421.03 L300.58,420.38 L300.78,419.72 L300.98,419.07 L301.19,418.42 L301.40,417.76 L301.61,417.11 L301.81,416.46Z" fill="url(#vg6)"/>
<line x1="296.70" y1="443.60" x2="308.30" y2="443.60" stroke="#eee" stroke-width="1.5"/>
<line x1="317.80" y1="417.30" x2="317.80" y2="472.90" stroke="#7a7a7a" stroke-width="1.0"/>
<path d="M318.40,417.30 L318.40,417.86 L318.40,418.42 L318.40,418.98 L318.40,419.55 L318.40,420.11 L318.40,420.67 L318.41,421.23 L318.41,421.79 L318.41,422.35 L318.41,422.92 L318.42,423.48 L318.42,424.04 L318.42,424.60 L318.43,425.16 L318.43,425.72 L318.44,426.29 L318.45,426.85 L318.49,427.41 L318.64,427.97 L318.81,428.53 L318.99,429.09 L319.21,429.66 L319.45,430.22 L319.71,430.78 L319.98,431.34 L320.27,431.90 L320.55,432.46 L320.83,433.03 L321.11,433.59 L321.36,434.15 L321.59,434.71 L321.83,435.27 L322.08,435.83 L322.33,436.39 L322.58,436.96 L322.84,437.52 L323.08,438.08 L323.32,438.64 L323.54,439.20 L323.73,439.76 L323.91,440.33 L324.05,440.89 L324.17,441.45 L324.24,442.01 L324.29,442.57 L324.33,443.13 L324.38,443.70 L324.41,444.26 L324.45,444.82 L324.48,445.38 L324.50,445.94 L324.52,446.50 L324.54,447.07 L324.55,447.63 L324.55,448.19 L324.53,448.75 L324.49,449.31 L324.42,449.87 L324.33,450.44 L324.22,451.00 L324.10,451.56 L323.97,452.12 L323.82,452.68 L323.67,453.24 L323.52,453.81 L323.37,454.37 L323.22,454.93 L323.08,455.49 L322.93,456.05 L322.78,456.61 L322.62,457.17 L322.44,457.74 L322.26,458.30 L322.07,458.86 L321.88,459.42 L321.69,459.98 L321.49,460.54 L321.30,461.11 L321.11,461.67 L320.92,462.23 L320.73,462.79 L320.55,463.35 L320.37,463.91 L320.18,464.48 L319.99,465.04 L319.81,465.60 L319.62,466.16 L319.44,466.72 L319.27,467.28 L319.10,467.85 L318.95,468.41 L318.81,468.97 L318.68,469.53 L318.56,470.09 L318.44,470.65 L317.16,470.65 L317.04,470.09 L316.92,469.53 L316.79,468.97 L316.65,468.41 L316.50,467.85 L316.33,467.28 L316.16,466.72 L315.98,466.16 L315.79,465.60 L315.61,465.04 L315.42,464.48 L315.23,463.91 L315.05,463.35 L314.87,462.79 L314.68,462.23 L314.49,461.67 L314.30,461.11 L314.11,460.54 L313.91,459.98 L313.72,459.42 L313.53,458.86 L313.34,458.30 L313.16,457.74 L312.98,457.17 L312.82,456.61 L312.67,456.05 L312.52,455.49 L312.38,454.93 L312.23,454.37 L312.08,453.81 L311.93,453.24 L311.78,452.68 L311.63,452.12 L311.50,451.56 L311.38,451.00 L311.27,450.44 L311.18,449.87 L311.11,449.31 L311.07,448.75 L311.05,448.19 L311.05,447.63 L311.06,447.07 L311.08,446.50 L311.10,445.94 L311.12,445.38 L311.15,444.82 L311.19,444.26 L311.22,443.70 L311.27,443.13 L311.31,442.57 L311.36,442.01 L311.43,441.45 L311.55,440.89 L311.69,440.33 L311.87,439.76 L312.06,439.20 L312.28,438.64 L312.52,438.08 L312.76,437.52 L313.02,436.96 L313.27,436.39 L313.52,435.83 L313.77,435.27 L314.01,434.71 L314.24,434.15 L314.49,433.59 L314.77,433.03 L315.05,432.46 L315.33,431.90 L315.62,431.34 L315.89,430.78 L316.15,430.22 L316.39,429.66 L316.61,429.09 L316.79,428.53 L316.96,427.97 L317.11,427.41 L317.15,426.85 L317.16,426.29 L317.17,425.72 L317.17,425.16 L317.18,424.60 L317.18,424.04 L317.18,423.48 L317.19,422.92 L317.19,422.35 L317.19,421.79 L317.19,421.23 L317.20,420.67 L317.20,420.11 L317.20,419.55 L317.20,418.98 L317.20,418.42 L317.20,417.86 L317.20,417.30Z" fill="#d960a8" stroke="#3a3a3a" stroke-width="0.45"/>
<line x1="312.00" y1="447.40" x2="323.60" y2="447.40" stroke="#eee" stroke-width="1.5"/>
<defs><linearGradient id="vg0" gradientUnits="userSpaceOnUse" x1="0" y1="378.00" x2="0" y2="462.00"><stop offset="0.000" stop-color="#000" stop-opacity="0.000"/><stop offset="0.051" stop-color="#000" stop-opacity="0.000"/><stop offset="0.101" stop-color="#000" stop-opacity="0.000"/><stop offset="0.152" stop-color="#000" stop-opacity="0.000"/><stop offset="0.202" stop-color="#000" stop-opacity="0.000"/><stop offset="0.253" stop-color="#000" stop-opacity="0.003"/><stop offset="0.303" stop-color="#000" stop-opacity="0.014"/><stop offset="0.354" stop-color="#000" stop-opacity="0.040"/><stop offset="0.404" stop-color="#000" stop-opacity="0.096"/><stop offset="0.455" stop-color="#000" stop-opacity="0.146"/><stop offset="0.505" stop-color="#000" stop-opacity="0.179"/><stop offset="0.556" stop-color="#000" stop-opacity="0.199"/><stop offset="0.606" stop-color="#000" stop-opacity="0.187"/><stop offset="0.657" stop-color="#000" stop-opacity="0.145"/><stop offset="0.707" stop-color="#000" stop-opacity="0.100"/><stop offset="0.758" stop-color="#000" stop-opacity="0.051"/><stop offset="0.808" stop-color="#000" stop-opacity="0.017"/><stop offset="0.859" stop-color="#000" stop-opacity="0.001"/><stop offset="0.909" stop-color="#000" stop-opacity="0.000"/><stop offset="0.960" stop-color="#000" stop-opacity="0.000"/></linearGradient><linearGradient id="cg0" x1="0" y1="0" x2="0" y2="1"><stop offset="0.000" stop-color="#000" stop-opacity="0.000"/><stop offset="0.051" stop-color="#000" stop-opacity="0.000"/><stop offset="0.101" stop-color="#000" stop-opacity="0.000"/><stop offset="0.152" stop-color="#000" stop-opacity="0.000"/><stop offset="0.202" stop-color="#000" stop-opacity="0.006"/><stop offset="0.253" stop-color="#000" stop-opacity="0.070"/><stop offset="0.303" stop-color="#000" stop-opacity="0.156"/><stop offset="0.354" stop-color="#000" stop-opacity="0.268"/><stop offset="0.404" stop-color="#000" stop-opacity="0.400"/><stop offset="0.455" stop-color="#000" stop-opacity="0.400"/><stop offset="0.505" stop-color="#000" stop-opacity="0.400"/><stop offset="0.556" stop-color="#000" stop-opacity="0.400"/><stop offset="0.606" stop-color="#000" stop-opacity="0.400"/><stop offset="0.657" stop-color="#000" stop-opacity="0.400"/><stop offset="0.707" stop-color="#000" stop-opacity="0.400"/><stop offset="0.758" stop-color="#000" stop-opacity="0.302"/><stop offset="0.808" stop-color="#000" stop-opacity="0.175"/><stop offset="0.859" stop-color="#000" stop-opacity="0.050"/><stop offset="0.909" stop-color="#000" stop-opacity="0.000"/><stop offset="0.960" stop-color="#000" stop-opacity="0.000"/></linearGradient><linearGradient id="vg1" gradientUnits="userSpaceOnUse" x1="0" y1="383.00" x2="0" y2="473.00"><stop offset="0.000" stop-color="#000" stop-opacity="0.000"/><stop offset="0.051" stop-color="#000" stop-opacity="0.000"/><stop offset="0.101" stop-color="#000" stop-opacity="0.000"/><stop offset="0.152" stop-color="#000" stop-opacity="0.000"/><stop offset="0.202" stop-color="#000" stop-opacity="0.006"/><stop offset="0.253" stop-color="#000" stop-opacity="0.033"/><stop offset="0.303" stop-color="#000" stop-opacity="0.080"/><stop offset="0.354" stop-color="#000" stop-opacity="0.152"/><stop offset="0.404" stop-color="#000" stop-opacity="0.242"/><stop offset="0.455" stop-color="#000" stop-opacity="0.306"/><stop offset="0.505" stop-color="#000" stop-opacity="0.351"/><stop offset="0.556" stop-color="#000" stop-opacity="0.352"/><stop offset="0.606" stop-color="#000" stop-opacity="0.292"/><stop offset="0.657" stop-color="#000" stop-opacity="0.213"/><stop offset="0.707" stop-color="#000" stop-opacity="0.127"/><stop offset="0.758" stop-color="#000" stop-opacity="0.049"/><stop offset="0.808" stop-color="#000" stop-opacity="0.010"/><stop offset="0.859" stop-color="#000" stop-opacity="0.000"/><stop offset="0.909" stop-color="#000" stop-opacity="0.000"/><stop offset="0.960" stop-color="#000" stop-opacity="0.000"/></linearGradient><linearGradient id="cg1" x1="0" y1="0" x2="0" y2="1"><stop offset="0.000" stop-color="#000" stop-opacity="0.000"/><stop offset="0.051" stop-color="#000" stop-opacity="0.000"/><stop offset="0.101" stop-color="#000" stop-opacity="0.000"/><stop offset="0.152" stop-color="#000" stop-opacity="0.000"/><stop offset="0.202" stop-color="#000" stop-opacity="0.078"/><stop offset="0.253" stop-color="#000" stop-opacity="0.180"/><stop offset="0.303" stop-color="#000" stop-opacity="0.282"/><stop offset="0.354" stop-color="#000" stop-opacity="0.390"/><stop offset="0.404" stop-color="#000" stop-opacity="0.400"/><stop offset="0.455" stop-color="#000" stop-opacity="0.400"/><stop offset="0.505" stop-color="#000" stop-opacity="0.400"/><stop offset="0.556" stop-color="#000" stop-opacity="0.400"/><stop offset="0.606" stop-color="#000" stop-opacity="0.400"/><stop offset="0.657" stop-color="#000" stop-opacity="0.400"/><stop offset="0.707" stop-color="#000" stop-opacity="0.356"/><stop offset="0.758" stop-color="#000" stop-opacity="0.221"/><stop offset="0.808" stop-color="#000" stop-opacity="0.099"/><stop offset="0.859" stop-color="#000" stop-opacity="0.005"/><stop offset="0.909" stop-color="#000" stop-opacity="0.000"/><stop offset="0.960" stop-color="#000" stop-opacity="0.000"/></linearGradient><linearGradient id="vg2" gradientUnits="userSpaceOnUse" x1="0" y1="401.20" x2="0" y2="462.70"><stop offset="0.000" stop-color="#000" stop-opacity="0.000"/><stop offset="0.051" stop-color="#000" stop-opacity="0.000"/><stop offset="0.101" stop-color="#000" stop-opacity="0.000"/><stop offset="0.152" stop-color="#000" stop-opacity="0.004"/><stop offset="0.202" stop-color="#000" stop-opacity="0.015"/><stop offset="0.253" stop-color="#000" stop-opacity="0.030"/><stop offset="0.303" stop-color="#000" stop-opacity="0.049"/><stop offset="0.354" stop-color="#000" stop-opacity="0.074"/><stop offset="0.404" stop-color="#000" stop-opacity="0.102"/><stop offset="0.455" stop-color="#000" stop-opacity="0.119"/><stop offset="0.505" stop-color="#000" stop-opacity="0.113"/><stop offset="0.556" stop-color="#000" stop-opacity="0.091"/><stop offset="0.606" stop-color="#000" stop-opacity="0.066"/><stop offset="0.657" stop-color="#000" stop-opacity="0.040"/><stop offset="0.707" stop-color="#000" stop-opacity="0.018"/><stop offset="0.758" stop-color="#000" stop-opacity="0.006"/><stop offset="0.808" stop-color="#000" stop-opacity="0.001"/><stop offset="0.859" stop-color="#000" stop-opacity="0.000"/><stop offset="0.909" stop-color="#000" stop-opacity="0.000"/><stop offset="0.960" stop-color="#000" stop-opacity="0.000"/></linearGradient><linearGradient id="cg2" x1="0" y1="0" x2="0" y2="1"><stop offset="0.000" stop-color="#000" stop-opacity="0.000"/><stop offset="0.051" stop-color="#000" stop-opacity="0.000"/><stop offset="0.101" stop-color="#000" stop-opacity="0.003"/><stop offset="0.152" stop-color="#000" stop-opacity="0.035"/><stop offset="0.202" stop-color="#000" stop-opacity="0.063"/><stop offset="0.253" stop-color="#000" stop-opacity="0.090"/><stop offset="0.303" stop-color="#000" stop-opacity="0.115"/><stop offset="0.354" stop-color="#000" stop-opacity="0.120"/><stop offset="0.404" stop-color="#000" stop-opacity="0.120"/><stop offset="0.455" stop-color="#000" stop-opacity="0.120"/><stop offset="0.505" stop-color="#000" stop-opacity="0.120"/><stop offset="0.556" stop-color="#000" stop-opacity="0.120"/><stop offset="0.606" stop-color="#000" stop-opacity="0.120"/><stop offset="0.657" stop-color="#000" stop-opacity="0.104"/><stop offset="0.707" stop-color="#000" stop-opacity="0.071"/><stop offset="0.758" stop-color="#000" stop-opacity="0.042"/><stop offset="0.808" stop-color="#000" stop-opacity="0.015"/><stop offset="0.859" stop-color="#000" stop-opacity="0.000"/><stop offset="0.909" stop-color="#000" stop-opacity="0.000"/><stop offset="0.960" stop-color="#000" stop-opacity="0.000"/></linearGradient><linearGradient id="vg3" gradientUnits="userSpaceOnUse" x1="0" y1="404.40" x2="0" y2="465.90"><stop offset="0.000" stop-color="#000" stop-opacity="0.000"/><stop offset="0.051" stop-color="#000" stop-opacity="0.000"/><stop offset="0.101" stop-color="#000" stop-opacity="0.000"/><stop offset="0.152" stop-color="#000" stop-opacity="0.003"/><stop offset="0.202" stop-color="#000" stop-opacity="0.012"/><stop offset="0.253" stop-color="#000" stop-opacity="0.031"/><stop offset="0.303" stop-color="#000" stop-opacity="0.055"/><stop offset="0.354" stop-color="#000" stop-opacity="0.078"/><stop offset="0.404" stop-color="#000" stop-opacity="0.103"/><stop offset="0.455" stop-color="#000" stop-opacity="0.119"/><stop offset="0.505" stop-color="#000" stop-opacity="0.112"/><stop offset="0.556" stop-color="#000" stop-opacity="0.085"/><stop offset="0.606" stop-color="#000" stop-opacity="0.058"/><stop offset="0.657" stop-color="#000" stop-opacity="0.032"/><stop offset="0.707" stop-color="#000" stop-opacity="0.012"/><stop offset="0.758" stop-color="#000" stop-opacity="0.004"/><stop offset="0.808" stop-color="#000" stop-opacity="0.001"/><stop offset="0.859" stop-color="#000" stop-opacity="0.000"/><stop offset="0.909" stop-color="#000" stop-opacity="0.000"/><stop offset="0.960" stop-color="#000" stop-opacity="0.000"/></linearGradient><linearGradient id="cg3" x1="0" y1="0" x2="0" y2="1"><stop offset="0.000" stop-color="#000" stop-opacity="0.000"/><stop offset="0.051" stop-color="#000" stop-opacity="0.000"/><stop offset="0.101" stop-color="#000" stop-opacity="0.000"/><stop offset="0.152" stop-color="#000" stop-opacity="0.027"/><stop offset="0.202" stop-color="#000" stop-opacity="0.057"/><stop offset="0.253" stop-color="#000" stop-opacity="0.091"/><stop offset="0.303" stop-color="#000" stop-opacity="0.120"/><stop offset="0.354" stop-color="#000" stop-opacity="0.120"/><stop offset="0.404" stop-color="#000" stop-opacity="0.120"/><stop offset="0.455" stop-color="#000" stop-opacity="0.120"/><stop offset="0.505" stop-color="#000" stop-opacity="0.120"/><stop offset="0.556" stop-color="#000" stop-opacity="0.120"/><stop offset="0.606" stop-color="#000" stop-opacity="0.120"/><stop offset="0.657" stop-color="#000" stop-opacity="0.092"/><stop offset="0.707" stop-color="#000" stop-opacity="0.058"/><stop offset="0.758" stop-color="#000" stop-opacity="0.033"/><stop offset="0.808" stop-color="#000" stop-opacity="0.013"/><stop offset="0.859" stop-color="#000" stop-opacity="0.000"/><stop offset="0.909" stop-color="#000" stop-opacity="0.000"/><stop offset="0.960" stop-color="#000" stop-opacity="0.000"/></linearGradient><linearGradient id="vg4" gradientUnits="userSpaceOnUse" x1="0" y1="390.10" x2="0" y2="473.20"><stop offset="0.000" stop-color="#000" stop-opacity="0.000"/><stop offset="0.051" stop-color="#000" stop-opacity="0.000"/><stop offset="0.101" stop-color="#000" stop-opacity="0.000"/><stop offset="0.152" stop-color="#000" stop-opacity="0.000"/><stop offset="0.202" stop-color="#000" stop-opacity="0.000"/><stop offset="0.253" stop-color="#000" stop-opacity="0.021"/><stop offset="0.303" stop-color="#000" stop-opacity="0.114"/><stop offset="0.354" stop-color="#000" stop-opacity="0.275"/><stop offset="0.404" stop-color="#000" stop-opacity="0.407"/><stop offset="0.455" stop-color="#000" stop-opacity="0.524"/><stop offset="0.505" stop-color="#000" stop-opacity="0.578"/><stop offset="0.556" stop-color="#000" stop-opacity="0.598"/><stop offset="0.606" stop-color="#000" stop-opacity="0.542"/><stop offset="0.657" stop-color="#000" stop-opacity="0.350"/><stop offset="0.707" stop-color="#000" stop-opacity="0.187"/><stop offset="0.758" stop-color="#000" stop-opacity="0.063"/><stop offset="0.808" stop-color="#000" stop-opacity="0.011"/><stop offset="0.859" stop-color="#000" stop-opacity="0.000"/><stop offset="0.909" stop-color="#000" stop-opacity="0.000"/><stop offset="0.960" stop-color="#000" stop-opacity="0.000"/></linearGradient><linearGradient id="cg4" x1="0" y1="0" x2="0" y2="1"><stop offset="0.000" stop-color="#000" stop-opacity="0.000"/><stop offset="0.051" stop-color="#000" stop-opacity="0.000"/><stop offset="0.101" stop-color="#000" stop-opacity="0.000"/><stop offset="0.152" stop-color="#000" stop-opacity="0.000"/><stop offset="0.202" stop-color="#000" stop-opacity="0.001"/><stop offset="0.253" stop-color="#000" stop-opacity="0.113"/><stop offset="0.303" stop-color="#000" stop-opacity="0.261"/><stop offset="0.354" stop-color="#000" stop-opacity="0.400"/><stop offset="0.404" stop-color="#000" stop-opacity="0.400"/><stop offset="0.455" stop-color="#000" stop-opacity="0.400"/><stop offset="0.505" stop-color="#000" stop-opacity="0.400"/><stop offset="0.556" stop-color="#000" stop-opacity="0.400"/><stop offset="0.606" stop-color="#000" stop-opacity="0.400"/><stop offset="0.657" stop-color="#000" stop-opacity="0.400"/><stop offset="0.707" stop-color="#000" stop-opacity="0.335"/><stop offset="0.758" stop-color="#000" stop-opacity="0.194"/><stop offset="0.808" stop-color="#000" stop-opacity="0.082"/><stop offset="0.859" stop-color="#000" stop-opacity="0.014"/><stop offset="0.909" stop-color="#000" stop-opacity="0.000"/><stop offset="0.960" stop-color="#000" stop-opacity="0.000"/></linearGradient><linearGradient id="vg5" gradientUnits="userSpaceOnUse" x1="0" y1="389.20" x2="0" y2="469.80"><stop offset="0.000" stop-color="#000" stop-opacity="0.000"/><stop offset="0.051" stop-color="#000" stop-opacity="0.000"/><stop offset="0.101" stop-color="#000" stop-opacity="0.000"/><stop offset="0.152" stop-color="#000" stop-opacity="0.000"/><stop offset="0.202" stop-color="#000" stop-opacity="0.000"/><stop offset="0.253" stop-color="#000" stop-opacity="0.007"/><stop offset="0.303" stop-color="#000" stop-opacity="0.053"/><stop offset="0.354" stop-color="#000" stop-opacity="0.162"/><stop offset="0.404" stop-color="#000" stop-opacity="0.276"/><stop offset="0.455" stop-color="#000" stop-opacity="0.385"/><stop offset="0.505" stop-color="#000" stop-opacity="0.474"/><stop offset="0.556" stop-color="#000" stop-opacity="0.508"/><stop offset="0.606" stop-color="#000" stop-opacity="0.519"/><stop offset="0.657" stop-color="#000" stop-opacity="0.459"/><stop offset="0.707" stop-color="#000" stop-opacity="0.269"/><stop offset="0.758" stop-color="#000" stop-opacity="0.123"/><stop offset="0.808" stop-color="#000" stop-opacity="0.031"/><stop offset="0.859" stop-color="#000" stop-opacity="0.001"/><stop offset="0.909" stop-color="#000" stop-opacity="0.000"/><stop offset="0.960" stop-color="#000" stop-opacity="0.000"/></linearGradient><linearGradient id="cg5" x1="0" y1="0" x2="0" y2="1"><stop offset="0.000" stop-color="#000" stop-opacity="0.000"/><stop offset="0.051" stop-color="#000" stop-opacity="0.000"/><stop offset="0.101" stop-color="#000" stop-opacity="0.000"/><stop offset="0.152" stop-color="#000" stop-opacity="0.000"/><stop offset="0.202" stop-color="#000" stop-opacity="0.000"/><stop offset="0.253" stop-color="#000" stop-opacity="0.071"/><stop offset="0.303" stop-color="#000" stop-opacity="0.192"/><stop offset="0.354" stop-color="#000" stop-opacity="0.335"/><stop offset="0.404" stop-color="#000" stop-opacity="0.400"/><stop offset="0.455" stop-color="#000" stop-opacity="0.400"/><stop offset="0.505" stop-color="#000" stop-opacity="0.400"/><stop offset="0.556" stop-color="#000" stop-opacity="0.400"/><stop offset="0.606" stop-color="#000" stop-opacity="0.400"/><stop offset="0.657" stop-color="#000" stop-opacity="0.400"/><stop offset="0.707" stop-color="#000" stop-opacity="0.400"/><stop offset="0.758" stop-color="#000" stop-opacity="0.292"/><stop offset="0.808" stop-color="#000" stop-opacity="0.147"/><stop offset="0.859" stop-color="#000" stop-opacity="0.030"/><stop offset="0.909" stop-color="#000" stop-opacity="0.000"/><stop offset="0.960" stop-color="#000" stop-opacity="0.000"/></linearGradient><linearGradient id="vg6" gradientUnits="userSpaceOnUse" x1="0" y1="406.00" x2="0" y2="470.70"><stop offset="0.000" stop-color="#000" stop-opacity="0.000"/><stop offset="0.051" stop-color="#000" stop-opacity="0.000"/><stop offset="0.101" stop-color="#000" stop-opacity="0.000"/><stop offset="0.152" stop-color="#000" stop-opacity="0.000"/><stop offset="0.202" stop-color="#000" stop-opacity="0.001"/><stop offset="0.253" stop-color="#000" stop-opacity="0.006"/><stop offset="0.303" stop-color="#000" stop-opacity="0.015"/><stop offset="0.354" stop-color="#000" stop-opacity="0.026"/><stop offset="0.404" stop-color="#000" stop-opacity="0.034"/><stop offset="0.455" stop-color="#000" stop-opacity="0.041"/><stop offset="0.505" stop-color="#000" stop-opacity="0.045"/><stop offset="0.556" stop-color="#000" stop-opacity="0.048"/><stop offset="0.606" stop-color="#000" stop-opacity="0.050"/><stop offset="0.657" stop-color="#000" stop-opacity="0.046"/><stop offset="0.707" stop-color="#000" stop-opacity="0.030"/><stop offset="0.758" stop-color="#000" stop-opacity="0.015"/><stop offset="0.808" stop-color="#000" stop-opacity="0.004"/><stop offset="0.859" stop-color="#000" stop-opacity="0.000"/><stop offset="0.909" stop-color="#000" stop-opacity="0.000"/><stop offset="0.960" stop-color="#000" stop-opacity="0.000"/></linearGradient><linearGradient id="cg6" x1="0" y1="0" x2="0" y2="1"><stop offset="0.000" stop-color="#000" stop-opacity="0.000"/><stop offset="0.051" stop-color="#000" stop-opacity="0.000"/><stop offset="0.101" stop-color="#000" stop-opacity="0.000"/><stop offset="0.152" stop-color="#000" stop-opacity="0.000"/><stop offset="0.202" stop-color="#000" stop-opacity="0.000"/><stop offset="0.253" stop-color="#000" stop-opacity="0.000"/><stop offset="0.303" stop-color="#000" stop-opacity="0.000"/><stop offset="0.354" stop-color="#000" stop-opacity="0.000"/><stop offset="0.404" stop-color="#000" stop-opacity="0.000"/><stop offset="0.455" stop-color="#000" stop-opacity="0.000"/><stop offset="0.505" stop-color="#000" stop-opacity="0.000"/><stop offset="0.556" stop-color="#000" stop-opacity="0.000"/><stop offset="0.606" stop-color="#000" stop-opacity="0.000"/><stop offset="0.657" stop-color="#000" stop-opacity="0.000"/><stop offset="0.707" stop-color="#000" stop-opacity="0.000"/><stop offset="0.758" stop-color="#000" stop-opacity="0.000"/><stop offset="0.808" stop-color="#000" stop-opacity="0.000"/><stop offset="0.859" stop-color="#000" stop-opacity="0.000"/><stop offset="0.909" stop-color="#000" stop-opacity="0.000"/><stop offset="0.960" stop-color="#000" stop-opacity="0.000"/></linearGradient><linearGradient id="vg7" gradientUnits="userSpaceOnUse" x1="0" y1="417.30" x2="0" y2="472.90"><stop offset="0.000" stop-color="#000" stop-opacity="0.000"/><stop offset="0.051" stop-color="#000" stop-opacity="0.000"/><stop offset="0.101" stop-color="#000" stop-opacity="0.000"/><stop offset="0.152" stop-color="#000" stop-opacity="0.000"/><stop offset="0.202" stop-color="#000" stop-opacity="0.000"/><stop offset="0.253" stop-color="#000" stop-opacity="0.000"/><stop offset="0.303" stop-color="#000" stop-opacity="0.000"/><stop offset="0.354" stop-color="#000" stop-opacity="0.000"/><stop offset="0.404" stop-color="#000" stop-opacity="0.000"/><stop offset="0.455" stop-color="#000" stop-opacity="0.000"/><stop offset="0.505" stop-color="#000" stop-opacity="0.000"/><stop offset="0.556" stop-color="#000" stop-opacity="0.000"/><stop offset="0.606" stop-color="#000" stop-opacity="0.000"/><stop offset="0.657" stop-color="#000" stop-opacity="0.000"/><stop offset="0.707" stop-color="#000" stop-opacity="0.000"/><stop offset="0.758" stop-color="#000" stop-opacity="0.000"/><stop offset="0.808" stop-color="#000" stop-opacity="0.000"/><stop offset="0.859" stop-color="#000" stop-opacity="0.000"/><stop offset="0.909" stop-color="#000" stop-opacity="0.000"/><stop offset="0.960" stop-color="#000" stop-opacity="0.000"/></linearGradient><linearGradient id="cg7" x1="0" y1="0" x2="0" y2="1"><stop offset="0.000" stop-color="#000" stop-opacity="0.000"/><stop offset="0.051" stop-color="#000" stop-opacity="0.000"/><stop offset="0.101" stop-color="#000" stop-opacity="0.000"/><stop offset="0.152" stop-color="#000" stop-opacity="0.000"/><stop offset="0.202" stop-color="#000" stop-opacity="0.000"/><stop offset="0.253" stop-color="#000" stop-opacity="0.000"/><stop offset="0.303" stop-color="#000" stop-opacity="0.000"/><stop offset="0.354" stop-color="#000" stop-opacity="0.000"/><stop offset="0.404" stop-color="#000" stop-opacity="0.000"/><stop offset="0.455" stop-color="#000" stop-opacity="0.000"/><stop offset="0.505" stop-color="#000" stop-opacity="0.000"/><stop offset="0.556" stop-color="#000" stop-opacity="0.000"/><stop offset="0.606" stop-color="#000" stop-opacity="0.000"/><stop offset="0.657" stop-color="#000" stop-opacity="0.000"/><stop offset="0.707" stop-color="#000" stop-opacity="0.000"/><stop offset="0.758" stop-color="#000" stop-opacity="0.000"/><stop offset="0.808" stop-color="#000" stop-opacity="0.000"/><stop offset="0.859" stop-color="#000" stop-opacity="0.000"/><stop offset="0.909" stop-color="#000" stop-opacity="0.000"/><stop offset="0.960" stop-color="#000" stop-opacity="0.000"/></linearGradient></defs>
<line x1="209.80" y1="479.2" x2="209.80" y2="483" stroke="#555" stroke-width="0.7"/>
<text transform="translate(212.00,491.2) rotate(-45)" font-size="6.65" text-anchor="end">NK</text>
<line x1="225.10" y1="479.2" x2="225.10" y2="483" stroke="#555" stroke-width="0.7"/>
<text transform="translate(227.30,491.2) rotate(-45)" font-size="6.65" text-anchor="end">CD8 T</text>
<line x1="240.70" y1="479.2" x2="240.70" y2="483" stroke="#555" stroke-width="0.7"/>
<text transform="translate(242.90,491.2) rotate(-45)" font-size="6.65" text-anchor="end">DC</text>
<line x1="256.40" y1="479.2" x2="256.40" y2="483" stroke="#555" stroke-width="0.7"/>
<text transform="translate(258.60,491.2) rotate(-45)" font-size="6.65" text-anchor="end">B</text>
<line x1="271.50" y1="479.2" x2="271.50" y2="483" stroke="#555" stroke-width="0.7"/>
<text transform="translate(273.70,491.2) rotate(-45)" font-size="6.65" text-anchor="end">CD4 T</text>
<line x1="287.10" y1="479.2" x2="287.10" y2="483" stroke="#555" stroke-width="0.7"/>
<text transform="translate(289.30,491.2) rotate(-45)" font-size="6.65" text-anchor="end">Monocyte</text>
<line x1="302.50" y1="479.2" x2="302.50" y2="483" stroke="#555" stroke-width="0.7"/>
<text transform="translate(304.70,491.2) rotate(-45)" font-size="6.65" text-anchor="end">Megakaryocyte</text>
<line x1="317.80" y1="479.2" x2="317.80" y2="483" stroke="#555" stroke-width="0.7"/>
<text transform="translate(320.00,491.2) rotate(-45)" font-size="6.65" text-anchor="end">Haemopoietic stem</text>
</g>
</svg>
</body></html>
